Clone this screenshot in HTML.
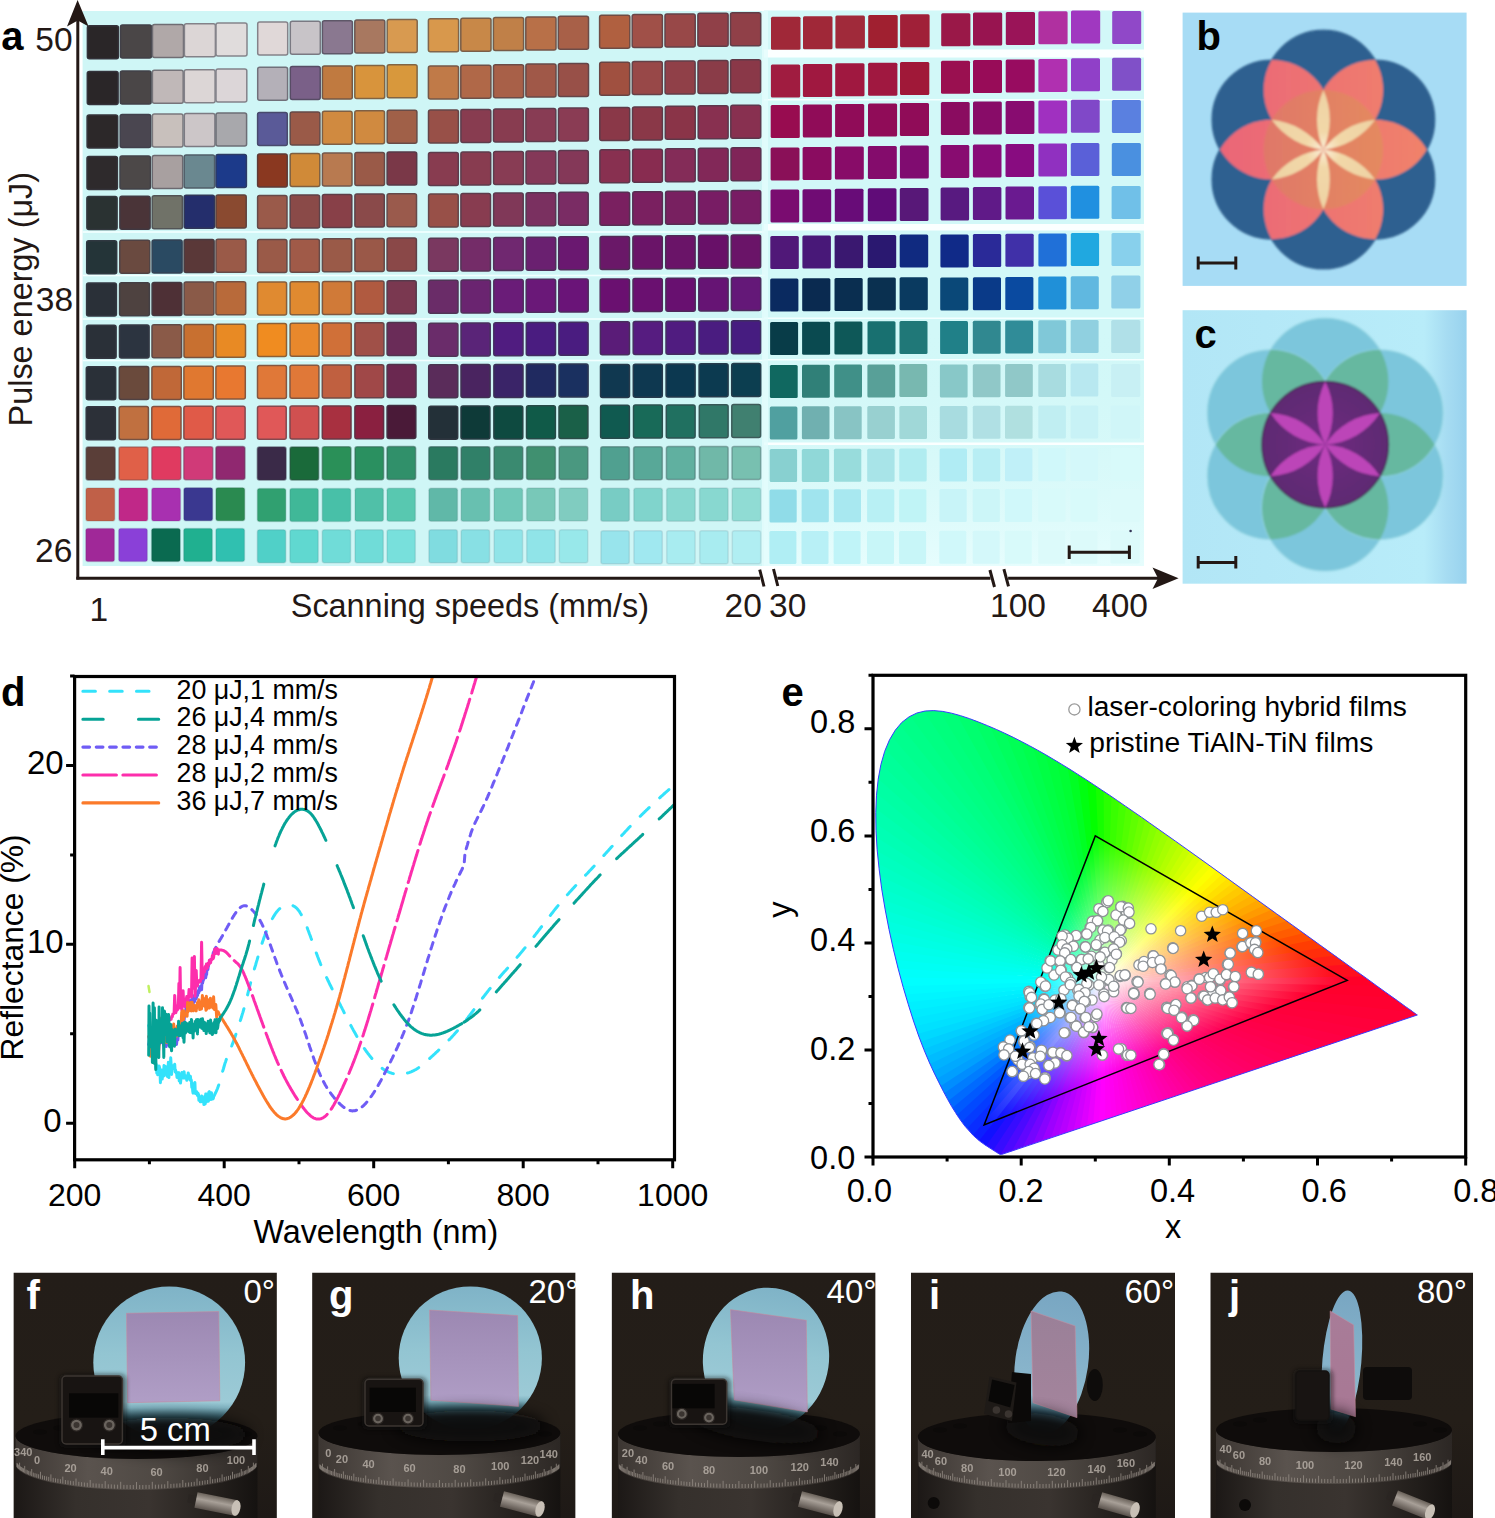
<!DOCTYPE html>
<html><head><meta charset="utf-8"><title>Figure</title>
<style>html,body{margin:0;padding:0;background:#fff;}svg{display:block;}text{font-family:"Liberation Sans",sans-serif;}</style>
</head><body>
<svg width="1495" height="1518" viewBox="0 0 1495 1518">
<rect width="1495" height="1518" fill="#fff"/>
<rect x="82.6" y="11" width="682" height="555" fill="#cff6f6"/>
<rect x="764" y="10.5" width="380" height="555.5" fill="#d2f8f8"/>
<defs><linearGradient id="abr" x1="0" y1="0" x2="0" y2="1"><stop offset="0" stop-color="#d0f6f6" stop-opacity="0"/><stop offset="1" stop-color="#e6fdfd" stop-opacity="1"/></linearGradient></defs>
<rect x="764" y="330" width="380" height="236" fill="url(#abr)"/>
<rect x="764" y="49.5" width="380" height="8" fill="#fbffff"/>
<rect x="764" y="224" width="380" height="6.5" fill="#fbffff"/>
<rect x="764" y="442.5" width="380" height="2.5" fill="#fbffff"/>
<rect x="764" y="99" width="380" height="1.5" fill="#f4ffff"/>
<rect x="764" y="317.5" width="380" height="1.5" fill="#f4ffff"/>
<rect x="764" y="359" width="380" height="1.5" fill="#f4ffff"/>
<rect x="82.6" y="231.2" width="682" height="1.6" fill="#f2ffff"/>
<rect x="82.6" y="274.7" width="682" height="1.6" fill="#f2ffff"/>
<rect x="82.6" y="318.2" width="682" height="1.6" fill="#f2ffff"/>
<rect x="82.6" y="359.7" width="682" height="1.6" fill="#f2ffff"/>
<rect x="762" y="11" width="6" height="555" fill="#e4fcfc" opacity="0.8"/>
<rect x="87.4" y="25.7" width="31.0" height="33" rx="2" fill="#2a2628" stroke="#33323a" stroke-width="1.5" stroke-opacity="1.0"/>
<rect x="120.5" y="25.0" width="31.0" height="33" rx="2" fill="#4a4647" stroke="#414048" stroke-width="1.5" stroke-opacity="1.0"/>
<rect x="152.5" y="24.4" width="31.0" height="33" rx="2" fill="#b0a8a8" stroke="#6f6d73" stroke-width="1.5" stroke-opacity="1.0"/>
<rect x="184.4" y="23.8" width="31.0" height="33" rx="2" fill="#dcd6d6" stroke="#838188" stroke-width="1.5" stroke-opacity="1.0"/>
<rect x="216.0" y="23.1" width="31.0" height="33" rx="2" fill="#e0dcdc" stroke="#85848b" stroke-width="1.5" stroke-opacity="1.0"/>
<rect x="87.3" y="71.5" width="30.8" height="33" rx="2" fill="#2a2628" stroke="#33323a" stroke-width="1.5" stroke-opacity="1.0"/>
<rect x="120.3" y="70.9" width="30.8" height="33" rx="2" fill="#4a4647" stroke="#414048" stroke-width="1.5" stroke-opacity="1.0"/>
<rect x="152.4" y="70.3" width="30.8" height="33" rx="2" fill="#c0b8b8" stroke="#76747a" stroke-width="1.5" stroke-opacity="1.0"/>
<rect x="184.3" y="69.7" width="30.8" height="33" rx="2" fill="#dcd6d6" stroke="#838188" stroke-width="1.5" stroke-opacity="1.0"/>
<rect x="216.0" y="69.1" width="30.8" height="33" rx="2" fill="#dcd6d8" stroke="#838189" stroke-width="1.5" stroke-opacity="1.0"/>
<rect x="87.1" y="115.0" width="30.6" height="33" rx="2" fill="#2c2829" stroke="#34333a" stroke-width="1.5" stroke-opacity="1.0"/>
<rect x="120.2" y="114.5" width="30.6" height="33" rx="2" fill="#4a4650" stroke="#41404c" stroke-width="1.5" stroke-opacity="1.0"/>
<rect x="152.4" y="113.9" width="30.6" height="33" rx="2" fill="#c8c0bc" stroke="#7a777c" stroke-width="1.5" stroke-opacity="1.0"/>
<rect x="184.3" y="113.4" width="30.6" height="33" rx="2" fill="#ccc6c8" stroke="#7c7a82" stroke-width="1.5" stroke-opacity="1.0"/>
<rect x="216.0" y="112.9" width="30.6" height="33" rx="2" fill="#a8a8ac" stroke="#6c6d75" stroke-width="1.5" stroke-opacity="1.0"/>
<rect x="87.0" y="156.5" width="30.4" height="33" rx="2" fill="#2e2a2c" stroke="#35343b" stroke-width="1.5" stroke-opacity="1.0"/>
<rect x="120.0" y="156.0" width="30.4" height="33" rx="2" fill="#4c4848" stroke="#424148" stroke-width="1.5" stroke-opacity="1.0"/>
<rect x="152.3" y="155.5" width="30.4" height="33" rx="2" fill="#a8a0a0" stroke="#6c6970" stroke-width="1.5" stroke-opacity="1.0"/>
<rect x="184.2" y="155.0" width="30.4" height="33" rx="2" fill="#6a8890" stroke="#505e68" stroke-width="1.5" stroke-opacity="1.0"/>
<rect x="216.0" y="154.6" width="30.4" height="33" rx="2" fill="#1c3a8a" stroke="#2c3b66" stroke-width="1.5" stroke-opacity="1.0"/>
<rect x="86.9" y="196.6" width="30.2" height="33" rx="2" fill="#2a3232" stroke="#33383e" stroke-width="1.5" stroke-opacity="1.0"/>
<rect x="119.9" y="196.2" width="30.2" height="33" rx="2" fill="#4a3438" stroke="#413841" stroke-width="1.5" stroke-opacity="1.0"/>
<rect x="152.2" y="195.7" width="30.2" height="33" rx="2" fill="#707268" stroke="#525456" stroke-width="1.5" stroke-opacity="1.0"/>
<rect x="184.2" y="195.3" width="30.2" height="33" rx="2" fill="#242e6c" stroke="#303658" stroke-width="1.5" stroke-opacity="1.0"/>
<rect x="216.0" y="194.9" width="30.2" height="33" rx="2" fill="#8a4a30" stroke="#5e423d" stroke-width="1.5" stroke-opacity="1.0"/>
<rect x="86.7" y="240.7" width="30.0" height="33" rx="2" fill="#243438" stroke="#303841" stroke-width="1.5" stroke-opacity="1.0"/>
<rect x="119.8" y="240.3" width="30.0" height="33" rx="2" fill="#6a4a40" stroke="#504244" stroke-width="1.5" stroke-opacity="1.0"/>
<rect x="152.1" y="239.9" width="30.0" height="33" rx="2" fill="#2a4a62" stroke="#334254" stroke-width="1.5" stroke-opacity="1.0"/>
<rect x="184.1" y="239.6" width="30.0" height="33" rx="2" fill="#5a3838" stroke="#483a41" stroke-width="1.5" stroke-opacity="1.0"/>
<rect x="216.0" y="239.2" width="30.0" height="33" rx="2" fill="#9a5a48" stroke="#654a48" stroke-width="1.5" stroke-opacity="1.0"/>
<rect x="86.6" y="283.0" width="29.8" height="33" rx="2" fill="#2a3038" stroke="#333741" stroke-width="1.5" stroke-opacity="1.0"/>
<rect x="119.6" y="282.7" width="29.8" height="33" rx="2" fill="#4e4240" stroke="#433f44" stroke-width="1.5" stroke-opacity="1.0"/>
<rect x="152.1" y="282.4" width="29.8" height="33" rx="2" fill="#4e3036" stroke="#433740" stroke-width="1.5" stroke-opacity="1.0"/>
<rect x="184.1" y="282.0" width="29.8" height="33" rx="2" fill="#8a5a48" stroke="#5e4a48" stroke-width="1.5" stroke-opacity="1.0"/>
<rect x="215.9" y="281.7" width="29.8" height="33" rx="2" fill="#b86a3a" stroke="#735142" stroke-width="1.5" stroke-opacity="1.0"/>
<rect x="86.5" y="325.3" width="29.6" height="33" rx="2" fill="#2a3038" stroke="#333741" stroke-width="1.5" stroke-opacity="1.0"/>
<rect x="119.5" y="325.0" width="29.6" height="33" rx="2" fill="#2c3440" stroke="#343844" stroke-width="1.5" stroke-opacity="1.0"/>
<rect x="152.0" y="324.8" width="29.6" height="33" rx="2" fill="#8a5a48" stroke="#5e4a48" stroke-width="1.5" stroke-opacity="1.0"/>
<rect x="184.0" y="324.5" width="29.6" height="33" rx="2" fill="#c87030" stroke="#7a533d" stroke-width="1.5" stroke-opacity="1.0"/>
<rect x="215.9" y="324.2" width="29.6" height="33" rx="2" fill="#e88a24" stroke="#885f38" stroke-width="1.5" stroke-opacity="1.0"/>
<rect x="86.3" y="366.8" width="29.4" height="33" rx="2" fill="#2a3038" stroke="#333741" stroke-width="1.5" stroke-opacity="1.0"/>
<rect x="119.3" y="366.6" width="29.4" height="33" rx="2" fill="#6a4a3c" stroke="#504243" stroke-width="1.5" stroke-opacity="1.0"/>
<rect x="151.9" y="366.4" width="29.4" height="33" rx="2" fill="#c06838" stroke="#765041" stroke-width="1.5" stroke-opacity="1.0"/>
<rect x="183.9" y="366.2" width="29.4" height="33" rx="2" fill="#e07830" stroke="#85573d" stroke-width="1.5" stroke-opacity="1.0"/>
<rect x="215.9" y="365.9" width="29.4" height="33" rx="2" fill="#e87830" stroke="#88573d" stroke-width="1.5" stroke-opacity="1.0"/>
<rect x="86.2" y="406.8" width="29.2" height="33" rx="2" fill="#2c3038" stroke="#343741" stroke-width="1.5" stroke-opacity="1.0"/>
<rect x="119.2" y="406.6" width="29.2" height="33" rx="2" fill="#c07040" stroke="#765344" stroke-width="1.5" stroke-opacity="1.0"/>
<rect x="151.8" y="406.5" width="29.2" height="33" rx="2" fill="#e06a38" stroke="#855141" stroke-width="1.5" stroke-opacity="1.0"/>
<rect x="183.9" y="406.3" width="29.2" height="33" rx="2" fill="#e05a48" stroke="#854a48" stroke-width="1.5" stroke-opacity="1.0"/>
<rect x="215.9" y="406.2" width="29.2" height="33" rx="2" fill="#e05858" stroke="#85494f" stroke-width="1.5" stroke-opacity="1.0"/>
<rect x="86.1" y="447.0" width="29.0" height="33" rx="2" fill="#5a3e38" stroke="#483d41" stroke-width="1.5" stroke-opacity="0.55"/>
<rect x="119.0" y="446.9" width="29.0" height="33" rx="2" fill="#e06048" stroke="#854c48" stroke-width="1.5" stroke-opacity="0.55"/>
<rect x="151.8" y="446.8" width="29.0" height="33" rx="2" fill="#e03a60" stroke="#853b53" stroke-width="1.5" stroke-opacity="0.55"/>
<rect x="183.8" y="446.7" width="29.0" height="33" rx="2" fill="#d03a78" stroke="#7e3b5e" stroke-width="1.5" stroke-opacity="0.55"/>
<rect x="215.9" y="446.6" width="29.0" height="33" rx="2" fill="#902870" stroke="#61335a" stroke-width="1.5" stroke-opacity="0.55"/>
<rect x="85.9" y="488.0" width="28.8" height="33" rx="2" fill="#c06048" stroke="#764c48" stroke-width="1.5" stroke-opacity="0.2"/>
<rect x="118.9" y="487.9" width="28.8" height="33" rx="2" fill="#c02888" stroke="#763365" stroke-width="1.5" stroke-opacity="0.2"/>
<rect x="151.7" y="487.9" width="28.8" height="33" rx="2" fill="#a830b0" stroke="#6c3777" stroke-width="1.5" stroke-opacity="0.2"/>
<rect x="183.8" y="487.8" width="28.8" height="33" rx="2" fill="#3a3890" stroke="#3a3a68" stroke-width="1.5" stroke-opacity="0.2"/>
<rect x="215.9" y="487.8" width="28.8" height="33" rx="2" fill="#2a8a50" stroke="#335f4c" stroke-width="1.5" stroke-opacity="0.2"/>
<rect x="85.8" y="528.5" width="28.6" height="33" rx="2" fill="#a02898" stroke="#68336c" stroke-width="1.5" stroke-opacity="0.2"/>
<rect x="118.7" y="528.5" width="28.6" height="33" rx="2" fill="#8a40d8" stroke="#5e3e89" stroke-width="1.5" stroke-opacity="0.2"/>
<rect x="151.6" y="528.5" width="28.6" height="33" rx="2" fill="#0a6a50" stroke="#24514c" stroke-width="1.5" stroke-opacity="0.2"/>
<rect x="183.7" y="528.5" width="28.6" height="33" rx="2" fill="#20b090" stroke="#2e7068" stroke-width="1.5" stroke-opacity="0.2"/>
<rect x="215.9" y="528.5" width="28.6" height="33" rx="2" fill="#30c0b0" stroke="#367777" stroke-width="1.5" stroke-opacity="0.2"/>
<rect x="257.7" y="22.0" width="30.0" height="33" rx="2" fill="#e0d8d8" stroke="#858289" stroke-width="1.5" stroke-opacity="1.0"/>
<rect x="290.3" y="21.3" width="30.0" height="33" rx="2" fill="#c8c4c8" stroke="#7a7982" stroke-width="1.5" stroke-opacity="1.0"/>
<rect x="322.4" y="20.7" width="30.0" height="33" rx="2" fill="#8a7890" stroke="#5e5768" stroke-width="1.5" stroke-opacity="1.0"/>
<rect x="354.8" y="20.1" width="30.0" height="33" rx="2" fill="#a87860" stroke="#6c5753" stroke-width="1.5" stroke-opacity="1.0"/>
<rect x="387.2" y="19.4" width="30.0" height="33" rx="2" fill="#d89a50" stroke="#81664c" stroke-width="1.5" stroke-opacity="1.0"/>
<rect x="257.7" y="67.2" width="29.9" height="33" rx="2" fill="#b4b0b8" stroke="#71707a" stroke-width="1.5" stroke-opacity="1.0"/>
<rect x="290.3" y="66.6" width="29.9" height="33" rx="2" fill="#7a6088" stroke="#574c65" stroke-width="1.5" stroke-opacity="1.0"/>
<rect x="322.4" y="66.0" width="29.9" height="33" rx="2" fill="#c07a40" stroke="#765844" stroke-width="1.5" stroke-opacity="1.0"/>
<rect x="354.8" y="65.4" width="29.9" height="33" rx="2" fill="#d8943c" stroke="#816443" stroke-width="1.5" stroke-opacity="1.0"/>
<rect x="387.2" y="64.8" width="29.9" height="33" rx="2" fill="#d8983c" stroke="#816543" stroke-width="1.5" stroke-opacity="1.0"/>
<rect x="257.6" y="112.4" width="29.7" height="33" rx="2" fill="#5a5a98" stroke="#484a6c" stroke-width="1.5" stroke-opacity="1.0"/>
<rect x="290.2" y="111.9" width="29.7" height="33" rx="2" fill="#9a5a48" stroke="#654a48" stroke-width="1.5" stroke-opacity="1.0"/>
<rect x="322.4" y="111.3" width="29.7" height="33" rx="2" fill="#d08a40" stroke="#7e5f44" stroke-width="1.5" stroke-opacity="1.0"/>
<rect x="354.8" y="110.8" width="29.7" height="33" rx="2" fill="#d08a40" stroke="#7e5f44" stroke-width="1.5" stroke-opacity="1.0"/>
<rect x="387.2" y="110.2" width="29.7" height="33" rx="2" fill="#a06048" stroke="#684c48" stroke-width="1.5" stroke-opacity="1.0"/>
<rect x="257.6" y="153.9" width="29.6" height="33" rx="2" fill="#8a3820" stroke="#5e3a36" stroke-width="1.5" stroke-opacity="1.0"/>
<rect x="290.2" y="153.4" width="29.6" height="33" rx="2" fill="#d08a38" stroke="#7e5f41" stroke-width="1.5" stroke-opacity="1.0"/>
<rect x="322.4" y="152.9" width="29.6" height="33" rx="2" fill="#b87a50" stroke="#73584c" stroke-width="1.5" stroke-opacity="1.0"/>
<rect x="354.9" y="152.4" width="29.6" height="33" rx="2" fill="#9a5a48" stroke="#654a48" stroke-width="1.5" stroke-opacity="1.0"/>
<rect x="387.1" y="152.0" width="29.6" height="33" rx="2" fill="#7a3848" stroke="#573a48" stroke-width="1.5" stroke-opacity="1.0"/>
<rect x="257.6" y="195.4" width="29.4" height="33" rx="2" fill="#9a5a4a" stroke="#654a49" stroke-width="1.5" stroke-opacity="1.0"/>
<rect x="290.2" y="195.0" width="29.4" height="33" rx="2" fill="#8a4a48" stroke="#5e4248" stroke-width="1.5" stroke-opacity="1.0"/>
<rect x="322.4" y="194.5" width="29.4" height="33" rx="2" fill="#884048" stroke="#5d3e48" stroke-width="1.5" stroke-opacity="1.0"/>
<rect x="354.9" y="194.1" width="29.4" height="33" rx="2" fill="#8a4a4a" stroke="#5e4249" stroke-width="1.5" stroke-opacity="1.0"/>
<rect x="387.1" y="193.7" width="29.4" height="33" rx="2" fill="#9a5a4c" stroke="#654a4a" stroke-width="1.5" stroke-opacity="1.0"/>
<rect x="257.6" y="239.6" width="29.3" height="33" rx="2" fill="#9a5a48" stroke="#654a48" stroke-width="1.5" stroke-opacity="1.0"/>
<rect x="290.1" y="239.2" width="29.3" height="33" rx="2" fill="#a05a48" stroke="#684a48" stroke-width="1.5" stroke-opacity="1.0"/>
<rect x="322.4" y="238.8" width="29.3" height="33" rx="2" fill="#9a5a48" stroke="#654a48" stroke-width="1.5" stroke-opacity="1.0"/>
<rect x="354.9" y="238.5" width="29.3" height="33" rx="2" fill="#9a5848" stroke="#654948" stroke-width="1.5" stroke-opacity="1.0"/>
<rect x="387.1" y="238.1" width="29.3" height="33" rx="2" fill="#8a4848" stroke="#5e4148" stroke-width="1.5" stroke-opacity="1.0"/>
<rect x="257.5" y="282.0" width="29.1" height="33" rx="2" fill="#e08a30" stroke="#855f3d" stroke-width="1.5" stroke-opacity="1.0"/>
<rect x="290.1" y="281.7" width="29.1" height="33" rx="2" fill="#e08a30" stroke="#855f3d" stroke-width="1.5" stroke-opacity="1.0"/>
<rect x="322.4" y="281.4" width="29.1" height="33" rx="2" fill="#d07a38" stroke="#7e5841" stroke-width="1.5" stroke-opacity="1.0"/>
<rect x="354.9" y="281.0" width="29.1" height="33" rx="2" fill="#b05a40" stroke="#6f4a44" stroke-width="1.5" stroke-opacity="1.0"/>
<rect x="387.1" y="280.7" width="29.1" height="33" rx="2" fill="#7a3850" stroke="#573a4c" stroke-width="1.5" stroke-opacity="1.0"/>
<rect x="257.5" y="323.6" width="29.0" height="33" rx="2" fill="#f08c20" stroke="#8c6036" stroke-width="1.5" stroke-opacity="1.0"/>
<rect x="290.1" y="323.3" width="29.0" height="33" rx="2" fill="#e8882c" stroke="#885e3b" stroke-width="1.5" stroke-opacity="1.0"/>
<rect x="322.3" y="323.1" width="29.0" height="33" rx="2" fill="#d07038" stroke="#7e5341" stroke-width="1.5" stroke-opacity="1.0"/>
<rect x="354.9" y="322.8" width="29.0" height="33" rx="2" fill="#a05048" stroke="#684548" stroke-width="1.5" stroke-opacity="1.0"/>
<rect x="387.1" y="322.5" width="29.0" height="33" rx="2" fill="#6a2c58" stroke="#50354f" stroke-width="1.5" stroke-opacity="1.0"/>
<rect x="257.5" y="365.4" width="28.9" height="33" rx="2" fill="#e07838" stroke="#855741" stroke-width="1.5" stroke-opacity="1.0"/>
<rect x="290.0" y="365.2" width="28.9" height="33" rx="2" fill="#e07838" stroke="#855741" stroke-width="1.5" stroke-opacity="1.0"/>
<rect x="322.3" y="365.0" width="28.9" height="33" rx="2" fill="#c06040" stroke="#764c44" stroke-width="1.5" stroke-opacity="1.0"/>
<rect x="354.9" y="364.8" width="28.9" height="33" rx="2" fill="#a04848" stroke="#684148" stroke-width="1.5" stroke-opacity="1.0"/>
<rect x="387.1" y="364.5" width="28.9" height="33" rx="2" fill="#6a2850" stroke="#50334c" stroke-width="1.5" stroke-opacity="1.0"/>
<rect x="257.5" y="406.2" width="28.7" height="33" rx="2" fill="#e05858" stroke="#85494f" stroke-width="1.5" stroke-opacity="1.0"/>
<rect x="290.0" y="406.0" width="28.7" height="33" rx="2" fill="#d05050" stroke="#7e454c" stroke-width="1.5" stroke-opacity="1.0"/>
<rect x="322.3" y="405.9" width="28.7" height="33" rx="2" fill="#a83040" stroke="#6c3744" stroke-width="1.5" stroke-opacity="1.0"/>
<rect x="354.9" y="405.7" width="28.7" height="33" rx="2" fill="#8a2040" stroke="#5e2f44" stroke-width="1.5" stroke-opacity="1.0"/>
<rect x="387.1" y="405.6" width="28.7" height="33" rx="2" fill="#4a1a38" stroke="#412d41" stroke-width="1.5" stroke-opacity="1.0"/>
<rect x="257.4" y="447.0" width="28.6" height="33" rx="2" fill="#3a2a48" stroke="#3a3448" stroke-width="1.5" stroke-opacity="0.55"/>
<rect x="290.0" y="446.9" width="28.6" height="33" rx="2" fill="#1a6a3a" stroke="#2c5142" stroke-width="1.5" stroke-opacity="0.55"/>
<rect x="322.3" y="446.8" width="28.6" height="33" rx="2" fill="#2a9058" stroke="#33624f" stroke-width="1.5" stroke-opacity="0.55"/>
<rect x="355.0" y="446.7" width="28.6" height="33" rx="2" fill="#2a9060" stroke="#336253" stroke-width="1.5" stroke-opacity="0.55"/>
<rect x="387.0" y="446.6" width="28.6" height="33" rx="2" fill="#30906a" stroke="#366257" stroke-width="1.5" stroke-opacity="0.55"/>
<rect x="257.4" y="488.5" width="28.4" height="33" rx="2" fill="#30a070" stroke="#36695a" stroke-width="1.5" stroke-opacity="0.2"/>
<rect x="289.9" y="488.4" width="28.4" height="33" rx="2" fill="#40b898" stroke="#3d746c" stroke-width="1.5" stroke-opacity="0.2"/>
<rect x="322.3" y="488.4" width="28.4" height="33" rx="2" fill="#48c0a8" stroke="#407773" stroke-width="1.5" stroke-opacity="0.2"/>
<rect x="355.0" y="488.3" width="28.4" height="33" rx="2" fill="#50c0a8" stroke="#447773" stroke-width="1.5" stroke-opacity="0.2"/>
<rect x="387.0" y="488.3" width="28.4" height="33" rx="2" fill="#58c8b0" stroke="#487b77" stroke-width="1.5" stroke-opacity="0.2"/>
<rect x="257.4" y="529.7" width="28.3" height="33" rx="2" fill="#50d0c8" stroke="#447f82" stroke-width="1.5" stroke-opacity="0.2"/>
<rect x="289.9" y="529.7" width="28.3" height="33" rx="2" fill="#60d8d0" stroke="#4b8285" stroke-width="1.5" stroke-opacity="0.2"/>
<rect x="322.3" y="529.7" width="28.3" height="33" rx="2" fill="#70dcd8" stroke="#528489" stroke-width="1.5" stroke-opacity="0.2"/>
<rect x="355.0" y="529.7" width="28.3" height="33" rx="2" fill="#70dcd8" stroke="#528489" stroke-width="1.5" stroke-opacity="0.2"/>
<rect x="387.0" y="529.7" width="28.3" height="33" rx="2" fill="#78e0dc" stroke="#56868b" stroke-width="1.5" stroke-opacity="0.2"/>
<rect x="428.4" y="18.8" width="30.2" height="33" rx="2" fill="#d8984c" stroke="#81654a" stroke-width="1.5" stroke-opacity="1.0"/>
<rect x="460.8" y="18.2" width="30.2" height="33" rx="2" fill="#c88848" stroke="#7a5e48" stroke-width="1.5" stroke-opacity="1.0"/>
<rect x="493.4" y="17.5" width="30.2" height="33" rx="2" fill="#c08048" stroke="#765b48" stroke-width="1.5" stroke-opacity="1.0"/>
<rect x="525.8" y="16.9" width="30.2" height="33" rx="2" fill="#b87048" stroke="#735348" stroke-width="1.5" stroke-opacity="1.0"/>
<rect x="558.3" y="16.2" width="30.2" height="33" rx="2" fill="#a86048" stroke="#6c4c48" stroke-width="1.5" stroke-opacity="1.0"/>
<rect x="428.4" y="65.9" width="30.1" height="33" rx="2" fill="#c07a48" stroke="#765848" stroke-width="1.5" stroke-opacity="1.0"/>
<rect x="460.8" y="65.3" width="30.1" height="33" rx="2" fill="#b06848" stroke="#6f5048" stroke-width="1.5" stroke-opacity="1.0"/>
<rect x="493.5" y="64.7" width="30.1" height="33" rx="2" fill="#a86048" stroke="#6c4c48" stroke-width="1.5" stroke-opacity="1.0"/>
<rect x="525.9" y="64.1" width="30.1" height="33" rx="2" fill="#a05848" stroke="#684948" stroke-width="1.5" stroke-opacity="1.0"/>
<rect x="558.4" y="63.5" width="30.1" height="33" rx="2" fill="#985048" stroke="#644548" stroke-width="1.5" stroke-opacity="1.0"/>
<rect x="428.5" y="110.1" width="29.9" height="33" rx="2" fill="#985048" stroke="#644548" stroke-width="1.5" stroke-opacity="1.0"/>
<rect x="460.9" y="109.6" width="29.9" height="33" rx="2" fill="#883c50" stroke="#5d3c4c" stroke-width="1.5" stroke-opacity="1.0"/>
<rect x="493.5" y="109.0" width="29.9" height="33" rx="2" fill="#883c50" stroke="#5d3c4c" stroke-width="1.5" stroke-opacity="1.0"/>
<rect x="525.9" y="108.5" width="29.9" height="33" rx="2" fill="#883c54" stroke="#5d3c4d" stroke-width="1.5" stroke-opacity="1.0"/>
<rect x="558.5" y="107.9" width="29.9" height="33" rx="2" fill="#8a3c54" stroke="#5e3c4d" stroke-width="1.5" stroke-opacity="1.0"/>
<rect x="428.5" y="152.5" width="29.8" height="33" rx="2" fill="#883c50" stroke="#5d3c4c" stroke-width="1.5" stroke-opacity="1.0"/>
<rect x="460.9" y="152.0" width="29.8" height="33" rx="2" fill="#883c50" stroke="#5d3c4c" stroke-width="1.5" stroke-opacity="1.0"/>
<rect x="493.6" y="151.5" width="29.8" height="33" rx="2" fill="#883c54" stroke="#5d3c4d" stroke-width="1.5" stroke-opacity="1.0"/>
<rect x="526.0" y="151.0" width="29.8" height="33" rx="2" fill="#843858" stroke="#5b3a4f" stroke-width="1.5" stroke-opacity="1.0"/>
<rect x="558.5" y="150.5" width="29.8" height="33" rx="2" fill="#843858" stroke="#5b3a4f" stroke-width="1.5" stroke-opacity="1.0"/>
<rect x="428.6" y="194.0" width="29.6" height="33" rx="2" fill="#985048" stroke="#644548" stroke-width="1.5" stroke-opacity="1.0"/>
<rect x="460.9" y="193.6" width="29.6" height="33" rx="2" fill="#883c50" stroke="#5d3c4c" stroke-width="1.5" stroke-opacity="1.0"/>
<rect x="493.6" y="193.1" width="29.6" height="33" rx="2" fill="#803858" stroke="#5a3a4f" stroke-width="1.5" stroke-opacity="1.0"/>
<rect x="526.1" y="192.7" width="29.6" height="33" rx="2" fill="#7a3060" stroke="#573753" stroke-width="1.5" stroke-opacity="1.0"/>
<rect x="558.6" y="192.3" width="29.6" height="33" rx="2" fill="#7a2c64" stroke="#573555" stroke-width="1.5" stroke-opacity="1.0"/>
<rect x="428.6" y="238.3" width="29.5" height="33" rx="2" fill="#7a3860" stroke="#573a53" stroke-width="1.5" stroke-opacity="1.0"/>
<rect x="460.9" y="237.9" width="29.5" height="33" rx="2" fill="#742c68" stroke="#543556" stroke-width="1.5" stroke-opacity="1.0"/>
<rect x="493.7" y="237.5" width="29.5" height="33" rx="2" fill="#702870" stroke="#52335a" stroke-width="1.5" stroke-opacity="1.0"/>
<rect x="526.2" y="237.2" width="29.5" height="33" rx="2" fill="#6a2070" stroke="#502f5a" stroke-width="1.5" stroke-opacity="1.0"/>
<rect x="558.7" y="236.8" width="29.5" height="33" rx="2" fill="#6a1870" stroke="#502c5a" stroke-width="1.5" stroke-opacity="1.0"/>
<rect x="428.6" y="280.3" width="29.4" height="33" rx="2" fill="#6a2c68" stroke="#503556" stroke-width="1.5" stroke-opacity="1.0"/>
<rect x="461.0" y="280.0" width="29.4" height="33" rx="2" fill="#6a2470" stroke="#50315a" stroke-width="1.5" stroke-opacity="1.0"/>
<rect x="493.8" y="279.6" width="29.4" height="33" rx="2" fill="#6a1c78" stroke="#502e5e" stroke-width="1.5" stroke-opacity="1.0"/>
<rect x="526.2" y="279.3" width="29.4" height="33" rx="2" fill="#6a1878" stroke="#502c5e" stroke-width="1.5" stroke-opacity="1.0"/>
<rect x="558.8" y="279.0" width="29.4" height="33" rx="2" fill="#6a1478" stroke="#502a5e" stroke-width="1.5" stroke-opacity="1.0"/>
<rect x="428.7" y="323.3" width="29.2" height="33" rx="2" fill="#6a2c6a" stroke="#503557" stroke-width="1.5" stroke-opacity="1.0"/>
<rect x="461.0" y="323.0" width="29.2" height="33" rx="2" fill="#5a2478" stroke="#48315e" stroke-width="1.5" stroke-opacity="1.0"/>
<rect x="493.8" y="322.8" width="29.2" height="33" rx="2" fill="#501c80" stroke="#442e61" stroke-width="1.5" stroke-opacity="1.0"/>
<rect x="526.3" y="322.5" width="29.2" height="33" rx="2" fill="#4a1c80" stroke="#412e61" stroke-width="1.5" stroke-opacity="1.0"/>
<rect x="558.9" y="322.2" width="29.2" height="33" rx="2" fill="#4a1c80" stroke="#412e61" stroke-width="1.5" stroke-opacity="1.0"/>
<rect x="428.7" y="364.8" width="29.1" height="33" rx="2" fill="#5a2c5a" stroke="#483550" stroke-width="1.5" stroke-opacity="1.0"/>
<rect x="461.0" y="364.6" width="29.1" height="33" rx="2" fill="#4a2460" stroke="#413153" stroke-width="1.5" stroke-opacity="1.0"/>
<rect x="493.9" y="364.4" width="29.1" height="33" rx="2" fill="#3a2468" stroke="#3a3156" stroke-width="1.5" stroke-opacity="1.0"/>
<rect x="526.4" y="364.1" width="29.1" height="33" rx="2" fill="#202a60" stroke="#2e3453" stroke-width="1.5" stroke-opacity="1.0"/>
<rect x="559.0" y="363.9" width="29.1" height="33" rx="2" fill="#1a3060" stroke="#2c3753" stroke-width="1.5" stroke-opacity="1.0"/>
<rect x="428.8" y="406.3" width="28.9" height="33" rx="2" fill="#233038" stroke="#303741" stroke-width="1.5" stroke-opacity="1.0"/>
<rect x="461.0" y="406.1" width="28.9" height="33" rx="2" fill="#0e3a38" stroke="#263b41" stroke-width="1.5" stroke-opacity="1.0"/>
<rect x="493.9" y="406.0" width="28.9" height="33" rx="2" fill="#0e4a40" stroke="#264244" stroke-width="1.5" stroke-opacity="1.0"/>
<rect x="526.5" y="405.8" width="28.9" height="33" rx="2" fill="#105a48" stroke="#274a48" stroke-width="1.5" stroke-opacity="1.0"/>
<rect x="559.0" y="405.6" width="28.9" height="33" rx="2" fill="#1a6048" stroke="#2c4c48" stroke-width="1.5" stroke-opacity="1.0"/>
<rect x="428.8" y="446.8" width="28.8" height="33" rx="2" fill="#2a7a60" stroke="#335853" stroke-width="1.5" stroke-opacity="0.55"/>
<rect x="461.1" y="446.7" width="28.8" height="33" rx="2" fill="#308068" stroke="#365b56" stroke-width="1.5" stroke-opacity="0.55"/>
<rect x="494.0" y="446.6" width="28.8" height="33" rx="2" fill="#3a8a70" stroke="#3a5f5a" stroke-width="1.5" stroke-opacity="0.55"/>
<rect x="526.6" y="446.5" width="28.8" height="33" rx="2" fill="#409070" stroke="#3d625a" stroke-width="1.5" stroke-opacity="0.55"/>
<rect x="559.1" y="446.4" width="28.8" height="33" rx="2" fill="#4a9880" stroke="#416561" stroke-width="1.5" stroke-opacity="0.55"/>
<rect x="428.9" y="488.3" width="28.6" height="33" rx="2" fill="#60b8a8" stroke="#4b7473" stroke-width="1.5" stroke-opacity="0.2"/>
<rect x="461.1" y="488.2" width="28.6" height="33" rx="2" fill="#68c0b0" stroke="#4f7777" stroke-width="1.5" stroke-opacity="0.2"/>
<rect x="494.0" y="488.2" width="28.6" height="33" rx="2" fill="#70c8b8" stroke="#527b7a" stroke-width="1.5" stroke-opacity="0.2"/>
<rect x="526.6" y="488.1" width="28.6" height="33" rx="2" fill="#78c8b8" stroke="#567b7a" stroke-width="1.5" stroke-opacity="0.2"/>
<rect x="559.2" y="488.1" width="28.6" height="33" rx="2" fill="#80ccc0" stroke="#5a7d7e" stroke-width="1.5" stroke-opacity="0.2"/>
<rect x="428.9" y="529.8" width="28.5" height="33" rx="2" fill="#80dce0" stroke="#5a848c" stroke-width="1.5" stroke-opacity="0.2"/>
<rect x="461.1" y="529.8" width="28.5" height="33" rx="2" fill="#88e0e4" stroke="#5d868e" stroke-width="1.5" stroke-opacity="0.2"/>
<rect x="494.1" y="529.8" width="28.5" height="33" rx="2" fill="#90e4e8" stroke="#618890" stroke-width="1.5" stroke-opacity="0.2"/>
<rect x="526.7" y="529.8" width="28.5" height="33" rx="2" fill="#90e4e8" stroke="#618890" stroke-width="1.5" stroke-opacity="0.2"/>
<rect x="559.3" y="529.8" width="28.5" height="33" rx="2" fill="#98e8ea" stroke="#648991" stroke-width="1.5" stroke-opacity="0.2"/>
<rect x="599.6" y="15.3" width="30.2" height="33" rx="2" fill="#b06040" stroke="#6f4c44" stroke-width="1.5" stroke-opacity="1.0"/>
<rect x="632.2" y="14.6" width="30.2" height="33" rx="2" fill="#a05048" stroke="#684548" stroke-width="1.5" stroke-opacity="1.0"/>
<rect x="665.0" y="14.0" width="30.2" height="33" rx="2" fill="#984848" stroke="#644148" stroke-width="1.5" stroke-opacity="1.0"/>
<rect x="697.9" y="13.3" width="30.2" height="33" rx="2" fill="#904048" stroke="#613e48" stroke-width="1.5" stroke-opacity="1.0"/>
<rect x="730.5" y="12.7" width="30.2" height="33" rx="2" fill="#904048" stroke="#613e48" stroke-width="1.5" stroke-opacity="1.0"/>
<rect x="599.7" y="62.2" width="30.0" height="33" rx="2" fill="#a05040" stroke="#684544" stroke-width="1.5" stroke-opacity="1.0"/>
<rect x="632.3" y="61.6" width="30.0" height="33" rx="2" fill="#984848" stroke="#644148" stroke-width="1.5" stroke-opacity="1.0"/>
<rect x="665.1" y="61.0" width="30.0" height="33" rx="2" fill="#904048" stroke="#613e48" stroke-width="1.5" stroke-opacity="1.0"/>
<rect x="698.0" y="60.4" width="30.0" height="33" rx="2" fill="#8a3c48" stroke="#5e3c48" stroke-width="1.5" stroke-opacity="1.0"/>
<rect x="730.6" y="59.8" width="30.0" height="33" rx="2" fill="#8a3848" stroke="#5e3a48" stroke-width="1.5" stroke-opacity="1.0"/>
<rect x="599.8" y="107.4" width="29.9" height="33" rx="2" fill="#8a3848" stroke="#5e3a48" stroke-width="1.5" stroke-opacity="1.0"/>
<rect x="632.5" y="106.9" width="29.9" height="33" rx="2" fill="#8a3848" stroke="#5e3a48" stroke-width="1.5" stroke-opacity="1.0"/>
<rect x="665.3" y="106.3" width="29.9" height="33" rx="2" fill="#8a3448" stroke="#5e3848" stroke-width="1.5" stroke-opacity="1.0"/>
<rect x="698.2" y="105.8" width="29.9" height="33" rx="2" fill="#883050" stroke="#5d374c" stroke-width="1.5" stroke-opacity="1.0"/>
<rect x="730.8" y="105.2" width="29.9" height="33" rx="2" fill="#883050" stroke="#5d374c" stroke-width="1.5" stroke-opacity="1.0"/>
<rect x="599.9" y="149.8" width="29.8" height="33" rx="2" fill="#883050" stroke="#5d374c" stroke-width="1.5" stroke-opacity="1.0"/>
<rect x="632.6" y="149.3" width="29.8" height="33" rx="2" fill="#882c50" stroke="#5d354c" stroke-width="1.5" stroke-opacity="1.0"/>
<rect x="665.4" y="148.8" width="29.8" height="33" rx="2" fill="#842c58" stroke="#5b354f" stroke-width="1.5" stroke-opacity="1.0"/>
<rect x="698.3" y="148.3" width="29.8" height="33" rx="2" fill="#822858" stroke="#5a334f" stroke-width="1.5" stroke-opacity="1.0"/>
<rect x="731.0" y="147.8" width="29.8" height="33" rx="2" fill="#802458" stroke="#5a314f" stroke-width="1.5" stroke-opacity="1.0"/>
<rect x="600.0" y="192.2" width="29.6" height="33" rx="2" fill="#7a2060" stroke="#572f53" stroke-width="1.5" stroke-opacity="1.0"/>
<rect x="632.8" y="191.8" width="29.6" height="33" rx="2" fill="#7a2060" stroke="#572f53" stroke-width="1.5" stroke-opacity="1.0"/>
<rect x="665.6" y="191.3" width="29.6" height="33" rx="2" fill="#782060" stroke="#562f53" stroke-width="1.5" stroke-opacity="1.0"/>
<rect x="698.5" y="190.9" width="29.6" height="33" rx="2" fill="#781c64" stroke="#562e55" stroke-width="1.5" stroke-opacity="1.0"/>
<rect x="731.1" y="190.4" width="29.6" height="33" rx="2" fill="#781c64" stroke="#562e55" stroke-width="1.5" stroke-opacity="1.0"/>
<rect x="600.1" y="236.5" width="29.4" height="33" rx="2" fill="#6a1868" stroke="#502c56" stroke-width="1.5" stroke-opacity="1.0"/>
<rect x="632.9" y="236.1" width="29.4" height="33" rx="2" fill="#6a1468" stroke="#502a56" stroke-width="1.5" stroke-opacity="1.0"/>
<rect x="665.7" y="235.7" width="29.4" height="33" rx="2" fill="#6a1468" stroke="#502a56" stroke-width="1.5" stroke-opacity="1.0"/>
<rect x="698.6" y="235.3" width="29.4" height="33" rx="2" fill="#681068" stroke="#4f2856" stroke-width="1.5" stroke-opacity="1.0"/>
<rect x="731.2" y="235.0" width="29.4" height="33" rx="2" fill="#6a1468" stroke="#502a56" stroke-width="1.5" stroke-opacity="1.0"/>
<rect x="600.2" y="278.9" width="29.3" height="33" rx="2" fill="#6a1070" stroke="#50285a" stroke-width="1.5" stroke-opacity="1.0"/>
<rect x="633.0" y="278.6" width="29.3" height="33" rx="2" fill="#6a1070" stroke="#50285a" stroke-width="1.5" stroke-opacity="1.0"/>
<rect x="665.9" y="278.2" width="29.3" height="33" rx="2" fill="#681070" stroke="#4f285a" stroke-width="1.5" stroke-opacity="1.0"/>
<rect x="698.8" y="277.9" width="29.3" height="33" rx="2" fill="#661474" stroke="#4e2a5c" stroke-width="1.5" stroke-opacity="1.0"/>
<rect x="731.4" y="277.6" width="29.3" height="33" rx="2" fill="#641878" stroke="#4d2c5e" stroke-width="1.5" stroke-opacity="1.0"/>
<rect x="600.4" y="321.8" width="29.1" height="33" rx="2" fill="#5a1c78" stroke="#482e5e" stroke-width="1.5" stroke-opacity="1.0"/>
<rect x="633.2" y="321.5" width="29.1" height="33" rx="2" fill="#561c80" stroke="#472e61" stroke-width="1.5" stroke-opacity="1.0"/>
<rect x="666.0" y="321.2" width="29.1" height="33" rx="2" fill="#501c80" stroke="#442e61" stroke-width="1.5" stroke-opacity="1.0"/>
<rect x="699.0" y="321.0" width="29.1" height="33" rx="2" fill="#4a1c80" stroke="#412e61" stroke-width="1.5" stroke-opacity="1.0"/>
<rect x="731.5" y="320.7" width="29.1" height="33" rx="2" fill="#461c80" stroke="#3f2e61" stroke-width="1.5" stroke-opacity="1.0"/>
<rect x="600.5" y="364.4" width="29.0" height="33" rx="2" fill="#103850" stroke="#273a4c" stroke-width="1.5" stroke-opacity="1.0"/>
<rect x="633.3" y="364.2" width="29.0" height="33" rx="2" fill="#0e3850" stroke="#263a4c" stroke-width="1.5" stroke-opacity="1.0"/>
<rect x="666.1" y="364.0" width="29.0" height="33" rx="2" fill="#0c3850" stroke="#253a4c" stroke-width="1.5" stroke-opacity="1.0"/>
<rect x="699.1" y="363.7" width="29.0" height="33" rx="2" fill="#0c3a50" stroke="#253b4c" stroke-width="1.5" stroke-opacity="1.0"/>
<rect x="731.7" y="363.5" width="29.0" height="33" rx="2" fill="#0c3e50" stroke="#253d4c" stroke-width="1.5" stroke-opacity="1.0"/>
<rect x="600.6" y="405.3" width="28.8" height="33" rx="2" fill="#105a50" stroke="#274a4c" stroke-width="1.5" stroke-opacity="1.0"/>
<rect x="633.5" y="405.1" width="28.8" height="33" rx="2" fill="#186a58" stroke="#2b514f" stroke-width="1.5" stroke-opacity="1.0"/>
<rect x="666.3" y="405.0" width="28.8" height="33" rx="2" fill="#207060" stroke="#2e5353" stroke-width="1.5" stroke-opacity="1.0"/>
<rect x="699.3" y="404.8" width="28.8" height="33" rx="2" fill="#307868" stroke="#365756" stroke-width="1.5" stroke-opacity="1.0"/>
<rect x="731.8" y="404.6" width="28.8" height="33" rx="2" fill="#408070" stroke="#3d5b5a" stroke-width="1.5" stroke-opacity="1.0"/>
<rect x="600.7" y="446.8" width="28.7" height="33" rx="2" fill="#50a090" stroke="#446968" stroke-width="1.5" stroke-opacity="0.55"/>
<rect x="633.6" y="446.7" width="28.7" height="33" rx="2" fill="#58a898" stroke="#486d6c" stroke-width="1.5" stroke-opacity="0.55"/>
<rect x="666.4" y="446.6" width="28.7" height="33" rx="2" fill="#60b0a0" stroke="#4b7070" stroke-width="1.5" stroke-opacity="0.55"/>
<rect x="699.4" y="446.5" width="28.7" height="33" rx="2" fill="#70b8a8" stroke="#527473" stroke-width="1.5" stroke-opacity="0.55"/>
<rect x="732.0" y="446.4" width="28.7" height="33" rx="2" fill="#78c0b0" stroke="#567777" stroke-width="1.5" stroke-opacity="0.55"/>
<rect x="600.8" y="488.3" width="28.6" height="33" rx="2" fill="#78ccc4" stroke="#567d80" stroke-width="1.5" stroke-opacity="0.2"/>
<rect x="633.8" y="488.2" width="28.6" height="33" rx="2" fill="#80d4cc" stroke="#5a8083" stroke-width="1.5" stroke-opacity="0.2"/>
<rect x="666.6" y="488.2" width="28.6" height="33" rx="2" fill="#88d8d0" stroke="#5d8285" stroke-width="1.5" stroke-opacity="0.2"/>
<rect x="699.5" y="488.1" width="28.6" height="33" rx="2" fill="#88d8d0" stroke="#5d8285" stroke-width="1.5" stroke-opacity="0.2"/>
<rect x="732.1" y="488.1" width="28.6" height="33" rx="2" fill="#90dcd4" stroke="#618487" stroke-width="1.5" stroke-opacity="0.2"/>
<rect x="600.9" y="530.8" width="28.4" height="33" rx="2" fill="#98e4ec" stroke="#648892" stroke-width="1.5" stroke-opacity="0.2"/>
<rect x="633.9" y="530.8" width="28.4" height="33" rx="2" fill="#a0e8f0" stroke="#688994" stroke-width="1.5" stroke-opacity="0.2"/>
<rect x="666.7" y="530.8" width="28.4" height="33" rx="2" fill="#a8ecf0" stroke="#6c8b94" stroke-width="1.5" stroke-opacity="0.2"/>
<rect x="699.7" y="530.8" width="28.4" height="33" rx="2" fill="#a8ecf0" stroke="#6c8b94" stroke-width="1.5" stroke-opacity="0.2"/>
<rect x="732.3" y="530.8" width="28.4" height="33" rx="2" fill="#b0eef2" stroke="#6f8c94" stroke-width="1.5" stroke-opacity="0.2"/>
<rect x="771.0" y="16.8" width="29.5" height="33" rx="1.5" fill="#a02838"/>
<rect x="803.0" y="16.2" width="29.5" height="33" rx="1.5" fill="#a02838"/>
<rect x="835.4" y="15.5" width="29.5" height="33" rx="1.5" fill="#a02a3a"/>
<rect x="868.2" y="14.9" width="29.5" height="33" rx="1.5" fill="#a02030"/>
<rect x="900.1" y="14.2" width="29.5" height="33" rx="1.5" fill="#a02038"/>
<rect x="770.9" y="64.5" width="29.3" height="33" rx="1.5" fill="#a01c40"/>
<rect x="802.9" y="63.9" width="29.3" height="33" rx="1.5" fill="#a01840"/>
<rect x="835.2" y="63.3" width="29.3" height="33" rx="1.5" fill="#a01840"/>
<rect x="868.1" y="62.7" width="29.3" height="33" rx="1.5" fill="#a01840"/>
<rect x="900.0" y="62.1" width="29.3" height="33" rx="1.5" fill="#a01838"/>
<rect x="770.7" y="105.0" width="29.1" height="33" rx="1.5" fill="#980c50"/>
<rect x="802.8" y="104.5" width="29.1" height="33" rx="1.5" fill="#900c58"/>
<rect x="835.1" y="103.9" width="29.1" height="33" rx="1.5" fill="#900c58"/>
<rect x="868.0" y="103.4" width="29.1" height="33" rx="1.5" fill="#900c58"/>
<rect x="899.9" y="102.9" width="29.1" height="33" rx="1.5" fill="#900c58"/>
<rect x="770.6" y="147.5" width="28.9" height="33" rx="1.5" fill="#8a1058"/>
<rect x="802.6" y="147.0" width="28.9" height="33" rx="1.5" fill="#8a0c60"/>
<rect x="834.9" y="146.5" width="28.9" height="33" rx="1.5" fill="#880c68"/>
<rect x="867.9" y="146.0" width="28.9" height="33" rx="1.5" fill="#840c6c"/>
<rect x="899.9" y="145.6" width="28.9" height="33" rx="1.5" fill="#800c70"/>
<rect x="770.5" y="189.6" width="28.7" height="33" rx="1.5" fill="#7a0c70"/>
<rect x="802.5" y="189.2" width="28.7" height="33" rx="1.5" fill="#700c74"/>
<rect x="834.8" y="188.7" width="28.7" height="33" rx="1.5" fill="#680c78"/>
<rect x="867.8" y="188.3" width="28.7" height="33" rx="1.5" fill="#600c78"/>
<rect x="899.8" y="187.9" width="28.7" height="33" rx="1.5" fill="#581878"/>
<rect x="770.3" y="236.0" width="28.5" height="33" rx="1.5" fill="#501878"/>
<rect x="802.4" y="235.6" width="28.5" height="33" rx="1.5" fill="#481878"/>
<rect x="834.6" y="235.3" width="28.5" height="33" rx="1.5" fill="#3a1870"/>
<rect x="867.7" y="234.9" width="28.5" height="33" rx="1.5" fill="#2a1870"/>
<rect x="899.7" y="234.5" width="28.5" height="33" rx="1.5" fill="#102a80"/>
<rect x="770.2" y="278.5" width="28.2" height="33" rx="1.5" fill="#0a2a60"/>
<rect x="802.2" y="278.2" width="28.2" height="33" rx="1.5" fill="#0a2a50"/>
<rect x="834.5" y="277.9" width="28.2" height="33" rx="1.5" fill="#0a2e50"/>
<rect x="867.6" y="277.5" width="28.2" height="33" rx="1.5" fill="#0a3050"/>
<rect x="899.6" y="277.2" width="28.2" height="33" rx="1.5" fill="#0a3a60"/>
<rect x="770.1" y="322.0" width="28.0" height="33" rx="1.5" fill="#083c48"/>
<rect x="802.1" y="321.7" width="28.0" height="33" rx="1.5" fill="#0a4a50"/>
<rect x="834.4" y="321.5" width="28.0" height="33" rx="1.5" fill="#0e5858"/>
<rect x="867.5" y="321.2" width="28.0" height="33" rx="1.5" fill="#187070"/>
<rect x="899.5" y="320.9" width="28.0" height="33" rx="1.5" fill="#207878"/>
<rect x="769.9" y="365.0" width="27.8" height="33" rx="1.5" fill="#106860"/>
<rect x="802.0" y="364.8" width="27.8" height="33" rx="1.5" fill="#308078"/>
<rect x="834.2" y="364.6" width="27.8" height="33" rx="1.5" fill="#409088"/>
<rect x="867.4" y="364.4" width="27.8" height="33" rx="1.5" fill="#58a098"/>
<rect x="899.4" y="364.1" width="27.8" height="33" rx="1.5" fill="#78b8b0"/>
<rect x="769.8" y="406.5" width="27.6" height="33" rx="1.5" fill="#50a0a0"/>
<rect x="801.9" y="406.3" width="27.6" height="33" rx="1.5" fill="#70b0b0"/>
<rect x="834.1" y="406.2" width="27.6" height="33" rx="1.5" fill="#88c4c4"/>
<rect x="867.3" y="406.0" width="27.6" height="33" rx="1.5" fill="#98d0d0"/>
<rect x="899.4" y="405.9" width="27.6" height="33" rx="1.5" fill="#a0d8d8"/>
<rect x="769.7" y="449.0" width="27.4" height="33" rx="1.5" fill="#88d0d0"/>
<rect x="801.8" y="448.9" width="27.4" height="33" rx="1.5" fill="#90d8d8"/>
<rect x="833.9" y="448.8" width="27.4" height="33" rx="1.5" fill="#98dcdc"/>
<rect x="867.2" y="448.7" width="27.4" height="33" rx="1.5" fill="#a8e4e8"/>
<rect x="899.3" y="448.6" width="27.4" height="33" rx="1.5" fill="#b0ecf0"/>
<rect x="769.5" y="489.4" width="27.2" height="33" rx="1.5" fill="#90dce8"/>
<rect x="801.6" y="489.3" width="27.2" height="33" rx="1.5" fill="#a0e4ee"/>
<rect x="833.8" y="489.3" width="27.2" height="33" rx="1.5" fill="#a8e8f0"/>
<rect x="867.1" y="489.2" width="27.2" height="33" rx="1.5" fill="#b8f0f4"/>
<rect x="899.2" y="489.2" width="27.2" height="33" rx="1.5" fill="#c0f4f6"/>
<rect x="769.4" y="531.0" width="27.0" height="33" rx="1.5" fill="#b0eef4"/>
<rect x="801.5" y="531.0" width="27.0" height="33" rx="1.5" fill="#b8f0f6"/>
<rect x="833.6" y="531.0" width="27.0" height="33" rx="1.5" fill="#c0f4f8"/>
<rect x="867.0" y="531.0" width="27.0" height="33" rx="1.5" fill="#c8f6f8"/>
<rect x="899.1" y="531.0" width="27.0" height="33" rx="1.5" fill="#c8f6f8"/>
<rect x="941.2" y="13.2" width="29.2" height="33" rx="1.5" fill="#9a1848"/>
<rect x="973.0" y="12.6" width="29.2" height="33" rx="1.5" fill="#981450"/>
<rect x="1005.8" y="11.9" width="29.2" height="33" rx="1.5" fill="#9a1458"/>
<rect x="1038.4" y="11.3" width="29.2" height="33" rx="1.5" fill="#b030a0"/>
<rect x="1071.0" y="10.6" width="29.2" height="33" rx="1.5" fill="#a038c0"/>
<rect x="941.0" y="60.7" width="29.0" height="33" rx="1.5" fill="#9a1050"/>
<rect x="973.0" y="60.1" width="29.0" height="33" rx="1.5" fill="#980c58"/>
<rect x="1005.7" y="59.5" width="29.0" height="33" rx="1.5" fill="#980c60"/>
<rect x="1038.4" y="58.9" width="29.0" height="33" rx="1.5" fill="#b030b0"/>
<rect x="1071.0" y="58.3" width="29.0" height="33" rx="1.5" fill="#9040c8"/>
<rect x="940.9" y="102.0" width="28.8" height="33" rx="1.5" fill="#8a0c60"/>
<rect x="973.0" y="101.5" width="28.8" height="33" rx="1.5" fill="#880c68"/>
<rect x="1005.6" y="100.9" width="28.8" height="33" rx="1.5" fill="#880c70"/>
<rect x="1038.4" y="100.4" width="28.8" height="33" rx="1.5" fill="#a030c0"/>
<rect x="1070.9" y="99.8" width="28.8" height="33" rx="1.5" fill="#8048c8"/>
<rect x="940.7" y="145.0" width="28.6" height="33" rx="1.5" fill="#880c70"/>
<rect x="972.9" y="144.5" width="28.6" height="33" rx="1.5" fill="#880c78"/>
<rect x="1005.5" y="144.0" width="28.6" height="33" rx="1.5" fill="#880c80"/>
<rect x="1038.4" y="143.5" width="28.6" height="33" rx="1.5" fill="#9030c0"/>
<rect x="1070.8" y="143.1" width="28.6" height="33" rx="1.5" fill="#5a60d8"/>
<rect x="940.6" y="187.5" width="28.5" height="33" rx="1.5" fill="#581a80"/>
<rect x="972.9" y="187.1" width="28.5" height="33" rx="1.5" fill="#601a88"/>
<rect x="1005.5" y="186.6" width="28.5" height="33" rx="1.5" fill="#6a1a90"/>
<rect x="1038.4" y="186.2" width="28.5" height="33" rx="1.5" fill="#5a50d8"/>
<rect x="1070.8" y="185.8" width="28.5" height="33" rx="1.5" fill="#2090e0"/>
<rect x="940.4" y="234.5" width="28.3" height="33" rx="1.5" fill="#102a88"/>
<rect x="972.9" y="234.1" width="28.3" height="33" rx="1.5" fill="#2a2a98"/>
<rect x="1005.4" y="233.8" width="28.3" height="33" rx="1.5" fill="#4030a8"/>
<rect x="1038.4" y="233.4" width="28.3" height="33" rx="1.5" fill="#2070d8"/>
<rect x="1070.8" y="233.0" width="28.3" height="33" rx="1.5" fill="#20a8e0"/>
<rect x="940.2" y="277.5" width="28.1" height="33" rx="1.5" fill="#0a4878"/>
<rect x="972.9" y="277.2" width="28.1" height="33" rx="1.5" fill="#0a3a88"/>
<rect x="1005.3" y="276.9" width="28.1" height="33" rx="1.5" fill="#0a4aa0"/>
<rect x="1038.3" y="276.5" width="28.1" height="33" rx="1.5" fill="#2090d8"/>
<rect x="1070.7" y="276.2" width="28.1" height="33" rx="1.5" fill="#60b8e0"/>
<rect x="940.1" y="321.0" width="27.9" height="33" rx="1.5" fill="#208088"/>
<rect x="972.8" y="320.7" width="27.9" height="33" rx="1.5" fill="#308890"/>
<rect x="1005.2" y="320.5" width="27.9" height="33" rx="1.5" fill="#308c98"/>
<rect x="1038.3" y="320.2" width="27.9" height="33" rx="1.5" fill="#80c8d8"/>
<rect x="1070.7" y="319.9" width="27.9" height="33" rx="1.5" fill="#90d0e0"/>
<rect x="939.9" y="364.5" width="27.7" height="33" rx="1.5" fill="#88c8c8"/>
<rect x="972.8" y="364.3" width="27.7" height="33" rx="1.5" fill="#90c8c8"/>
<rect x="1005.1" y="364.1" width="27.7" height="33" rx="1.5" fill="#90c8c8"/>
<rect x="1038.3" y="363.9" width="27.7" height="33" rx="1.5" fill="#a8dce0"/>
<rect x="1070.6" y="363.6" width="27.7" height="33" rx="1.5" fill="#b8e8f0"/>
<rect x="939.8" y="406.0" width="27.6" height="33" rx="1.5" fill="#a8dce0"/>
<rect x="972.8" y="405.8" width="27.6" height="33" rx="1.5" fill="#b0e0e4"/>
<rect x="1005.0" y="405.7" width="27.6" height="33" rx="1.5" fill="#b0e0e0"/>
<rect x="1038.3" y="405.5" width="27.6" height="33" rx="1.5" fill="#c0eef2"/>
<rect x="1070.6" y="405.4" width="27.6" height="33" rx="1.5" fill="#c8f2f6"/>
<rect x="939.6" y="448.5" width="27.4" height="33" rx="1.5" fill="#b0ecf4"/>
<rect x="972.8" y="448.4" width="27.4" height="33" rx="1.5" fill="#b8eef4"/>
<rect x="1005.0" y="448.3" width="27.4" height="33" rx="1.5" fill="#c0f0f8"/>
<rect x="1038.3" y="448.2" width="27.4" height="33" rx="1.5" fill="#d0f8fa"/>
<rect x="1070.5" y="448.1" width="27.4" height="33" rx="1.5" fill="#d4f8fa"/>
<rect x="939.5" y="489.0" width="27.2" height="33" rx="1.5" fill="#c8f4f8"/>
<rect x="972.7" y="488.9" width="27.2" height="33" rx="1.5" fill="#ccf6f8"/>
<rect x="1004.9" y="488.9" width="27.2" height="33" rx="1.5" fill="#d0f8fa"/>
<rect x="1038.3" y="488.8" width="27.2" height="33" rx="1.5" fill="#d8fafa"/>
<rect x="1070.5" y="488.8" width="27.2" height="33" rx="1.5" fill="#d8fafa"/>
<rect x="939.3" y="530.8" width="27.0" height="33" rx="1.5" fill="#d0f8fa"/>
<rect x="972.7" y="530.8" width="27.0" height="33" rx="1.5" fill="#d4f8fa"/>
<rect x="1004.8" y="530.8" width="27.0" height="33" rx="1.5" fill="#d8fafa"/>
<rect x="1038.3" y="530.8" width="27.0" height="33" rx="1.5" fill="#dcfafa"/>
<rect x="1070.4" y="530.8" width="27.0" height="33" rx="1.5" fill="#dcfafa"/>
<rect x="1112.2" y="10.9" width="29.0" height="33" rx="1.5" fill="#9048c8"/>
<rect x="1112.1" y="57.8" width="29.0" height="33" rx="1.5" fill="#8050c8"/>
<rect x="1111.9" y="100.0" width="29.0" height="33" rx="1.5" fill="#5a80e0"/>
<rect x="1111.8" y="143.0" width="29.1" height="33" rx="1.5" fill="#4a90e0"/>
<rect x="1111.6" y="186.0" width="29.1" height="33" rx="1.5" fill="#70c0e8"/>
<rect x="1111.5" y="233.0" width="29.1" height="33" rx="1.5" fill="#88d0ec"/>
<rect x="1111.3" y="275.4" width="29.1" height="33" rx="1.5" fill="#90d0e8"/>
<rect x="1111.2" y="320.0" width="29.1" height="33" rx="1.5" fill="#b0e0e8"/>
<rect x="1111.1" y="364.0" width="29.1" height="33" rx="1.5" fill="#c8f0f4"/>
<rect x="1110.9" y="405.5" width="29.1" height="33" rx="1.5" fill="#d0f6f8"/>
<rect x="1110.8" y="448.0" width="29.2" height="33" rx="1.5" fill="#d8fafa"/>
<rect x="1110.6" y="489.0" width="29.2" height="33" rx="1.5" fill="#dcfafa"/>
<rect x="1110.5" y="530.5" width="29.2" height="33" rx="1.5" fill="#dcfafa"/>
<g stroke="#231815" stroke-width="3" fill="none"><path d="M1068 552.3H1130.6M1069.2 545.5V559M1129.4 545.5V559"/></g>
<circle cx="1130.6" cy="531" r="1.3" fill="#335"/>
<path d="M77.8 579.5V20" stroke="#231815" stroke-width="3" fill="none"/>
<path d="M77.6 0L88.6 26.4L77.8 20.6L67 26.4Z" fill="#231815"/>
<path d="M76.3 578.3H760M777.3 578.3H990.5M1008.1 578.3H1160" stroke="#231815" stroke-width="3" fill="none"/>
<path d="M1178.6 578.3L1152.5 567.6L1158 578.3L1152.5 589Z" fill="#231815"/>
<path d="M759.7 569.6L764.0 586.5M773.5 569L777.8 586M989.9 570L994.5 587M1003.9 569.2L1008.5 586.3" stroke="#231815" stroke-width="3" fill="none"/>
<text x="1.2" y="49.8" font-family="Liberation Sans, sans-serif" font-size="40" font-weight="bold" fill="#000">a</text>
<g font-family="Liberation Sans, sans-serif" font-size="33.5" fill="#231815">
<text x="35.3" y="50.8">50</text>
<text x="35.8" y="310.8">38</text>
<text x="35" y="562.4">26</text>
<text x="89.5" y="620.5">1</text>
<text x="724.6" y="616.6">20</text>
<text x="769.1" y="616.6">30</text>
<text x="990" y="616.6">100</text>
<text x="1092" y="616.6">400</text>
</g>
<g font-family="Liberation Sans, sans-serif" font-size="32.4" fill="#231815">
<text transform="translate(31.8 426.4) rotate(-90)">Pulse energy (μJ)</text>
<text x="290.8" y="616.9">Scanning speeds (mm/s)</text>
</g>
<rect x="1182.6" y="12.6" width="284" height="273.3" fill="#a7dcf5"/>
<defs><filter id="fblur" x="-5%" y="-5%" width="110%" height="110%"><feGaussianBlur stdDeviation="0.8"/></filter></defs><g filter="url(#fblur)">
<defs>
<clipPath id="fbc0"><circle cx="1323.40" cy="89.90" r="59.7"/></clipPath>
<clipPath id="fbc1"><circle cx="1271.70" cy="119.75" r="59.7"/></clipPath>
<clipPath id="fbc2"><circle cx="1271.70" cy="179.45" r="59.7"/></clipPath>
<clipPath id="fbc3"><circle cx="1323.40" cy="209.30" r="59.7"/></clipPath>
<clipPath id="fbc4"><circle cx="1375.10" cy="179.45" r="59.7"/></clipPath>
<clipPath id="fbc5"><circle cx="1375.10" cy="119.75" r="59.7"/></clipPath>
<clipPath id="fbcc"><circle cx="1323.4" cy="149.6" r="59.7"/></clipPath>
<linearGradient id="bpink" x1="1210" y1="0" x2="1440" y2="0" gradientUnits="userSpaceOnUse"><stop offset="0" stop-color="#ea6479"/><stop offset="1" stop-color="#f1846a"/></linearGradient><linearGradient id="bor" x1="1265" y1="0" x2="1385" y2="0" gradientUnits="userSpaceOnUse"><stop offset="0" stop-color="#e07868"/><stop offset="1" stop-color="#e48a60"/></linearGradient><radialGradient id="byel" cx="1323.4" cy="149.6" r="60" gradientUnits="userSpaceOnUse"><stop offset="0" stop-color="#fbeed8"/><stop offset="0.3" stop-color="#f2d8a8"/><stop offset="1" stop-color="#eed2a4"/></radialGradient>
</defs>
<circle cx="1323.40" cy="89.90" r="59.7" fill="#2e6090" stroke="#3a6a96" stroke-width="1.2"/>
<circle cx="1271.70" cy="119.75" r="59.7" fill="#2e6090" stroke="#3a6a96" stroke-width="1.2"/>
<circle cx="1271.70" cy="179.45" r="59.7" fill="#2e6090" stroke="#3a6a96" stroke-width="1.2"/>
<circle cx="1323.40" cy="209.30" r="59.7" fill="#2e6090" stroke="#3a6a96" stroke-width="1.2"/>
<circle cx="1375.10" cy="179.45" r="59.7" fill="#2e6090" stroke="#3a6a96" stroke-width="1.2"/>
<circle cx="1375.10" cy="119.75" r="59.7" fill="#2e6090" stroke="#3a6a96" stroke-width="1.2"/>
<circle cx="1271.70" cy="119.75" r="59.7" fill="url(#bpink)" clip-path="url(#fbc0)"/>
<circle cx="1271.70" cy="179.45" r="59.7" fill="url(#bpink)" clip-path="url(#fbc1)"/>
<circle cx="1323.40" cy="209.30" r="59.7" fill="url(#bpink)" clip-path="url(#fbc2)"/>
<circle cx="1375.10" cy="179.45" r="59.7" fill="url(#bpink)" clip-path="url(#fbc3)"/>
<circle cx="1375.10" cy="119.75" r="59.7" fill="url(#bpink)" clip-path="url(#fbc4)"/>
<circle cx="1323.40" cy="89.90" r="59.7" fill="url(#bpink)" clip-path="url(#fbc5)"/>
<circle cx="1323.4" cy="149.6" r="59.7" fill="url(#bor)" stroke="none" stroke-width="1.5"/>
<path d="M1323.4 149.6A72.81 72.81 0 0 1 1323.40 89.90A72.81 72.81 0 0 1 1323.4 149.6Z" fill="url(#byel)"/>
<path d="M1323.4 149.6A72.81 72.81 0 0 1 1271.70 119.75A72.81 72.81 0 0 1 1323.4 149.6Z" fill="url(#byel)"/>
<path d="M1323.4 149.6A72.81 72.81 0 0 1 1271.70 179.45A72.81 72.81 0 0 1 1323.4 149.6Z" fill="url(#byel)"/>
<path d="M1323.4 149.6A72.81 72.81 0 0 1 1323.40 209.30A72.81 72.81 0 0 1 1323.4 149.6Z" fill="url(#byel)"/>
<path d="M1323.4 149.6A72.81 72.81 0 0 1 1375.10 179.45A72.81 72.81 0 0 1 1323.4 149.6Z" fill="url(#byel)"/>
<path d="M1323.4 149.6A72.81 72.81 0 0 1 1375.10 119.75A72.81 72.81 0 0 1 1323.4 149.6Z" fill="url(#byel)"/>
</g>
<text x="1196.5" y="49.6" font-family="Liberation Sans, sans-serif" font-size="40" font-weight="bold" fill="#000">b</text>
<path d="M1197 263H1237M1198.2 256.5V269.6M1235.8 256.5V269.6" stroke="#231815" stroke-width="3" fill="none"/>
<defs><linearGradient id="cbg" x1="1182.6" y1="0" x2="1466.7" y2="0" gradientUnits="userSpaceOnUse"><stop offset="0" stop-color="#b2e6f6"/><stop offset="0.85" stop-color="#b8ecf9"/><stop offset="0.93" stop-color="#a6dcf2"/><stop offset="1" stop-color="#98d2ee"/></linearGradient></defs>
<rect x="1182.6" y="310.2" width="284" height="273.5" fill="url(#cbg)"/>
<g filter="url(#fblur)">
<defs>
<clipPath id="fcc0"><circle cx="1325.20" cy="381.40" r="63.2"/></clipPath>
<clipPath id="fcc1"><circle cx="1270.47" cy="413.00" r="63.2"/></clipPath>
<clipPath id="fcc2"><circle cx="1270.47" cy="476.20" r="63.2"/></clipPath>
<clipPath id="fcc3"><circle cx="1325.20" cy="507.80" r="63.2"/></clipPath>
<clipPath id="fcc4"><circle cx="1379.93" cy="476.20" r="63.2"/></clipPath>
<clipPath id="fcc5"><circle cx="1379.93" cy="413.00" r="63.2"/></clipPath>
<clipPath id="fccc"><circle cx="1325.2" cy="444.6" r="63.2"/></clipPath>
<radialGradient id="cpur" cx="1325.2" cy="444.6" r="63" gradientUnits="userSpaceOnUse"><stop offset="0" stop-color="#6e2c80"/><stop offset="1" stop-color="#5e2a72"/></radialGradient>
</defs>
<circle cx="1325.20" cy="381.40" r="63.2" fill="#7cc6dc" stroke="#9ad8e6" stroke-width="1.2"/>
<circle cx="1270.47" cy="413.00" r="63.2" fill="#7cc6dc" stroke="#9ad8e6" stroke-width="1.2"/>
<circle cx="1270.47" cy="476.20" r="63.2" fill="#7cc6dc" stroke="#9ad8e6" stroke-width="1.2"/>
<circle cx="1325.20" cy="507.80" r="63.2" fill="#7cc6dc" stroke="#9ad8e6" stroke-width="1.2"/>
<circle cx="1379.93" cy="476.20" r="63.2" fill="#7cc6dc" stroke="#9ad8e6" stroke-width="1.2"/>
<circle cx="1379.93" cy="413.00" r="63.2" fill="#7cc6dc" stroke="#9ad8e6" stroke-width="1.2"/>
<circle cx="1270.47" cy="413.00" r="63.2" fill="#66b8a0" clip-path="url(#fcc0)"/>
<circle cx="1270.47" cy="476.20" r="63.2" fill="#66b8a0" clip-path="url(#fcc1)"/>
<circle cx="1325.20" cy="507.80" r="63.2" fill="#66b8a0" clip-path="url(#fcc2)"/>
<circle cx="1379.93" cy="476.20" r="63.2" fill="#66b8a0" clip-path="url(#fcc3)"/>
<circle cx="1379.93" cy="413.00" r="63.2" fill="#66b8a0" clip-path="url(#fcc4)"/>
<circle cx="1325.20" cy="381.40" r="63.2" fill="#66b8a0" clip-path="url(#fcc5)"/>
<circle cx="1325.2" cy="444.6" r="63.2" fill="url(#cpur)" stroke="#4a2a5a" stroke-width="1.5"/>
<path d="M1325.2 444.6A69.49 69.49 0 0 1 1325.20 381.40A69.49 69.49 0 0 1 1325.2 444.6Z" fill="#bc44b8"/>
<path d="M1325.2 444.6A69.49 69.49 0 0 1 1270.47 413.00A69.49 69.49 0 0 1 1325.2 444.6Z" fill="#bc44b8"/>
<path d="M1325.2 444.6A69.49 69.49 0 0 1 1270.47 476.20A69.49 69.49 0 0 1 1325.2 444.6Z" fill="#bc44b8"/>
<path d="M1325.2 444.6A69.49 69.49 0 0 1 1325.20 507.80A69.49 69.49 0 0 1 1325.2 444.6Z" fill="#bc44b8"/>
<path d="M1325.2 444.6A69.49 69.49 0 0 1 1379.93 476.20A69.49 69.49 0 0 1 1325.2 444.6Z" fill="#bc44b8"/>
<path d="M1325.2 444.6A69.49 69.49 0 0 1 1379.93 413.00A69.49 69.49 0 0 1 1325.2 444.6Z" fill="#bc44b8"/>
</g>
<text x="1194.5" y="348.2" font-family="Liberation Sans, sans-serif" font-size="40" font-weight="bold" fill="#000">c</text>
<path d="M1197 562.4H1237M1198.2 556V568.5M1235.8 556V568.5" stroke="#231815" stroke-width="3" fill="none"/>
<defs><clipPath id="dclip"><rect x="74.7" y="676.5" width="600" height="482"/></clipPath></defs>
<g clip-path="url(#dclip)" fill="none" stroke-width="3" stroke-linejoin="round" stroke-linecap="round">
<path d="M148.7 1025.4L149.2 1027.3L149.6 1033.8L150.0 1040.6L150.5 1041.5L150.9 1047.5L151.4 1044.7L151.8 1040.5L152.3 1052.6L152.7 1055.2L153.2 1050.8L153.6 1052.8L154.1 1055.4L154.5 1062.2L155.0 1058.6L155.4 1055.9L155.9 1068.0L156.3 1064.3L156.8 1073.1L157.2 1070.8L157.7 1074.7L158.1 1067.0L158.6 1073.4L159.0 1065.9L159.5 1067.2L159.9 1069.7L160.4 1082.8L160.8 1072.7L161.3 1070.5L161.7 1070.0L162.2 1079.1L162.6 1073.7L163.1 1076.5L163.5 1075.7L164.0 1065.6L164.4 1075.6L164.8 1071.3L165.3 1066.3L165.7 1074.0L166.2 1071.3L166.6 1069.9L167.1 1069.9L167.5 1076.6L168.0 1069.4L168.4 1062.2L168.9 1077.6L169.3 1064.4L169.8 1068.2L170.2 1072.0L170.7 1057.7L171.1 1064.1L171.6 1074.5L172.0 1067.7L172.5 1066.0L172.9 1068.4L173.4 1065.5L173.8 1068.1L174.3 1066.1L174.7 1064.3L175.2 1071.8L175.6 1069.9L176.1 1073.0L176.5 1072.1L177.0 1077.4L177.4 1076.3L177.9 1075.9L178.3 1073.1L178.8 1072.7L179.2 1080.9L179.6 1079.2L180.1 1074.6L180.5 1083.1L181.0 1078.2L181.4 1077.0L181.9 1072.6L182.3 1074.5L182.8 1077.7L183.2 1077.9L183.7 1077.5L184.1 1071.8L184.6 1078.1L185.0 1077.7L185.5 1075.6L185.9 1077.1L186.4 1077.3L186.8 1080.3L187.3 1076.7L187.7 1078.1L188.2 1072.9L188.6 1074.7L189.1 1077.2L189.5 1075.6L190.0 1079.7L190.4 1076.2L190.9 1080.8L191.3 1080.1L191.8 1087.3L192.2 1083.3L192.7 1091.0L193.1 1093.1L193.6 1088.4L194.0 1091.1L194.4 1088.5L194.9 1082.6L195.3 1093.4L195.8 1093.6L196.2 1091.7L196.7 1091.7L197.1 1094.6L197.6 1095.5L198.0 1093.3L198.5 1094.6L198.9 1100.3L199.4 1097.8L199.8 1097.9L200.3 1101.8L200.7 1097.9L201.2 1101.7L201.6 1095.9L202.1 1098.4L202.5 1098.6L203.0 1100.6L203.4 1098.8L203.9 1104.5L204.3 1101.4L204.8 1096.3L205.2 1103.9L205.7 1094.1L206.1 1102.2L206.6 1094.0L207.0 1099.1L207.5 1093.9L207.9 1095.9L208.4 1101.3L208.8 1092.3L209.3 1091.7L209.7 1096.6L210.1 1097.2L210.6 1096.9L211.0 1099.5L211.5 1092.8L211.9 1098.1L212.4 1096.5L212.8 1098.9L213.3 1098.4L213.7 1096.4" stroke="#33e2fb"/>
<path d="M213.7 1096.4L214.5 1095.0L215.2 1093.5L216.0 1092.0L216.7 1090.4L217.5 1088.5L218.2 1086.5L219.0 1084.3L219.7 1081.8L220.5 1079.2L221.2 1076.6L222.0 1073.8L222.7 1071.1L223.5 1068.5L224.2 1066.0L224.9 1063.6L225.7 1061.4L226.4 1059.2L227.2 1057.2L227.9 1055.3L228.7 1053.4L229.4 1051.6L230.2 1049.8L230.9 1047.9L231.7 1046.0L232.4 1044.1L233.2 1042.1L233.9 1040.0L234.7 1037.8L235.4 1035.7L236.2 1033.4L236.9 1031.2L237.7 1028.9L238.4 1026.6L239.2 1024.3L239.9 1022.0L240.6 1019.7L241.4 1017.3L242.1 1014.9L242.9 1012.4L243.6 1009.8L244.4 1007.2L245.1 1004.5L245.9 1001.6L246.6 998.7L247.4 995.7L248.1 992.6L248.9 989.6L249.6 986.6L250.4 983.7L251.1 980.8L251.9 978.0L252.6 975.3L253.4 972.7L254.1 970.1L254.8 967.5L255.6 965.0L256.3 962.4L257.1 959.9L257.8 957.4L258.6 954.9L259.3 952.4L260.1 949.9L260.8 947.4L261.6 944.9L262.3 942.6L263.1 940.3L263.8 938.1L264.6 936.0L265.3 934.0L266.1 932.1L266.8 930.3L267.6 928.6L268.3 926.9L269.1 925.3L269.8 923.7L270.5 922.2L271.3 920.7L272.0 919.3L272.8 917.9L273.5 916.6L274.3 915.4L275.0 914.2L275.8 913.1L276.5 912.1L277.3 911.2L278.0 910.3L278.8 909.5L279.5 908.8L280.3 908.2L281.0 907.6L281.8 907.1L282.5 906.6L283.3 906.2L284.0 905.9L284.7 905.6L285.5 905.4L286.2 905.2L287.0 905.0L287.7 904.9L288.5 904.9L289.2 904.9L290.0 904.9L290.7 905.0L291.5 905.2L292.2 905.4L293.0 905.7L293.7 906.1L294.5 906.5L295.2 907.0L296.0 907.6L296.7 908.3L297.5 909.1L298.2 910.0L299.0 910.9L299.7 912.0L300.4 913.2L301.2 914.5L301.9 915.8L302.7 917.3L303.4 918.9L304.2 920.5L304.9 922.2L305.7 924.0L306.4 925.9L307.2 927.7L307.9 929.7L308.7 931.7L309.4 933.7L310.2 935.8L310.9 937.8L311.7 939.9L312.4 942.0L313.2 944.1L313.9 946.2L314.6 948.3L315.4 950.4L316.1 952.5L316.9 954.5L317.6 956.5L318.4 958.5L319.1 960.4L319.9 962.3L320.6 964.1L321.4 965.9L322.1 967.7L322.9 969.4L323.6 971.1L324.4 972.8L325.1 974.4L325.9 976.0L326.6 977.6L327.4 979.2L328.1 980.8L328.9 982.3L329.6 983.8L330.3 985.3L331.1 986.8L331.8 988.3L332.6 989.8L333.3 991.3L334.1 992.7L334.8 994.2L335.6 995.6L336.3 997.1L337.1 998.6L337.8 1000.0L338.6 1001.5L339.3 1003.0L340.1 1004.5L340.8 1006.0L341.6 1007.4L342.3 1008.9L343.1 1010.4L343.8 1011.9L344.5 1013.3L345.3 1014.8L346.0 1016.3L346.8 1017.7L347.5 1019.2L348.3 1020.6L349.0 1022.0L349.8 1023.5L350.5 1024.9L351.3 1026.3L352.0 1027.7L352.8 1029.1L353.5 1030.4L354.3 1031.8L355.0 1033.1L355.8 1034.5L356.5 1035.8L357.3 1037.1L358.0 1038.4L358.8 1039.6L359.5 1040.9L360.2 1042.1L361.0 1043.3L361.7 1044.5L362.5 1045.6L363.2 1046.8L364.0 1047.9L364.7 1049.0L365.5 1050.1L366.2 1051.2L367.0 1052.2L367.7 1053.2L368.5 1054.2L369.2 1055.2L370.0 1056.1L370.7 1057.1L371.5 1058.0L372.2 1058.9L373.0 1059.7L373.7 1060.6L374.4 1061.4L375.2 1062.2L375.9 1062.9L376.7 1063.7L377.4 1064.4L378.2 1065.1L378.9 1065.7L379.7 1066.4L380.4 1067.0L381.2 1067.6L381.9 1068.2L382.7 1068.7L383.4 1069.2L384.2 1069.7L384.9 1070.2L385.7 1070.6L386.4 1071.0L387.2 1071.4L387.9 1071.7L388.7 1072.1L389.4 1072.4L390.1 1072.7L390.9 1072.9L391.6 1073.2L392.4 1073.4L393.1 1073.6L393.9 1073.7L394.6 1073.9L395.4 1074.0L396.1 1074.1L396.9 1074.2L397.6 1074.2L398.4 1074.2L399.1 1074.3L399.9 1074.2L400.6 1074.2L401.4 1074.2L402.1 1074.1L402.9 1074.0L403.6 1073.9L404.3 1073.8L405.1 1073.7L405.8 1073.5L406.6 1073.3L407.3 1073.1L408.1 1072.9L408.8 1072.7L409.6 1072.4L410.3 1072.1L411.1 1071.8L411.8 1071.5L412.6 1071.2L413.3 1070.8L414.1 1070.4L414.8 1070.0L415.6 1069.6L416.3 1069.2L417.1 1068.7L417.8 1068.2L418.6 1067.7L419.3 1067.2L420.0 1066.7L420.8 1066.1L421.5 1065.5L422.3 1064.9L423.0 1064.3L423.8 1063.7L424.5 1063.1L425.3 1062.4L426.0 1061.8L426.8 1061.1L427.5 1060.4L428.3 1059.7L429.0 1059.1L429.8 1058.4L430.5 1057.7L431.3 1057.0L432.0 1056.3L432.8 1055.6L433.5 1055.0L434.2 1054.3L435.0 1053.6L435.7 1052.9L436.5 1052.2L437.2 1051.5L438.0 1050.8L438.7 1050.1L439.5 1049.4L440.2 1048.7L441.0 1048.0L441.7 1047.2L442.5 1046.5L443.2 1045.8L444.0 1045.1L444.7 1044.3L445.5 1043.6L446.2 1042.8L447.0 1042.1L447.7 1041.3L448.4 1040.5L449.2 1039.8L449.9 1039.0L450.7 1038.2L451.4 1037.4L452.2 1036.6L452.9 1035.8L453.7 1035.0L454.4 1034.1L455.2 1033.3L455.9 1032.4L456.7 1031.6L457.4 1030.7L458.2 1029.8L458.9 1028.9L459.7 1028.0L460.4 1027.1L461.2 1026.2L461.9 1025.3L462.7 1024.3L463.4 1023.4L464.1 1022.5L464.9 1021.5L465.6 1020.5L466.4 1019.6L467.1 1018.6L467.9 1017.6L468.6 1016.6L469.4 1015.7L470.1 1014.7L470.9 1013.7L471.6 1012.7L472.4 1011.7L473.1 1010.7L473.9 1009.7L474.6 1008.7L475.4 1007.7L476.1 1006.7L476.9 1005.7L477.6 1004.7L478.4 1003.7L479.1 1002.7L479.8 1001.7L480.6 1000.7L481.3 999.7L482.1 998.7L482.8 997.7L483.6 996.7L484.3 995.8L485.1 994.8L485.8 993.8L486.6 992.9L487.3 991.9L488.1 991.0L488.8 990.0L489.6 989.1L490.3 988.2L491.1 987.3L491.8 986.4L492.6 985.5L493.3 984.6L494.0 983.7L494.8 982.8L495.5 981.9L496.3 981.0L497.0 980.1L497.8 979.3L498.5 978.4L499.3 977.5L500.0 976.7L500.8 975.8L501.5 975.0L502.3 974.1L503.0 973.2L503.8 972.4L504.5 971.5L505.3 970.7L506.0 969.9L506.8 969.0L507.5 968.2L508.2 967.3L509.0 966.5L509.7 965.6L510.5 964.8L511.2 963.9L512.0 963.1L512.7 962.2L513.5 961.4L514.2 960.5L515.0 959.7L515.7 958.8L516.5 958.0L517.2 957.1L518.0 956.2L518.7 955.4L519.5 954.5L520.2 953.6L521.0 952.7L521.7 951.8L522.5 950.9L523.2 950.0L523.9 949.1L524.7 948.2L525.4 947.3L526.2 946.4L526.9 945.5L527.7 944.5L528.4 943.6L529.2 942.7L529.9 941.7L530.7 940.8L531.4 939.8L532.2 938.9L532.9 937.9L533.7 936.9L534.4 936.0L535.2 935.0L535.9 934.0L536.7 933.1L537.4 932.1L538.2 931.1L538.9 930.2L539.6 929.2L540.4 928.2L541.1 927.2L541.9 926.3L542.6 925.3L543.4 924.3L544.1 923.3L544.9 922.4L545.6 921.4L546.4 920.4L547.1 919.5L547.9 918.5L548.6 917.5L549.4 916.6L550.1 915.6L550.9 914.7L551.6 913.7L552.4 912.7L553.1 911.8L553.8 910.9L554.6 909.9L555.3 909.0L556.1 908.1L556.8 907.1L557.6 906.2L558.3 905.3L559.1 904.4L559.8 903.5L560.6 902.6L561.3 901.7L562.1 900.9L562.8 900.0L563.6 899.1L564.3 898.2L565.1 897.4L565.8 896.5L566.6 895.7L567.3 894.8L568.1 894.0L568.8 893.2L569.5 892.3L570.3 891.5L571.0 890.7L571.8 889.9L572.5 889.1L573.3 888.2L574.0 887.4L574.8 886.6L575.5 885.8L576.3 885.0L577.0 884.2L577.8 883.4L578.5 882.6L579.3 881.8L580.0 881.0L580.8 880.3L581.5 879.5L582.3 878.7L583.0 877.9L583.7 877.1L584.5 876.3L585.2 875.5L586.0 874.7L586.7 874.0L587.5 873.2L588.2 872.4L589.0 871.6L589.7 870.8L590.5 870.0L591.2 869.2L592.0 868.4L592.7 867.6L593.5 866.8L594.2 866.0L595.0 865.2L595.7 864.4L596.5 863.6L597.2 862.8L598.0 862.0L598.7 861.2L599.4 860.4L600.2 859.6L600.9 858.7L601.7 857.9L602.4 857.1L603.2 856.2L603.9 855.4L604.7 854.6L605.4 853.7L606.2 852.9L606.9 852.1L607.7 851.2L608.4 850.4L609.2 849.5L609.9 848.7L610.7 847.9L611.4 847.0L612.2 846.2L612.9 845.3L613.6 844.5L614.4 843.7L615.1 842.8L615.9 842.0L616.6 841.1L617.4 840.3L618.1 839.5L618.9 838.6L619.6 837.8L620.4 837.0L621.1 836.2L621.9 835.3L622.6 834.5L623.4 833.7L624.1 832.9L624.9 832.1L625.6 831.3L626.4 830.5L627.1 829.7L627.9 828.9L628.6 828.1L629.3 827.3L630.1 826.5L630.8 825.7L631.6 824.9L632.3 824.2L633.1 823.4L633.8 822.6L634.6 821.9L635.3 821.1L636.1 820.4L636.8 819.6L637.6 818.9L638.3 818.1L639.1 817.4L639.8 816.6L640.6 815.9L641.3 815.2L642.1 814.4L642.8 813.7L643.5 813.0L644.3 812.3L645.0 811.5L645.8 810.8L646.5 810.1L647.3 809.4L648.0 808.7L648.8 808.0L649.5 807.3L650.3 806.6L651.0 805.9L651.8 805.2L652.5 804.5L653.3 803.8L654.0 803.1L654.8 802.4L655.5 801.7L656.3 801.0L657.0 800.3L657.8 799.7L658.5 799.0L659.2 798.3L660.0 797.6L660.7 796.9L661.5 796.2L662.2 795.6L663.0 794.9L663.7 794.2L664.5 793.5L665.2 792.9L666.0 792.2L666.7 791.5L667.5 790.9L668.2 790.2L669.0 789.5L669.7 788.9L670.5 788.2L671.2 787.5L672.0 786.9L672.7 786.2L673.4 785.5L674.2 784.9L674.9 784.2" stroke="#33e2fb" stroke-dasharray="12.5 14.3" stroke-dashoffset="0"/>
<path d="M148.7 1044.5L149.2 1042.7L149.6 1038.7L150.0 1041.9L150.5 1043.1L150.9 1047.5L151.4 1041.7L151.8 1047.7L152.3 1046.0L152.7 1039.7L153.2 1039.9L153.6 1042.0L154.1 1046.0L154.5 1042.3L155.0 1043.0L155.4 1039.4L155.9 1034.9L156.3 1040.4L156.8 1043.0L157.2 1044.0L157.7 1041.1L158.1 1041.4L158.6 1044.0L159.0 1040.7L159.5 1044.1L159.9 1038.1L160.4 1038.2L160.8 1038.2L161.3 1042.5L161.7 1039.9L162.2 1041.7L162.6 1042.4L163.1 1042.3L163.5 1045.0L164.0 1045.4L164.4 1039.5L164.8 1042.2L165.3 1041.2L165.7 1039.1L166.2 1046.6L166.6 1044.1L167.1 1041.6L167.5 1041.1L168.0 1043.2L168.4 1039.5L168.9 1041.7L169.3 1045.6L169.8 1044.9L170.2 1040.3L170.7 1041.3L171.1 1047.6L171.6 1039.0L172.0 1041.0L172.5 1039.0L172.9 1043.7L173.4 1043.5L173.8 1045.7L174.3 1035.9L174.7 1043.0L175.2 1037.9L175.6 1043.3L176.1 1040.4L176.5 1044.4L177.0 1039.9L177.4 1035.1L177.9 1039.8L178.3 1032.2L178.8 1032.7L179.2 1035.0L179.6 1032.0L180.1 1030.3L180.5 1027.7L181.0 1027.4L181.4 1026.7L181.9 1023.8L182.3 1024.4L182.8 1023.7L183.2 1019.2L183.7 1015.4L184.1 1020.5L184.6 1014.9L185.0 1015.2L185.5 1014.7L185.9 1008.4L186.4 1010.7L186.8 1004.0L187.3 1009.0L187.7 1004.8L188.2 1005.6L188.6 1006.2L189.1 1001.9L189.5 1003.2L190.0 1000.6L190.4 1001.8L190.9 1004.0L191.3 1000.8L191.8 999.9L192.2 997.0L192.7 1001.5L193.1 998.7L193.6 1002.7L194.0 995.8L194.4 1000.0L194.9 1001.3L195.3 996.1L195.8 992.3L196.2 998.7L196.7 996.8L197.1 995.2L197.6 995.5L198.0 990.7L198.5 993.1L198.9 992.1L199.4 987.7L199.8 990.5L200.3 986.4L200.7 989.3L201.2 989.0L201.6 989.7L202.1 978.7L202.5 983.4L203.0 980.7L203.4 980.2L203.9 978.4L204.3 977.4L204.8 971.1L205.2 977.7L205.7 977.8L206.1 975.0L206.6 974.6L207.0 967.7L207.5 966.1L207.9 969.5L208.3 965.8" stroke="#6f5cf5"/>
<path d="M208.3 965.8L209.0 963.8L209.8 961.8L210.5 959.8L211.3 957.9L212.0 955.9L212.8 954.1L213.5 952.3L214.3 950.6L215.0 948.9L215.8 947.4L216.5 945.9L217.2 944.5L218.0 943.2L218.7 942.0L219.5 940.8L220.2 939.5L221.0 938.3L221.7 937.0L222.5 935.7L223.2 934.4L224.0 933.1L224.7 931.8L225.5 930.4L226.2 929.0L227.0 927.7L227.7 926.3L228.5 925.0L229.2 923.6L230.0 922.3L230.7 920.9L231.5 919.6L232.2 918.4L232.9 917.1L233.7 915.9L234.4 914.7L235.2 913.6L235.9 912.5L236.7 911.5L237.4 910.5L238.2 909.7L238.9 908.8L239.7 908.1L240.4 907.5L241.2 906.9L241.9 906.5L242.7 906.1L243.4 905.9L244.2 905.7L244.9 905.7L245.7 905.8L246.4 906.0L247.1 906.2L247.9 906.6L248.6 907.0L249.4 907.6L250.1 908.1L250.9 908.8L251.6 909.5L252.4 910.2L253.1 911.0L253.9 911.8L254.6 912.7L255.4 913.6L256.1 914.5L256.9 915.5L257.6 916.6L258.4 917.7L259.1 918.9L259.9 920.1L260.6 921.5L261.4 922.9L262.1 924.4L262.8 926.0L263.6 927.7L264.3 929.4L265.1 931.2L265.8 933.0L266.6 934.9L267.3 936.8L268.1 938.8L268.8 940.8L269.6 942.9L270.3 944.9L271.1 947.0L271.8 949.1L272.6 951.2L273.3 953.3L274.1 955.4L274.8 957.5L275.6 959.5L276.3 961.6L277.0 963.6L277.8 965.6L278.5 967.5L279.3 969.5L280.0 971.4L280.8 973.3L281.5 975.1L282.3 977.0L283.0 978.8L283.8 980.6L284.5 982.4L285.3 984.2L286.0 985.9L286.8 987.7L287.5 989.4L288.3 991.1L289.0 992.8L289.8 994.5L290.5 996.2L291.3 997.9L292.0 999.5L292.7 1001.2L293.5 1002.9L294.2 1004.6L295.0 1006.3L295.7 1008.1L296.5 1009.8L297.2 1011.6L298.0 1013.4L298.7 1015.3L299.5 1017.2L300.2 1019.1L301.0 1021.1L301.7 1023.2L302.5 1025.3L303.2 1027.4L304.0 1029.5L304.7 1031.7L305.5 1033.9L306.2 1036.1L306.9 1038.3L307.7 1040.6L308.4 1042.8L309.2 1045.1L309.9 1047.3L310.7 1049.5L311.4 1051.7L312.2 1053.9L312.9 1056.0L313.7 1058.2L314.4 1060.3L315.2 1062.3L315.9 1064.3L316.7 1066.3L317.4 1068.2L318.2 1070.1L318.9 1071.9L319.7 1073.6L320.4 1075.3L321.2 1076.9L321.9 1078.4L322.6 1080.0L323.4 1081.4L324.1 1082.8L324.9 1084.2L325.6 1085.5L326.4 1086.8L327.1 1088.0L327.9 1089.2L328.6 1090.3L329.4 1091.4L330.1 1092.5L330.9 1093.5L331.6 1094.5L332.4 1095.5L333.1 1096.4L333.9 1097.4L334.6 1098.3L335.4 1099.1L336.1 1100.0L336.8 1100.8L337.6 1101.6L338.3 1102.4L339.1 1103.1L339.8 1103.9L340.6 1104.6L341.3 1105.3L342.1 1105.9L342.8 1106.5L343.6 1107.1L344.3 1107.7L345.1 1108.2L345.8 1108.6L346.6 1109.1L347.3 1109.5L348.1 1109.8L348.8 1110.1L349.6 1110.3L350.3 1110.6L351.1 1110.7L351.8 1110.8L352.5 1110.9L353.3 1110.8L354.0 1110.8L354.8 1110.7L355.5 1110.5L356.3 1110.3L357.0 1110.0L357.8 1109.7L358.5 1109.3L359.3 1108.9L360.0 1108.4L360.8 1107.9L361.5 1107.3L362.3 1106.7L363.0 1106.1L363.8 1105.4L364.5 1104.6L365.3 1103.9L366.0 1103.1L366.7 1102.2L367.5 1101.3L368.2 1100.4L369.0 1099.5L369.7 1098.5L370.5 1097.5L371.2 1096.4L372.0 1095.3L372.7 1094.2L373.5 1093.1L374.2 1091.9L375.0 1090.7L375.7 1089.5L376.5 1088.3L377.2 1087.0L378.0 1085.7L378.7 1084.4L379.5 1083.1L380.2 1081.8L381.0 1080.4L381.7 1079.0L382.4 1077.6L383.2 1076.2L383.9 1074.8L384.7 1073.3L385.4 1071.9L386.2 1070.4L386.9 1068.9L387.7 1067.4L388.4 1065.9L389.2 1064.4L389.9 1062.9L390.7 1061.4L391.4 1059.9L392.2 1058.3L392.9 1056.8L393.7 1055.2L394.4 1053.7L395.2 1052.1L395.9 1050.5L396.6 1048.9L397.4 1047.3L398.1 1045.6L398.9 1044.0L399.6 1042.3L400.4 1040.6L401.1 1038.9L401.9 1037.1L402.6 1035.3L403.4 1033.5L404.1 1031.7L404.9 1029.8L405.6 1027.9L406.4 1026.0L407.1 1024.0L407.9 1022.0L408.6 1020.0L409.4 1017.9L410.1 1015.8L410.9 1013.6L411.6 1011.5L412.3 1009.2L413.1 1007.0L413.8 1004.7L414.6 1002.4L415.3 1000.0L416.1 997.7L416.8 995.3L417.6 992.9L418.3 990.5L419.1 988.0L419.8 985.6L420.6 983.2L421.3 980.7L422.1 978.2L422.8 975.7L423.6 973.3L424.3 970.8L425.1 968.3L425.8 965.9L426.5 963.4L427.3 960.9L428.0 958.5L428.8 956.1L429.5 953.6L430.3 951.2L431.0 948.8L431.8 946.4L432.5 944.1L433.3 941.7L434.0 939.4L434.8 937.1L435.5 934.8L436.3 932.5L437.0 930.2L437.8 928.0L438.5 925.8L439.3 923.6L440.0 921.4L440.8 919.3L441.5 917.2L442.2 915.1L443.0 913.0L443.7 911.0L444.5 908.9L445.2 907.0L446.0 905.0L446.7 903.1L447.5 901.2L448.2 899.3L449.0 897.5L449.7 895.7L450.5 893.9L451.2 892.1L452.0 890.4L452.7 888.7L453.5 887.0L454.2 885.4L455.0 883.8L455.7 882.2L456.4 880.6L457.2 879.0L457.9 877.5L458.7 876.0L459.4 874.5L460.2 873.0L460.9 871.5L461.7 870.0L462.4 868.5L464.3 862.0L465.0 853.1L465.8 850.4L466.5 847.7L467.3 845.1L468.0 842.5L468.8 839.9L469.5 837.5L470.3 835.2L471.0 832.9L471.8 830.8L472.5 828.9L473.3 827.0L474.0 825.2L474.8 823.5L475.5 821.9L476.3 820.3L477.0 818.8L477.8 817.3L478.5 815.8L479.2 814.4L480.0 812.9L480.7 811.5L481.5 810.0L482.2 808.5L483.0 807.0L483.7 805.4L484.5 803.8L485.2 802.2L486.0 800.5L486.7 798.8L487.5 797.1L488.2 795.4L489.0 793.6L489.7 791.9L490.5 790.1L491.2 788.3L492.0 786.5L492.7 784.7L493.4 782.9L494.2 781.1L494.9 779.3L495.7 777.5L496.4 775.7L497.2 773.8L497.9 772.0L498.7 770.2L499.4 768.3L500.2 766.5L500.9 764.7L501.7 762.8L502.4 760.9L503.2 759.1L503.9 757.2L504.7 755.4L505.4 753.5L506.2 751.6L506.9 749.7L507.7 747.9L508.4 746.0L509.1 744.1L509.9 742.2L510.6 740.3L511.4 738.4L512.1 736.5L512.9 734.6L513.6 732.7L514.4 730.8L515.1 728.8L515.9 726.9L516.6 725.0L517.4 723.1L518.1 721.2L518.9 719.3L519.6 717.3L520.4 715.4L521.1 713.5L521.9 711.6L522.6 709.7L523.3 707.8L524.1 705.9L524.8 703.9L525.6 702.0L526.3 700.1L527.1 698.2L527.8 696.3L528.6 694.4L529.3 692.5L530.1 690.6L530.8 688.7L531.6 686.8L532.3 684.9L533.1 683.0L533.8 681.1L534.6 679.1L535.3 677.2L536.1 675.3L536.8 673.4L537.6 671.5" stroke="#6f5cf5" stroke-dasharray="6.7 6.65" stroke-dashoffset="0"/>
<path d="M149.0 1037.5L149.6 1034.5L150.2 1029.6L150.8 1040.7L151.4 1031.5L152.0 1035.5L152.6 1029.6L153.2 1035.0L153.8 1032.6L154.4 1035.6L155.0 1033.8L155.6 1027.2L156.2 1028.4L156.8 1031.3L157.4 1032.3L158.0 1034.7L158.6 1030.3L159.2 1028.9L159.8 1028.7L160.4 1028.3L161.0 1030.6L161.6 1027.3L162.2 1026.8L162.8 1022.7L163.4 1020.7L164.0 1025.6L164.5 1026.7L165.1 1024.3L165.7 1025.1L166.3 1024.8L166.9 1022.3L167.5 1024.2L168.1 1019.0L168.7 1020.1L169.3 1018.4L169.9 1018.8L170.5 1019.4L171.1 1019.3L171.7 1016.6L172.3 1016.7L172.9 1013.9L173.5 1013.9L174.1 1013.1L174.7 995.4L175.3 1005.9L175.9 1012.7L176.5 1005.7L177.1 1010.2L177.7 1009.3L178.3 1008.2L178.9 983.5L179.5 1007.1L180.1 967.4L180.7 1008.0L181.3 1005.5L181.9 1010.2L182.5 1002.4L183.1 990.8L183.7 1004.7L184.3 1002.7L184.9 1006.5L185.5 998.9L186.1 1000.9L186.7 996.6L187.3 1000.7L187.9 1001.2L188.5 997.5L189.1 989.4L189.7 994.9L190.3 993.2L190.9 996.0L191.5 997.0L192.1 958.1L192.7 962.8L193.3 982.4L193.9 988.3L194.4 956.4L195.0 996.2L195.6 986.3L196.2 970.4L196.8 984.9L197.4 986.0L198.0 981.0L198.6 982.7L199.2 980.6L199.8 980.0L200.4 981.4L201.0 978.2L201.6 942.3L202.2 974.5L202.8 978.3L203.4 971.7L204.0 970.5L204.6 971.9L205.2 966.6L205.8 968.9L206.4 964.1L207.0 968.4L207.6 967.1L208.2 963.3L208.8 964.7L209.4 960.2L210.0 960.4L210.6 962.7L211.2 959.2L211.8 959.6L212.4 955.4L213.0 958.8L213.6 957.5L214.2 952.4L214.8 948.9L215.4 948.9L216.0 953.5L216.6 952.5L217.2 948.4L217.8 952.3L218.4 954.1L218.4 950.0" stroke="#fd2eac"/>
<path d="M218.4 950.0L219.1 950.0L219.9 950.0L220.6 950.0L221.4 950.1L222.1 950.2L222.9 950.4L223.6 950.7L224.3 951.0L225.1 951.5L225.8 952.0L226.6 952.7L227.3 953.4L228.1 954.2L228.8 955.0L229.6 955.9L230.3 956.7L231.1 957.6L231.8 958.4L232.6 959.2L233.3 959.9L234.1 960.6L234.8 961.2L235.6 961.9L236.3 962.5L237.1 963.1L237.8 963.8L238.6 964.6L239.3 965.5L240.0 966.4L240.8 967.6L241.5 968.8L242.3 970.2L243.0 971.7L243.8 973.4L244.5 975.1L245.3 976.9L246.0 978.7L246.8 980.6L247.5 982.6L248.3 984.5L249.0 986.5L249.8 988.5L250.5 990.5L251.3 992.5L252.0 994.6L252.8 996.6L253.5 998.6L254.2 1000.7L255.0 1002.8L255.7 1004.8L256.5 1006.9L257.2 1009.0L258.0 1011.1L258.7 1013.1L259.5 1015.2L260.2 1017.3L261.0 1019.4L261.7 1021.4L262.5 1023.5L263.2 1025.6L264.0 1027.6L264.7 1029.7L265.5 1031.7L266.2 1033.7L267.0 1035.7L267.7 1037.7L268.5 1039.7L269.2 1041.7L269.9 1043.7L270.7 1045.6L271.4 1047.5L272.2 1049.4L272.9 1051.3L273.7 1053.2L274.4 1055.0L275.2 1056.8L275.9 1058.6L276.7 1060.4L277.4 1062.1L278.2 1063.8L278.9 1065.5L279.7 1067.2L280.4 1068.8L281.2 1070.4L281.9 1072.0L282.7 1073.5L283.4 1075.0L284.1 1076.5L284.9 1078.0L285.6 1079.4L286.4 1080.9L287.1 1082.3L287.9 1083.6L288.6 1085.0L289.4 1086.3L290.1 1087.6L290.9 1088.9L291.6 1090.2L292.4 1091.4L293.1 1092.7L293.9 1093.9L294.6 1095.1L295.4 1096.3L296.1 1097.4L296.9 1098.6L297.6 1099.7L298.4 1100.8L299.1 1102.0L299.8 1103.0L300.6 1104.1L301.3 1105.2L302.1 1106.2L302.8 1107.2L303.6 1108.2L304.3 1109.2L305.1 1110.1L305.8 1111.0L306.6 1111.9L307.3 1112.7L308.1 1113.5L308.8 1114.2L309.6 1114.9L310.3 1115.6L311.1 1116.2L311.8 1116.7L312.6 1117.2L313.3 1117.7L314.0 1118.1L314.8 1118.4L315.5 1118.7L316.3 1118.9L317.0 1119.0L317.8 1119.1L318.5 1119.1L319.3 1119.0L320.0 1118.9L320.8 1118.7L321.5 1118.5L322.3 1118.1L323.0 1117.8L323.8 1117.3L324.5 1116.8L325.3 1116.2L326.0 1115.6L326.8 1114.8L327.5 1114.0L328.3 1113.2L329.0 1112.3L329.7 1111.3L330.5 1110.2L331.2 1109.1L332.0 1108.0L332.7 1106.7L333.5 1105.5L334.2 1104.2L335.0 1102.8L335.7 1101.4L336.5 1100.0L337.2 1098.6L338.0 1097.1L338.7 1095.6L339.5 1094.1L340.2 1092.5L341.0 1091.0L341.7 1089.4L342.5 1087.8L343.2 1086.2L343.9 1084.6L344.7 1083.0L345.4 1081.3L346.2 1079.7L346.9 1078.0L347.7 1076.3L348.4 1074.5L349.2 1072.8L349.9 1071.0L350.7 1069.2L351.4 1067.3L352.2 1065.5L352.9 1063.6L353.7 1061.7L354.4 1059.8L355.2 1057.8L355.9 1055.8L356.7 1053.8L357.4 1051.8L358.2 1049.7L358.9 1047.6L359.6 1045.5L360.4 1043.3L361.1 1041.2L361.9 1038.9L362.6 1036.7L363.4 1034.4L364.1 1032.1L364.9 1029.8L365.6 1027.4L366.4 1025.1L367.1 1022.7L367.9 1020.2L368.6 1017.8L369.4 1015.3L370.1 1012.9L370.9 1010.4L371.6 1007.9L372.4 1005.3L373.1 1002.8L373.8 1000.3L374.6 997.7L375.3 995.1L376.1 992.6L376.8 990.0L377.6 987.4L378.3 984.8L379.1 982.2L379.8 979.7L380.6 977.1L381.3 974.5L382.1 971.9L382.8 969.3L383.6 966.7L384.3 964.1L385.1 961.6L385.8 959.0L386.6 956.4L387.3 953.9L388.1 951.3L388.8 948.7L389.5 946.2L390.3 943.6L391.0 941.0L391.8 938.5L392.5 935.9L393.3 933.4L394.0 930.8L394.8 928.3L395.5 925.7L396.3 923.2L397.0 920.6L397.8 918.1L398.5 915.5L399.3 913.0L400.0 910.5L400.8 907.9L401.5 905.4L402.3 902.8L403.0 900.3L403.7 897.8L404.5 895.2L405.2 892.7L406.0 890.1L406.7 887.6L407.5 885.1L408.2 882.6L409.0 880.1L409.7 877.5L410.5 875.0L411.2 872.5L412.0 870.0L412.7 867.6L413.5 865.1L414.2 862.6L415.0 860.2L415.7 857.7L416.5 855.3L417.2 852.9L418.0 850.4L418.7 848.0L419.4 845.7L420.2 843.3L420.9 840.9L421.7 838.6L422.4 836.3L423.2 834.0L423.9 831.7L424.7 829.4L425.4 827.1L426.2 824.9L426.9 822.7L427.7 820.5L428.4 818.3L429.2 816.1L429.9 814.0L430.7 811.9L431.4 809.8L432.2 807.7L432.9 805.6L433.6 803.5L434.4 801.5L435.1 799.4L435.9 797.4L436.6 795.3L437.4 793.3L438.1 791.3L438.9 789.3L439.6 787.3L440.4 785.3L441.1 783.2L441.9 781.2L442.6 779.2L443.4 777.2L444.1 775.2L444.9 773.2L445.6 771.2L446.4 769.1L447.1 767.1L447.9 765.0L448.6 763.0L449.3 760.9L450.1 758.8L450.8 756.7L451.6 754.6L452.3 752.5L453.1 750.4L453.8 748.2L454.6 746.1L455.3 743.9L456.1 741.7L456.8 739.5L457.6 737.3L458.3 735.0L459.1 732.8L459.8 730.5L460.6 728.2L461.3 725.9L462.1 723.6L462.8 721.3L463.5 719.0L464.3 716.7L465.0 714.3L465.8 711.9L466.5 709.6L467.3 707.2L468.0 704.8L468.8 702.4L469.5 699.9L470.3 697.5L471.0 695.1L471.8 692.6L472.5 690.1L473.3 687.7L474.0 685.2L474.8 682.7L475.5 680.2L476.3 677.7L477.0 675.1L477.8 672.6" stroke="#fd2eac" stroke-dasharray="33.5 6.5" stroke-dashoffset="20"/>
<path d="M149.0 1036.4L149.4 1035.8L149.9 1048.0L150.3 1056.2L150.8 1056.0L151.2 1040.3L151.7 1052.7L152.1 1048.5L152.6 1046.1L153.0 1043.1L153.5 1050.7L153.9 1043.4L154.4 1053.8L154.8 1048.5L155.3 1052.7L155.7 1034.1L156.2 1042.4L156.6 1047.3L157.1 1043.6L157.5 1042.1L158.0 1034.2L158.4 1052.3L158.9 1047.4L159.3 1041.7L159.8 1017.9L160.2 1030.3L160.7 1038.6L161.1 1031.6L161.6 1020.5L162.0 1038.7L162.5 1039.5L162.9 1026.6L163.4 1032.1L163.8 1030.4L164.3 1039.7L164.7 1027.8L165.1 1028.5L165.6 1032.8L166.0 1032.1L166.5 1042.6L166.9 1032.0L167.4 1035.1L167.8 1032.5L168.3 1031.4L168.7 1035.3L169.2 1040.5L169.6 1032.2L170.1 1036.5L170.5 1034.7L171.0 1035.6L171.4 1034.4L171.9 1041.9L172.3 1027.9L172.8 1031.4L173.2 1027.8L173.7 1024.1L174.1 1031.5L174.6 1038.3L175.0 1034.2L175.5 1034.9L175.9 1031.6L176.4 1028.6L176.8 1036.1L177.3 1026.2L177.7 1032.7L178.2 1024.8L178.6 1025.6L179.1 1025.6L179.5 1023.9L179.9 1024.9L180.4 1024.4L180.8 1027.8L181.3 1020.5L181.7 1012.4L182.2 1011.2L182.6 1013.1L183.1 1014.9L183.5 1019.7L184.0 1010.7L184.4 1016.0L184.9 1015.4L185.3 1015.7L185.8 1013.5L186.2 1015.0L186.7 1013.0L187.1 1016.3L187.6 1002.5L188.0 1011.9L188.5 1007.7L188.9 1010.8L189.4 1008.5L189.8 1003.0L190.3 1008.5L190.7 1002.6L191.2 1010.9L191.6 1005.4L192.1 1002.3L192.5 1004.6L193.0 1009.9L193.4 1010.8L193.9 1008.4L194.3 1009.3L194.7 1005.4L195.2 1007.2L195.6 1009.2L196.1 1010.9L196.5 1008.4L197.0 1005.9L197.4 1002.7L197.9 1003.8L198.3 1002.5L198.8 999.8L199.2 1002.7L199.7 1009.6L200.1 1004.5L200.6 1008.4L201.0 1002.2L201.5 1009.0L201.9 1002.3L202.4 995.6L202.8 1004.5L203.3 997.7L203.7 1005.5L204.2 1004.9L204.6 1006.2L205.1 1001.9L205.5 1005.6L206.0 1010.3L206.4 996.3L206.9 1009.3L207.3 999.3L207.8 1002.9L208.2 1006.3L208.7 1000.5L209.1 1005.5L209.5 1008.0L210.0 1006.8L210.4 998.2L210.9 1003.3L211.3 999.9L211.8 1006.7L212.2 1001.6L212.7 1008.0L213.1 1006.7L213.6 996.8L214.0 1004.0L214.5 1009.5L214.9 1008.4L215.4 1007.4L215.8 1004.5L216.3 1011.7L216.7 1017.3L217.2 1012.2L217.6 1011.6L218.1 1011.9L218.4 1012.8" stroke="#fb7a2a"/>
<path d="M218.4 1012.8L219.1 1014.0L219.9 1015.2L220.6 1016.4L221.4 1017.6L222.1 1018.8L222.9 1020.0L223.6 1021.2L224.3 1022.4L225.1 1023.6L225.8 1024.8L226.6 1026.0L227.3 1027.2L228.1 1028.4L228.8 1029.7L229.6 1030.9L230.3 1032.2L231.1 1033.4L231.8 1034.7L232.6 1036.0L233.3 1037.3L234.1 1038.7L234.8 1040.0L235.6 1041.4L236.3 1042.8L237.1 1044.2L237.8 1045.7L238.6 1047.1L239.3 1048.6L240.0 1050.1L240.8 1051.6L241.5 1053.1L242.3 1054.6L243.0 1056.1L243.8 1057.6L244.5 1059.2L245.3 1060.7L246.0 1062.2L246.8 1063.8L247.5 1065.3L248.3 1066.8L249.0 1068.4L249.8 1069.9L250.5 1071.4L251.3 1072.9L252.0 1074.4L252.8 1075.8L253.5 1077.3L254.2 1078.7L255.0 1080.2L255.7 1081.6L256.5 1083.0L257.2 1084.5L258.0 1085.9L258.7 1087.3L259.5 1088.7L260.2 1090.0L261.0 1091.4L261.7 1092.8L262.5 1094.2L263.2 1095.5L264.0 1096.9L264.7 1098.2L265.5 1099.5L266.2 1100.7L267.0 1102.0L267.7 1103.2L268.5 1104.4L269.2 1105.5L269.9 1106.7L270.7 1107.7L271.4 1108.8L272.2 1109.8L272.9 1110.7L273.7 1111.6L274.4 1112.5L275.2 1113.3L275.9 1114.1L276.7 1114.8L277.4 1115.5L278.2 1116.1L278.9 1116.6L279.7 1117.1L280.4 1117.6L281.2 1118.0L281.9 1118.3L282.7 1118.5L283.4 1118.7L284.1 1118.8L284.9 1118.9L285.6 1118.9L286.4 1118.8L287.1 1118.7L287.9 1118.4L288.6 1118.2L289.4 1117.8L290.1 1117.4L290.9 1117.0L291.6 1116.4L292.4 1115.8L293.1 1115.2L293.9 1114.5L294.6 1113.7L295.4 1112.9L296.1 1112.0L296.9 1111.0L297.6 1110.0L298.4 1108.9L299.1 1107.8L299.8 1106.6L300.6 1105.4L301.3 1104.1L302.1 1102.7L302.8 1101.3L303.6 1099.9L304.3 1098.4L305.1 1096.8L305.8 1095.2L306.6 1093.6L307.3 1091.9L308.1 1090.2L308.8 1088.4L309.6 1086.6L310.3 1084.8L311.1 1082.9L311.8 1081.0L312.6 1079.1L313.3 1077.2L314.0 1075.2L314.8 1073.2L315.5 1071.2L316.3 1069.2L317.0 1067.1L317.8 1065.0L318.5 1062.9L319.3 1060.8L320.0 1058.7L320.8 1056.6L321.5 1054.5L322.3 1052.3L323.0 1050.1L323.8 1047.9L324.5 1045.7L325.3 1043.5L326.0 1041.2L326.8 1039.0L327.5 1036.7L328.3 1034.4L329.0 1032.0L329.7 1029.7L330.5 1027.3L331.2 1024.9L332.0 1022.5L332.7 1020.1L333.5 1017.6L334.2 1015.1L335.0 1012.6L335.7 1010.1L336.5 1007.5L337.2 1004.9L338.0 1002.3L338.7 999.7L339.5 997.0L340.2 994.3L341.0 991.6L341.7 988.8L342.5 986.0L343.2 983.2L343.9 980.4L344.7 977.6L345.4 974.7L346.2 971.9L346.9 969.0L347.7 966.1L348.4 963.2L349.2 960.3L349.9 957.4L350.7 954.5L351.4 951.6L352.2 948.7L352.9 945.8L353.7 942.9L354.4 940.0L355.2 937.1L355.9 934.2L356.7 931.4L357.4 928.5L358.2 925.7L358.9 922.9L359.6 920.1L360.4 917.3L361.1 914.5L361.9 911.7L362.6 909.0L363.4 906.3L364.1 903.5L364.9 900.8L365.6 898.1L366.4 895.4L367.1 892.8L367.9 890.1L368.6 887.4L369.4 884.8L370.1 882.1L370.9 879.5L371.6 876.9L372.4 874.2L373.1 871.6L373.8 869.0L374.6 866.4L375.3 863.8L376.1 861.2L376.8 858.6L377.6 856.0L378.3 853.4L379.1 850.8L379.8 848.2L380.6 845.6L381.3 843.0L382.1 840.4L382.8 837.8L383.6 835.2L384.3 832.6L385.1 830.0L385.8 827.5L386.6 824.9L387.3 822.3L388.1 819.7L388.8 817.2L389.5 814.6L390.3 812.1L391.0 809.5L391.8 807.0L392.5 804.5L393.3 801.9L394.0 799.4L394.8 796.9L395.5 794.4L396.3 791.9L397.0 789.5L397.8 787.0L398.5 784.5L399.3 782.1L400.0 779.7L400.8 777.2L401.5 774.8L402.3 772.4L403.0 770.1L403.7 767.7L404.5 765.3L405.2 763.0L406.0 760.6L406.7 758.3L407.5 756.0L408.2 753.7L409.0 751.4L409.7 749.1L410.5 746.8L411.2 744.5L412.0 742.2L412.7 739.9L413.5 737.6L414.2 735.3L415.0 733.0L415.7 730.7L416.5 728.4L417.2 726.1L418.0 723.8L418.7 721.5L419.4 719.2L420.2 716.9L420.9 714.6L421.7 712.2L422.4 709.9L423.2 707.5L423.9 705.1L424.7 702.7L425.4 700.3L426.2 697.9L426.9 695.5L427.7 693.0L428.4 690.5L429.2 688.1L429.9 685.5L430.7 683.0L431.4 680.5L432.2 677.9L432.9 675.3L433.6 672.7" stroke="#fb7a2a"/>
<path d="M148.7 1055.3L149.0 1006.1L149.4 1034.5L149.7 1013.0L150.0 1032.3L150.4 1046.8L150.7 1040.0L151.1 1045.1L151.4 1034.3L151.7 1042.2L152.1 1041.0L152.4 1062.4L152.7 1051.3L153.1 1003.0L153.4 1048.7L153.7 1056.2L154.1 1028.8L154.4 1007.7L154.8 1063.9L155.1 1039.3L155.4 1047.5L155.8 1069.6L156.1 1020.3L156.4 1035.1L156.8 1033.1L157.1 1049.2L157.4 1025.2L157.8 1044.6L158.1 1036.7L158.5 1055.5L158.8 1057.5L159.1 1007.1L159.5 1043.1L159.8 1027.2L160.1 1033.3L160.5 1041.1L160.8 1042.1L161.1 1019.4L161.5 1037.5L161.8 1034.3L162.2 1030.6L162.5 1007.7L162.8 1017.3L163.2 1022.9L163.5 1041.4L163.8 1057.4L164.2 1011.5L164.5 1011.2L164.8 1033.0L165.2 1019.6L165.5 1014.9L165.9 1014.0L166.2 1022.2L166.5 1034.6L166.9 1017.1L167.2 1041.9L167.5 1023.1L167.9 1026.6L168.2 1023.3L168.5 1014.4L168.9 1018.1L169.2 1041.7L169.6 1046.7L169.9 1024.3L170.2 1040.8L170.6 1031.9L170.9 1024.4L171.2 1046.6L171.6 1050.8L171.9 1029.6L172.2 1031.6L172.6 1034.1L172.9 1031.5L173.3 1039.5L173.6 1045.3L173.9 1033.2L174.3 1040.3L174.6 1046.2L174.9 1029.3L175.3 1031.6L175.6 1029.5L175.9 1035.3L176.3 1033.8L176.6 1035.1L177.0 1034.5L177.3 1029.7L177.6 1033.8L178.0 1028.7L178.3 1028.7L178.6 1021.3L179.0 1035.8L179.3 1025.9L179.6 1029.9L180.0 1029.5L180.3 1035.5L180.7 1031.1L181.0 1025.8L181.3 1029.2L181.7 1028.4L182.0 1029.9L182.3 1023.6L182.7 1028.6L183.0 1037.8L183.3 1031.3L183.7 1036.7L184.0 1042.2L184.4 1030.4L184.7 1022.3L185.0 1027.8L185.4 1033.0L185.7 1031.9L186.0 1023.0L186.4 1027.1L186.7 1027.5L187.0 1027.9L187.4 1027.4L187.7 1024.1L188.1 1025.1L188.4 1026.5L188.7 1031.8L189.1 1025.1L189.4 1030.2L189.7 1022.5L190.1 1032.6L190.4 1027.7L190.7 1027.1L191.1 1032.7L191.4 1019.6L191.8 1020.7L192.1 1028.9L192.4 1023.5L192.8 1025.2L193.1 1038.0L193.4 1025.6L193.8 1026.9L194.1 1026.3L194.4 1031.2L194.8 1027.7L195.1 1027.2L195.5 1021.3L195.8 1025.0L196.1 1026.4L196.5 1019.7L196.8 1028.6L197.1 1027.9L197.5 1033.9L197.8 1019.4L198.1 1021.9L198.5 1022.1L198.8 1023.1L199.2 1025.4L199.5 1025.0L199.8 1026.9L200.2 1026.7L200.5 1025.6L200.8 1019.3L201.2 1023.4L201.5 1026.0L201.8 1028.2L202.2 1028.4L202.5 1018.8L202.9 1023.5L203.2 1025.5L203.5 1027.3L203.9 1030.6L204.2 1026.2L204.5 1022.3L204.9 1027.8L205.2 1027.3L205.5 1027.4L205.9 1026.1L206.2 1033.6L206.6 1027.9L206.9 1030.7L207.2 1023.4L207.6 1030.7L207.9 1025.1L208.2 1021.2L208.6 1029.3L208.9 1030.7L209.2 1027.4L209.6 1028.4L209.9 1032.8L210.3 1026.7L210.6 1020.1L210.9 1030.0L211.3 1029.9L211.6 1033.6L211.9 1027.8L212.3 1034.6L212.6 1034.0L213.0 1023.8L213.3 1033.1L213.6 1024.5L214.0 1022.5L214.3 1027.7L214.6 1026.1L215.0 1019.8L215.3 1028.6L215.6 1029.9L216.0 1032.7L216.3 1026.2L216.7 1019.4L217.0 1021.1L217.3 1028.6L217.7 1027.6L218.0 1025.4L218.3 1021.2L218.7 1022.6L219.0 1020.1L219.3 1019.0L219.7 1020.8L220.0 1018.9L220.4 1017.0L220.5 1017.6L221.2 1016.6L222.0 1015.6L222.7 1014.5L223.5 1013.4L224.2 1012.3L224.9 1011.2L225.7 1010.0L226.4 1008.7L227.2 1007.4L227.9 1006.0L228.7 1004.5L229.4 1003.0L230.2 1001.3L230.9 999.6L231.7 997.8L232.4 995.9L233.2 993.9L233.9 991.8L234.7 989.7L235.4 987.5L236.2 985.1L236.9 982.8L237.7 980.4L238.4 977.9L239.2 975.5L239.9 973.1L240.6 970.7L241.4 968.4L242.1 966.1L242.9 963.8L243.6 961.6L244.4 959.3L245.1 957.0L245.9 954.6L246.6 952.1L247.4 949.5L248.1 946.8L248.9 943.9L249.6 941.0" stroke="#06a396"/>
<path d="M253.4 925.6L254.1 922.4L254.8 919.4L255.6 916.3L256.3 913.3L257.1 910.3L257.8 907.3L258.6 904.3L259.3 901.4L260.1 898.4L260.8 895.5L261.6 892.6L262.3 889.8L263.1 886.9L263.8 884.1" stroke="#06a396"/>
<path d="M275.0 845.9L275.8 843.8L276.5 841.7L277.3 839.7L278.0 837.8L278.8 836.0L279.5 834.2L280.3 832.5L281.0 830.9L281.8 829.3L282.5 827.8L283.3 826.4L284.0 825.0L284.7 823.7L285.5 822.5L286.2 821.3L287.0 820.1L287.7 819.1L288.5 818.1L289.2 817.1L290.0 816.2L290.7 815.3L291.5 814.5L292.2 813.8L293.0 813.1L293.7 812.5L294.5 811.9L295.2 811.4L296.0 811.0L296.7 810.5L297.5 810.2L298.2 809.9L299.0 809.7L299.7 809.5L300.4 809.3L301.2 809.3L301.9 809.2L302.7 809.3L303.4 809.4L304.2 809.5L304.9 809.7L305.7 810.0L306.4 810.3L307.2 810.7L307.9 811.2L308.7 811.8L309.4 812.4L310.2 813.0L310.9 813.8L311.7 814.6L312.4 815.5L313.2 816.5L313.9 817.5L314.6 818.6L315.4 819.8L316.1 821.0L316.9 822.3L317.6 823.6L318.4 825.0L319.1 826.4L319.9 827.8L320.6 829.3L321.4 830.8L322.1 832.4L322.9 833.9L323.6 835.5L324.4 837.1L325.1 838.7L325.9 840.3" stroke="#06a396"/>
<path d="M337.1 865.6L337.8 867.3L338.6 869.1L339.3 870.9L340.1 872.7L340.8 874.5L341.6 876.4L342.3 878.2L343.1 880.1L343.8 882.0L344.5 883.9L345.3 885.8L346.0 887.7L346.8 889.6L347.5 891.6L348.3 893.6L349.0 895.6L349.8 897.6L350.5 899.6L351.3 901.6L352.0 903.7L352.8 905.7L353.5 907.8" stroke="#06a396"/>
<path d="M363.2 935.7L364.0 937.8L364.7 939.9L365.5 942.0L366.2 944.1L367.0 946.2L367.7 948.2L368.5 950.2L369.2 952.2L370.0 954.2L370.7 956.1L371.5 958.1L372.2 960.0L373.0 961.9L373.7 963.8L374.4 965.6L375.2 967.4L375.9 969.2L376.7 971.0L377.4 972.8L378.2 974.5L378.9 976.2L379.7 977.9L380.4 979.5L381.2 981.1" stroke="#06a396"/>
<path d="M393.9 1004.8L394.6 1006.0L395.4 1007.1L396.1 1008.3L396.9 1009.4L397.6 1010.6L398.4 1011.7L399.1 1012.7L399.9 1013.8L400.6 1014.8L401.4 1015.8L402.1 1016.8L402.9 1017.8L403.6 1018.7L404.3 1019.7L405.1 1020.5L405.8 1021.4L406.6 1022.3L407.3 1023.1L408.1 1023.9L408.8 1024.6L409.6 1025.4L410.3 1026.1L411.1 1026.8L411.8 1027.4L412.6 1028.0L413.3 1028.6L414.1 1029.2L414.8 1029.7L415.6 1030.3L416.3 1030.7L417.1 1031.2L417.8 1031.6L418.6 1032.0L419.3 1032.4L420.0 1032.8L420.8 1033.1L421.5 1033.4L422.3 1033.7L423.0 1033.9L423.8 1034.2L424.5 1034.4L425.3 1034.5L426.0 1034.7L426.8 1034.8L427.5 1035.0L428.3 1035.0L429.0 1035.1L429.8 1035.2L430.5 1035.2L431.3 1035.2L432.0 1035.2L432.8 1035.1L433.5 1035.1L434.2 1035.0L435.0 1034.9L435.7 1034.8L436.5 1034.7L437.2 1034.5L438.0 1034.4L438.7 1034.2L439.5 1034.0L440.2 1033.8L441.0 1033.6L441.7 1033.3L442.5 1033.1L443.2 1032.8L444.0 1032.5L444.7 1032.3L445.5 1032.0L446.2 1031.6L447.0 1031.3L447.7 1031.0L448.4 1030.7L449.2 1030.3L449.9 1030.0L450.7 1029.6L451.4 1029.2L452.2 1028.9L452.9 1028.5L453.7 1028.1L454.4 1027.7L455.2 1027.3L455.9 1026.9L456.7 1026.5L457.4 1026.1L458.2 1025.7L458.9 1025.3L459.7 1024.8L460.4 1024.4L461.2 1024.0L461.9 1023.5" stroke="#06a396"/>
<path d="M464.1 1022.1L464.9 1021.7L465.6 1021.2L466.4 1020.7L467.1 1020.2L467.9 1019.7L468.6 1019.1L469.4 1018.6L470.1 1018.1L470.9 1017.5L471.6 1016.9L472.4 1016.4L473.1 1015.8L473.9 1015.2L474.6 1014.5L475.4 1013.9L476.1 1013.3L476.9 1012.6L477.6 1012.0L478.4 1011.3L479.1 1010.6L479.8 1009.9" stroke="#06a396"/>
<path d="M496.3 991.9L497.0 991.1L497.8 990.2L498.5 989.4L499.3 988.5L500.0 987.7L500.8 986.8L501.5 986.0L502.3 985.1L503.0 984.3L503.8 983.4L504.5 982.6L505.3 981.7L506.0 980.9L506.8 980.1L507.5 979.2L508.2 978.4L509.0 977.5L509.7 976.7L510.5 975.8L511.2 975.0L512.0 974.1L512.7 973.3L513.5 972.4L514.2 971.6L515.0 970.7L515.7 969.9L516.5 969.0L517.2 968.1L518.0 967.3L518.7 966.4L519.5 965.6L520.2 964.7" stroke="#06a396"/>
<path d="M535.9 946.3L536.7 945.5L537.4 944.6L538.2 943.7L538.9 942.8L539.6 942.0L540.4 941.1L541.1 940.2L541.9 939.3L542.6 938.5L543.4 937.6L544.1 936.7L544.9 935.8L545.6 935.0L546.4 934.1L547.1 933.2L547.9 932.4L548.6 931.5L549.4 930.6L550.1 929.8L550.9 928.9L551.6 928.0L552.4 927.2L553.1 926.3L553.8 925.5L554.6 924.6L555.3 923.8L556.1 922.9L556.8 922.1L557.6 921.2L558.3 920.4L559.1 919.5" stroke="#06a396"/>
<path d="M574.0 903.1L574.8 902.3L575.5 901.5L576.3 900.6L577.0 899.8L577.8 899.0L578.5 898.2L579.3 897.4L580.0 896.6L580.8 895.7L581.5 894.9L582.3 894.1L583.0 893.3L583.7 892.5L584.5 891.7L585.2 890.8L586.0 890.0L586.7 889.2L587.5 888.4L588.2 887.6L589.0 886.8L589.7 886.0L590.5 885.1L591.2 884.3L592.0 883.5L592.7 882.7L593.5 881.9L594.2 881.1L595.0 880.3L595.7 879.5L596.5 878.8L597.2 878.0L598.0 877.2L598.7 876.4L599.4 875.6L600.2 874.9" stroke="#06a396"/>
<path d="M616.6 858.7L617.4 858.0L618.1 857.3L618.9 856.5L619.6 855.8L620.4 855.1L621.1 854.4L621.9 853.7L622.6 853.1L623.4 852.4L624.1 851.7L624.9 851.0L625.6 850.3L626.4 849.6L627.1 848.9L627.9 848.2L628.6 847.5L629.3 846.8L630.1 846.1L630.8 845.5L631.6 844.8L632.3 844.1L633.1 843.4L633.8 842.7L634.6 842.0L635.3 841.3L636.1 840.6L636.8 840.0L637.6 839.3L638.3 838.6L639.1 837.9L639.8 837.2L640.6 836.5L641.3 835.8L642.1 835.1L642.8 834.4" stroke="#06a396"/>
<path d="M659.2 818.9L660.0 818.2L660.7 817.5L661.5 816.8L662.2 816.1L663.0 815.4L663.7 814.6L664.5 813.9L665.2 813.2L666.0 812.5L666.7 811.8L667.5 811.1L668.2 810.3L669.0 809.6L669.7 808.9L670.5 808.2L671.2 807.5L672.0 806.7L672.7 806.0L673.4 805.3L674.2 804.6L674.9 803.9" stroke="#06a396"/>
</g>
<path d="M148.5 986L149.5 992" stroke="#c0f060" stroke-width="2.5" stroke-linecap="round"/>
<rect x="74.6" y="676.5" width="599.9" height="483.3" fill="none" stroke="#000" stroke-width="3.2"/>
<path d="M74.7 1159.8V1168.3M149.4 1159.8V1164.3M224.2 1159.8V1168.3M299.0 1159.8V1164.3M373.7 1159.8V1168.3M448.4 1159.8V1164.3M523.2 1159.8V1168.3M598.0 1159.8V1164.3M672.7 1159.8V1168.3M74.6 1123.2H66.1M74.6 1033.8H70.1M74.6 944.3H66.1M74.6 854.9H70.1M74.6 765.4H66.1M74.6 676.0H70.1" stroke="#000" stroke-width="3" fill="none"/>
<g font-family="Liberation Sans, sans-serif" font-size="32" fill="#000">
<text x="74.7" y="1205.8" text-anchor="middle">200</text>
<text x="224.2" y="1205.8" text-anchor="middle">400</text>
<text x="373.7" y="1205.8" text-anchor="middle">600</text>
<text x="523.2" y="1205.8" text-anchor="middle">800</text>
<text x="672.7" y="1205.8" text-anchor="middle">1000</text>
</g><g font-family="Liberation Sans, sans-serif" font-size="33" fill="#000">
<text x="61.6" y="1132.2" text-anchor="end">0</text>
<text x="63.6" y="953.3" text-anchor="end">10</text>
<text x="63.6" y="774.4" text-anchor="end">20</text>
<text x="375.8" y="1242.8" text-anchor="middle" font-size="32.3">Wavelength (nm)</text>
<text transform="translate(23.2 947.4) rotate(-90)" text-anchor="middle" font-size="31.8">Reflectance (%)</text>
</g>
<text x="1" y="706.3" font-family="Liberation Sans, sans-serif" font-size="40" font-weight="bold" fill="#000">d</text>
<path d="M82.9 691.3H158.7" stroke="#33e2fb" stroke-width="3.1" stroke-linecap="round" fill="none" stroke-dasharray="12.5 14.3"/>
<text x="176.5" y="698.5" font-family="Liberation Sans, sans-serif" font-size="26.8" fill="#000">20 μJ,1 mm/s</text>
<path d="M82.9 719.2H158.7" stroke="#06a396" stroke-width="3.1" stroke-linecap="round" fill="none" stroke-dasharray="20.3 35.3"/>
<text x="176.5" y="726.4" font-family="Liberation Sans, sans-serif" font-size="26.8" fill="#000">26 μJ,4 mm/s</text>
<path d="M82.9 747.1H158.7" stroke="#6f5cf5" stroke-width="3.1" stroke-linecap="round" fill="none" stroke-dasharray="6.7 6.65"/>
<text x="176.5" y="754.3" font-family="Liberation Sans, sans-serif" font-size="26.8" fill="#000">28 μJ,4 mm/s</text>
<path d="M82.9 775.0H158.7" stroke="#fd2eac" stroke-width="3.1" stroke-linecap="round" fill="none" stroke-dasharray="33.5 6.5"/>
<text x="176.5" y="782.2" font-family="Liberation Sans, sans-serif" font-size="26.8" fill="#000">28 μJ,2 mm/s</text>
<path d="M82.9 802.9H158.7" stroke="#fb7a2a" stroke-width="3.1" stroke-linecap="round" fill="none"/>
<text x="176.5" y="810.1" font-family="Liberation Sans, sans-serif" font-size="26.8" fill="#000">36 μJ,7 mm/s</text>
<defs>
<clipPath id="hs"><path d="M1002.0 1154.3 L1001.9 1154.3 L1001.8 1154.4 L1001.6 1154.4 L1001.4 1154.4 L1001.2 1154.4 L1000.9 1154.4 L1000.5 1154.4 L1000.0 1154.3 L999.2 1153.9 L998.1 1153.3 L996.7 1152.4 L994.8 1151.2 L992.3 1149.6 L989.0 1147.5 L984.8 1144.8 L979.7 1141.1 L973.4 1135.6 L964.9 1126.1 L962.0 1122.2 L958.8 1117.7 L955.4 1112.4 L951.7 1106.5 L947.8 1099.6 L943.6 1091.8 L939.1 1082.9 L934.2 1073.0 L929.1 1061.9 L923.9 1049.6 L918.7 1036.0 L913.5 1021.0 L908.4 1004.8 L903.2 987.3 L898.2 968.8 L893.4 949.4 L889.0 929.4 L885.1 909.2 L881.7 888.9 L879.1 868.8 L877.1 849.3 L876.0 830.4 L875.8 812.4 L876.5 795.2 L878.2 779.2 L880.9 764.5 L884.7 751.3 L889.5 739.8 L895.3 730.1 L901.8 722.4 L909.1 716.8 L916.9 713.0 L925.2 711.0 L933.8 710.6 L942.6 711.4 L951.6 713.2 L960.6 715.7 L969.7 718.7 L978.7 722.1 L987.6 725.7 L996.3 729.4 L1004.8 733.3 L1013.2 737.3 L1021.4 741.5 L1029.6 745.8 L1037.7 750.2 L1045.8 754.8 L1053.9 759.6 L1061.9 764.4 L1069.9 769.3 L1077.9 774.4 L1085.9 779.5 L1093.8 784.7 L1101.7 790.0 L1109.7 795.3 L1117.6 800.7 L1125.5 806.2 L1133.5 811.7 L1141.5 817.2 L1149.4 822.8 L1175.8 841.4 L1202.0 860.1 L1227.7 878.6 L1252.7 896.6 L1276.6 913.8 L1299.2 930.0 L1319.7 944.8 L1337.5 957.6 L1353.2 968.9 L1366.3 978.2 L1376.8 985.9 L1385.3 992.0 L1392.0 996.8 L1397.5 1000.7 L1402.0 1004.0 L1405.7 1006.7 L1408.6 1008.7 L1410.9 1010.3 L1412.6 1011.6 L1413.8 1012.5 L1414.8 1013.2 L1415.5 1013.7 L1416.0 1014.1 L1416.4 1014.3 L1416.6 1014.5 L1416.8 1014.6 L1417.0 1014.8 L1417.3 1015.0Z"/></clipPath>
<linearGradient id="w0" gradientUnits="userSpaceOnUse" x1="1104.7" y1="980.9" x2="1624.7" y2="980.9"><stop offset="0.000" stop-color="#ffffff"/><stop offset="0.093" stop-color="#ffbec8"/><stop offset="0.185" stop-color="#ff8a9c"/><stop offset="0.278" stop-color="#ff5a74"/><stop offset="0.371" stop-color="#ff2c4d"/><stop offset="0.464" stop-color="#ff0028"/><stop offset="1.000" stop-color="#ff0028"/></linearGradient>
<linearGradient id="w1" gradientUnits="userSpaceOnUse" x1="1104.7" y1="980.9" x2="1624.2" y2="1002.7"><stop offset="0.000" stop-color="#ffffff"/><stop offset="0.084" stop-color="#ffbec9"/><stop offset="0.168" stop-color="#ff8a9e"/><stop offset="0.252" stop-color="#ff5a77"/><stop offset="0.336" stop-color="#ff2c51"/><stop offset="0.420" stop-color="#ff002d"/><stop offset="1.000" stop-color="#ff002d"/></linearGradient>
<linearGradient id="w2" gradientUnits="userSpaceOnUse" x1="1104.7" y1="980.9" x2="1622.8" y2="1024.4"><stop offset="0.000" stop-color="#ffffff"/><stop offset="0.077" stop-color="#ffbecb"/><stop offset="0.154" stop-color="#ff8aa1"/><stop offset="0.231" stop-color="#ff5a7a"/><stop offset="0.307" stop-color="#ff2c55"/><stop offset="0.384" stop-color="#ff0031"/><stop offset="1.000" stop-color="#ff0031"/></linearGradient>
<linearGradient id="w3" gradientUnits="userSpaceOnUse" x1="1104.7" y1="980.9" x2="1620.6" y2="1046.1"><stop offset="0.000" stop-color="#ffffff"/><stop offset="0.071" stop-color="#ffbecc"/><stop offset="0.142" stop-color="#ff8aa3"/><stop offset="0.213" stop-color="#ff5a7d"/><stop offset="0.284" stop-color="#ff2c59"/><stop offset="0.355" stop-color="#ff0036"/><stop offset="1.000" stop-color="#ff0036"/></linearGradient>
<linearGradient id="w4" gradientUnits="userSpaceOnUse" x1="1104.7" y1="980.9" x2="1617.4" y2="1067.6"><stop offset="0.000" stop-color="#ffffff"/><stop offset="0.066" stop-color="#ffbecd"/><stop offset="0.132" stop-color="#ff8aa5"/><stop offset="0.198" stop-color="#ff5a80"/><stop offset="0.264" stop-color="#ff2c5d"/><stop offset="0.330" stop-color="#ff003b"/><stop offset="1.000" stop-color="#ff003b"/></linearGradient>
<linearGradient id="w5" gradientUnits="userSpaceOnUse" x1="1104.7" y1="980.9" x2="1613.3" y2="1089.0"><stop offset="0.000" stop-color="#ffffff"/><stop offset="0.062" stop-color="#ffbece"/><stop offset="0.124" stop-color="#ff8aa7"/><stop offset="0.185" stop-color="#ff5a83"/><stop offset="0.247" stop-color="#ff2c61"/><stop offset="0.309" stop-color="#ff003f"/><stop offset="1.000" stop-color="#ff003f"/></linearGradient>
<linearGradient id="w6" gradientUnits="userSpaceOnUse" x1="1104.7" y1="980.9" x2="1608.3" y2="1110.2"><stop offset="0.000" stop-color="#ffffff"/><stop offset="0.058" stop-color="#ffbecf"/><stop offset="0.116" stop-color="#ff8aa9"/><stop offset="0.175" stop-color="#ff5a86"/><stop offset="0.233" stop-color="#ff2c64"/><stop offset="0.291" stop-color="#ff0044"/><stop offset="1.000" stop-color="#ff0044"/></linearGradient>
<linearGradient id="w7" gradientUnits="userSpaceOnUse" x1="1104.7" y1="980.9" x2="1602.5" y2="1131.2"><stop offset="0.000" stop-color="#ffffff"/><stop offset="0.055" stop-color="#ffbed1"/><stop offset="0.110" stop-color="#ff8aab"/><stop offset="0.165" stop-color="#ff5a89"/><stop offset="0.220" stop-color="#ff2c68"/><stop offset="0.275" stop-color="#ff0049"/><stop offset="1.000" stop-color="#ff0049"/></linearGradient>
<linearGradient id="w8" gradientUnits="userSpaceOnUse" x1="1104.7" y1="980.9" x2="1595.7" y2="1151.9"><stop offset="0.000" stop-color="#ffffff"/><stop offset="0.052" stop-color="#ffbed2"/><stop offset="0.105" stop-color="#ff8aae"/><stop offset="0.157" stop-color="#ff5a8c"/><stop offset="0.210" stop-color="#ff2c6c"/><stop offset="0.262" stop-color="#ff004e"/><stop offset="1.000" stop-color="#ff004e"/></linearGradient>
<linearGradient id="w9" gradientUnits="userSpaceOnUse" x1="1104.7" y1="980.9" x2="1588.2" y2="1172.3"><stop offset="0.000" stop-color="#ffffff"/><stop offset="0.050" stop-color="#ffbed3"/><stop offset="0.100" stop-color="#ff8ab0"/><stop offset="0.150" stop-color="#ff5a8f"/><stop offset="0.200" stop-color="#ff2c70"/><stop offset="0.250" stop-color="#ff0052"/><stop offset="1.000" stop-color="#ff0052"/></linearGradient>
<linearGradient id="w10" gradientUnits="userSpaceOnUse" x1="1104.7" y1="980.9" x2="1579.7" y2="1192.4"><stop offset="0.000" stop-color="#ffffff"/><stop offset="0.048" stop-color="#ffbed4"/><stop offset="0.096" stop-color="#ff8ab2"/><stop offset="0.144" stop-color="#ff5a92"/><stop offset="0.192" stop-color="#ff2c74"/><stop offset="0.240" stop-color="#ff0057"/><stop offset="1.000" stop-color="#ff0057"/></linearGradient>
<linearGradient id="w11" gradientUnits="userSpaceOnUse" x1="1104.7" y1="980.9" x2="1570.4" y2="1212.1"><stop offset="0.000" stop-color="#ffffff"/><stop offset="0.046" stop-color="#ffbed5"/><stop offset="0.092" stop-color="#ff8ab4"/><stop offset="0.138" stop-color="#ff5a95"/><stop offset="0.184" stop-color="#ff2c78"/><stop offset="0.230" stop-color="#ff005c"/><stop offset="1.000" stop-color="#ff005c"/></linearGradient>
<linearGradient id="w12" gradientUnits="userSpaceOnUse" x1="1104.7" y1="980.9" x2="1560.4" y2="1231.4"><stop offset="0.000" stop-color="#ffffff"/><stop offset="0.044" stop-color="#ffbed7"/><stop offset="0.089" stop-color="#ff8ab6"/><stop offset="0.133" stop-color="#ff5a98"/><stop offset="0.178" stop-color="#ff2c7c"/><stop offset="0.222" stop-color="#ff0060"/><stop offset="1.000" stop-color="#ff0060"/></linearGradient>
<linearGradient id="w13" gradientUnits="userSpaceOnUse" x1="1104.7" y1="980.9" x2="1549.5" y2="1250.3"><stop offset="0.000" stop-color="#ffffff"/><stop offset="0.043" stop-color="#ffbed8"/><stop offset="0.086" stop-color="#ff8ab8"/><stop offset="0.129" stop-color="#ff5a9b"/><stop offset="0.172" stop-color="#ff2c80"/><stop offset="0.215" stop-color="#ff0065"/><stop offset="1.000" stop-color="#ff0065"/></linearGradient>
<linearGradient id="w14" gradientUnits="userSpaceOnUse" x1="1104.7" y1="980.9" x2="1537.8" y2="1268.7"><stop offset="0.000" stop-color="#ffffff"/><stop offset="0.042" stop-color="#ffbed9"/><stop offset="0.083" stop-color="#ff8aba"/><stop offset="0.125" stop-color="#ff5a9e"/><stop offset="0.167" stop-color="#ff2c84"/><stop offset="0.209" stop-color="#ff006a"/><stop offset="1.000" stop-color="#ff006a"/></linearGradient>
<linearGradient id="w15" gradientUnits="userSpaceOnUse" x1="1104.7" y1="980.9" x2="1525.4" y2="1286.6"><stop offset="0.000" stop-color="#ffffff"/><stop offset="0.041" stop-color="#ffbeda"/><stop offset="0.081" stop-color="#ff8abd"/><stop offset="0.122" stop-color="#ff5aa1"/><stop offset="0.162" stop-color="#ff2c87"/><stop offset="0.203" stop-color="#ff006e"/><stop offset="1.000" stop-color="#ff006e"/></linearGradient>
<linearGradient id="w16" gradientUnits="userSpaceOnUse" x1="1104.7" y1="980.9" x2="1512.2" y2="1303.9"><stop offset="0.000" stop-color="#ffffff"/><stop offset="0.040" stop-color="#ffbedb"/><stop offset="0.079" stop-color="#ff8abf"/><stop offset="0.119" stop-color="#ff5aa4"/><stop offset="0.158" stop-color="#ff2c8b"/><stop offset="0.198" stop-color="#ff0073"/><stop offset="1.000" stop-color="#ff0073"/></linearGradient>
<linearGradient id="w17" gradientUnits="userSpaceOnUse" x1="1104.7" y1="980.9" x2="1498.3" y2="1320.7"><stop offset="0.000" stop-color="#ffffff"/><stop offset="0.039" stop-color="#ffbedd"/><stop offset="0.077" stop-color="#ff8ac1"/><stop offset="0.116" stop-color="#ff5aa7"/><stop offset="0.155" stop-color="#ff2c8f"/><stop offset="0.193" stop-color="#ff0078"/><stop offset="1.000" stop-color="#ff0078"/></linearGradient>
<linearGradient id="w18" gradientUnits="userSpaceOnUse" x1="1104.7" y1="980.9" x2="1483.7" y2="1336.9"><stop offset="0.000" stop-color="#ffffff"/><stop offset="0.038" stop-color="#ffbede"/><stop offset="0.076" stop-color="#ff8ac3"/><stop offset="0.114" stop-color="#ff5aaa"/><stop offset="0.152" stop-color="#ff2c93"/><stop offset="0.189" stop-color="#ff007c"/><stop offset="1.000" stop-color="#ff007c"/></linearGradient>
<linearGradient id="w19" gradientUnits="userSpaceOnUse" x1="1104.7" y1="980.9" x2="1468.5" y2="1352.4"><stop offset="0.000" stop-color="#ffffff"/><stop offset="0.037" stop-color="#ffbedf"/><stop offset="0.074" stop-color="#ff8ac5"/><stop offset="0.112" stop-color="#ff5aae"/><stop offset="0.149" stop-color="#ff2c97"/><stop offset="0.186" stop-color="#ff0082"/><stop offset="1.000" stop-color="#ff0082"/></linearGradient>
<linearGradient id="w20" gradientUnits="userSpaceOnUse" x1="1104.7" y1="980.9" x2="1452.6" y2="1367.3"><stop offset="0.000" stop-color="#ffffff"/><stop offset="0.037" stop-color="#ffbee1"/><stop offset="0.073" stop-color="#ff8ac8"/><stop offset="0.110" stop-color="#ff5ab2"/><stop offset="0.146" stop-color="#ff2c9d"/><stop offset="0.183" stop-color="#ff0088"/><stop offset="1.000" stop-color="#ff0088"/></linearGradient>
<linearGradient id="w21" gradientUnits="userSpaceOnUse" x1="1104.7" y1="980.9" x2="1436.1" y2="1381.6"><stop offset="0.000" stop-color="#ffffff"/><stop offset="0.036" stop-color="#ffbee2"/><stop offset="0.072" stop-color="#ff8acb"/><stop offset="0.108" stop-color="#ff5ab6"/><stop offset="0.144" stop-color="#ff2ca2"/><stop offset="0.180" stop-color="#ff008f"/><stop offset="1.000" stop-color="#ff008f"/></linearGradient>
<linearGradient id="w22" gradientUnits="userSpaceOnUse" x1="1104.7" y1="980.9" x2="1419.1" y2="1395.1"><stop offset="0.000" stop-color="#ffffff"/><stop offset="0.036" stop-color="#ffbee4"/><stop offset="0.071" stop-color="#ff8ace"/><stop offset="0.107" stop-color="#ff5aba"/><stop offset="0.142" stop-color="#ff2ca7"/><stop offset="0.178" stop-color="#ff0095"/><stop offset="1.000" stop-color="#ff0095"/></linearGradient>
<linearGradient id="w23" gradientUnits="userSpaceOnUse" x1="1104.7" y1="980.9" x2="1401.4" y2="1407.9"><stop offset="0.000" stop-color="#ffffff"/><stop offset="0.035" stop-color="#ffbee6"/><stop offset="0.070" stop-color="#ff8ad1"/><stop offset="0.106" stop-color="#ff5abf"/><stop offset="0.141" stop-color="#ff2cad"/><stop offset="0.176" stop-color="#ff009c"/><stop offset="1.000" stop-color="#ff009c"/></linearGradient>
<linearGradient id="w24" gradientUnits="userSpaceOnUse" x1="1104.7" y1="980.9" x2="1383.3" y2="1420.0"><stop offset="0.000" stop-color="#ffffff"/><stop offset="0.035" stop-color="#ffbee7"/><stop offset="0.070" stop-color="#ff8ad4"/><stop offset="0.105" stop-color="#ff5ac3"/><stop offset="0.140" stop-color="#ff2cb2"/><stop offset="0.175" stop-color="#ff00a2"/><stop offset="1.000" stop-color="#ff00a2"/></linearGradient>
<linearGradient id="w25" gradientUnits="userSpaceOnUse" x1="1104.7" y1="980.9" x2="1364.7" y2="1431.2"><stop offset="0.000" stop-color="#ffffff"/><stop offset="0.035" stop-color="#ffbee9"/><stop offset="0.069" stop-color="#ff8ad7"/><stop offset="0.104" stop-color="#ff5ac7"/><stop offset="0.139" stop-color="#ff2cb7"/><stop offset="0.173" stop-color="#ff00a9"/><stop offset="1.000" stop-color="#ff00a9"/></linearGradient>
<linearGradient id="w26" gradientUnits="userSpaceOnUse" x1="1104.7" y1="980.9" x2="1345.6" y2="1441.7"><stop offset="0.000" stop-color="#ffffff"/><stop offset="0.034" stop-color="#ffbeeb"/><stop offset="0.069" stop-color="#ff8ada"/><stop offset="0.103" stop-color="#ff5acb"/><stop offset="0.138" stop-color="#ff2cbd"/><stop offset="0.172" stop-color="#ff00af"/><stop offset="1.000" stop-color="#ff00af"/></linearGradient>
<linearGradient id="w27" gradientUnits="userSpaceOnUse" x1="1104.7" y1="980.9" x2="1326.1" y2="1451.4"><stop offset="0.000" stop-color="#ffffff"/><stop offset="0.034" stop-color="#ffbeec"/><stop offset="0.069" stop-color="#ff8add"/><stop offset="0.103" stop-color="#ff5acf"/><stop offset="0.137" stop-color="#ff2cc2"/><stop offset="0.172" stop-color="#ff00b6"/><stop offset="1.000" stop-color="#ff00b6"/></linearGradient>
<linearGradient id="w28" gradientUnits="userSpaceOnUse" x1="1104.7" y1="980.9" x2="1306.2" y2="1460.3"><stop offset="0.000" stop-color="#ffffff"/><stop offset="0.034" stop-color="#ffbeee"/><stop offset="0.069" stop-color="#ff8ae0"/><stop offset="0.103" stop-color="#ff5ad4"/><stop offset="0.137" stop-color="#ff2cc8"/><stop offset="0.172" stop-color="#ff00bc"/><stop offset="1.000" stop-color="#ff00bc"/></linearGradient>
<linearGradient id="w29" gradientUnits="userSpaceOnUse" x1="1104.7" y1="980.9" x2="1285.9" y2="1468.3"><stop offset="0.000" stop-color="#ffffff"/><stop offset="0.034" stop-color="#ffbef0"/><stop offset="0.069" stop-color="#ff8ae3"/><stop offset="0.103" stop-color="#ff5ad8"/><stop offset="0.137" stop-color="#ff2ccd"/><stop offset="0.172" stop-color="#ff00c2"/><stop offset="1.000" stop-color="#ff00c2"/></linearGradient>
<linearGradient id="w30" gradientUnits="userSpaceOnUse" x1="1104.7" y1="980.9" x2="1265.4" y2="1475.5"><stop offset="0.000" stop-color="#ffffff"/><stop offset="0.034" stop-color="#ffbef1"/><stop offset="0.069" stop-color="#ff8ae6"/><stop offset="0.103" stop-color="#ff5adc"/><stop offset="0.137" stop-color="#ff2cd2"/><stop offset="0.172" stop-color="#ff00c9"/><stop offset="1.000" stop-color="#ff00c9"/></linearGradient>
<linearGradient id="w31" gradientUnits="userSpaceOnUse" x1="1104.7" y1="980.9" x2="1244.5" y2="1481.8"><stop offset="0.000" stop-color="#ffffff"/><stop offset="0.034" stop-color="#ffbef3"/><stop offset="0.069" stop-color="#ff8ae9"/><stop offset="0.103" stop-color="#ff5ae0"/><stop offset="0.138" stop-color="#ff2cd8"/><stop offset="0.172" stop-color="#ff00cf"/><stop offset="1.000" stop-color="#ff00cf"/></linearGradient>
<linearGradient id="w32" gradientUnits="userSpaceOnUse" x1="1104.7" y1="980.9" x2="1223.4" y2="1487.2"><stop offset="0.000" stop-color="#ffffff"/><stop offset="0.035" stop-color="#ffbef5"/><stop offset="0.069" stop-color="#ff8aec"/><stop offset="0.104" stop-color="#ff5ae4"/><stop offset="0.139" stop-color="#ff2cdd"/><stop offset="0.173" stop-color="#ff00d6"/><stop offset="1.000" stop-color="#ff00d6"/></linearGradient>
<linearGradient id="w33" gradientUnits="userSpaceOnUse" x1="1104.7" y1="980.9" x2="1202.1" y2="1491.7"><stop offset="0.000" stop-color="#ffffff"/><stop offset="0.035" stop-color="#ffbef6"/><stop offset="0.070" stop-color="#ff8aef"/><stop offset="0.105" stop-color="#ff5ae9"/><stop offset="0.140" stop-color="#ff2ce2"/><stop offset="0.175" stop-color="#ff00dc"/><stop offset="1.000" stop-color="#ff00dc"/></linearGradient>
<linearGradient id="w34" gradientUnits="userSpaceOnUse" x1="1104.7" y1="980.9" x2="1180.6" y2="1495.3"><stop offset="0.000" stop-color="#ffffff"/><stop offset="0.035" stop-color="#ffbef8"/><stop offset="0.070" stop-color="#ff8af2"/><stop offset="0.106" stop-color="#ff5aed"/><stop offset="0.141" stop-color="#ff2ce8"/><stop offset="0.176" stop-color="#ff00e3"/><stop offset="1.000" stop-color="#ff00e3"/></linearGradient>
<linearGradient id="w35" gradientUnits="userSpaceOnUse" x1="1104.7" y1="980.9" x2="1159.0" y2="1498.1"><stop offset="0.000" stop-color="#ffffff"/><stop offset="0.036" stop-color="#ffbef9"/><stop offset="0.071" stop-color="#ff8af5"/><stop offset="0.107" stop-color="#ff5af1"/><stop offset="0.143" stop-color="#ff2ced"/><stop offset="0.178" stop-color="#ff00e9"/><stop offset="1.000" stop-color="#ff00e9"/></linearGradient>
<linearGradient id="w36" gradientUnits="userSpaceOnUse" x1="1104.7" y1="980.9" x2="1137.3" y2="1499.9"><stop offset="0.000" stop-color="#ffffff"/><stop offset="0.036" stop-color="#ffbefb"/><stop offset="0.072" stop-color="#ff8af8"/><stop offset="0.108" stop-color="#ff5af5"/><stop offset="0.144" stop-color="#ff2cf2"/><stop offset="0.180" stop-color="#ff00f0"/><stop offset="1.000" stop-color="#ff00f0"/></linearGradient>
<linearGradient id="w37" gradientUnits="userSpaceOnUse" x1="1104.7" y1="980.9" x2="1115.6" y2="1500.8"><stop offset="0.000" stop-color="#ffffff"/><stop offset="0.037" stop-color="#ffbefd"/><stop offset="0.073" stop-color="#ff8afb"/><stop offset="0.110" stop-color="#ff5af9"/><stop offset="0.146" stop-color="#ff2cf8"/><stop offset="0.183" stop-color="#ff00f6"/><stop offset="1.000" stop-color="#ff00f6"/></linearGradient>
<linearGradient id="w38" gradientUnits="userSpaceOnUse" x1="1104.7" y1="980.9" x2="1093.8" y2="1500.8"><stop offset="0.000" stop-color="#ffffff"/><stop offset="0.037" stop-color="#ffbefe"/><stop offset="0.074" stop-color="#ff8afe"/><stop offset="0.112" stop-color="#ff5afe"/><stop offset="0.149" stop-color="#ff2cfd"/><stop offset="0.186" stop-color="#ff00fd"/><stop offset="1.000" stop-color="#ff00fd"/></linearGradient>
<linearGradient id="w39" gradientUnits="userSpaceOnUse" x1="1104.7" y1="980.9" x2="1072.0" y2="1499.9"><stop offset="0.000" stop-color="#ffffff"/><stop offset="0.038" stop-color="#fdbeff"/><stop offset="0.076" stop-color="#fb8aff"/><stop offset="0.114" stop-color="#fa5aff"/><stop offset="0.152" stop-color="#f82cff"/><stop offset="0.190" stop-color="#f700ff"/><stop offset="1.000" stop-color="#f700ff"/></linearGradient>
<linearGradient id="w40" gradientUnits="userSpaceOnUse" x1="1104.7" y1="980.9" x2="1050.3" y2="1498.1"><stop offset="0.000" stop-color="#ffffff"/><stop offset="0.039" stop-color="#fabeff"/><stop offset="0.077" stop-color="#f58aff"/><stop offset="0.116" stop-color="#f15aff"/><stop offset="0.155" stop-color="#ee2cff"/><stop offset="0.194" stop-color="#ea00ff"/><stop offset="1.000" stop-color="#ea00ff"/></linearGradient>
<linearGradient id="w41" gradientUnits="userSpaceOnUse" x1="1104.7" y1="980.9" x2="1028.7" y2="1495.3"><stop offset="0.000" stop-color="#ffffff"/><stop offset="0.040" stop-color="#f6beff"/><stop offset="0.079" stop-color="#ef8aff"/><stop offset="0.119" stop-color="#e95aff"/><stop offset="0.159" stop-color="#e32cff"/><stop offset="0.198" stop-color="#dd00ff"/><stop offset="1.000" stop-color="#dd00ff"/></linearGradient>
<linearGradient id="w42" gradientUnits="userSpaceOnUse" x1="1104.7" y1="980.9" x2="1007.2" y2="1491.7"><stop offset="0.000" stop-color="#ffffff"/><stop offset="0.041" stop-color="#f3beff"/><stop offset="0.081" stop-color="#ea8aff"/><stop offset="0.122" stop-color="#e15aff"/><stop offset="0.163" stop-color="#d92cff"/><stop offset="0.203" stop-color="#d100ff"/><stop offset="1.000" stop-color="#d100ff"/></linearGradient>
<linearGradient id="w43" gradientUnits="userSpaceOnUse" x1="1104.7" y1="980.9" x2="985.9" y2="1487.2"><stop offset="0.000" stop-color="#ffffff"/><stop offset="0.042" stop-color="#f0beff"/><stop offset="0.084" stop-color="#e48aff"/><stop offset="0.125" stop-color="#d95aff"/><stop offset="0.167" stop-color="#ce2cff"/><stop offset="0.209" stop-color="#c400ff"/><stop offset="1.000" stop-color="#c400ff"/></linearGradient>
<linearGradient id="w44" gradientUnits="userSpaceOnUse" x1="1104.7" y1="980.9" x2="964.8" y2="1481.8"><stop offset="0.000" stop-color="#ffffff"/><stop offset="0.043" stop-color="#edbeff"/><stop offset="0.086" stop-color="#de8aff"/><stop offset="0.129" stop-color="#d15aff"/><stop offset="0.172" stop-color="#c42cff"/><stop offset="0.216" stop-color="#b700ff"/><stop offset="1.000" stop-color="#b700ff"/></linearGradient>
<linearGradient id="w45" gradientUnits="userSpaceOnUse" x1="1104.7" y1="980.9" x2="944.0" y2="1475.5"><stop offset="0.000" stop-color="#ffffff"/><stop offset="0.045" stop-color="#e9beff"/><stop offset="0.089" stop-color="#d88aff"/><stop offset="0.134" stop-color="#c85aff"/><stop offset="0.178" stop-color="#b92cff"/><stop offset="0.223" stop-color="#ab00ff"/><stop offset="1.000" stop-color="#ab00ff"/></linearGradient>
<linearGradient id="w46" gradientUnits="userSpaceOnUse" x1="1104.7" y1="980.9" x2="923.4" y2="1468.3"><stop offset="0.000" stop-color="#ffffff"/><stop offset="0.046" stop-color="#e6beff"/><stop offset="0.092" stop-color="#d28aff"/><stop offset="0.139" stop-color="#bf5aff"/><stop offset="0.185" stop-color="#ae2cff"/><stop offset="0.231" stop-color="#9d00ff"/><stop offset="1.000" stop-color="#9d00ff"/></linearGradient>
<linearGradient id="w47" gradientUnits="userSpaceOnUse" x1="1104.7" y1="980.9" x2="903.2" y2="1460.3"><stop offset="0.000" stop-color="#ffffff"/><stop offset="0.048" stop-color="#e1bfff"/><stop offset="0.096" stop-color="#c98bff"/><stop offset="0.144" stop-color="#b25cff"/><stop offset="0.192" stop-color="#9d2eff"/><stop offset="0.240" stop-color="#8803ff"/><stop offset="1.000" stop-color="#8803ff"/></linearGradient>
<linearGradient id="w48" gradientUnits="userSpaceOnUse" x1="1104.7" y1="980.9" x2="883.3" y2="1451.4"><stop offset="0.000" stop-color="#ffffff"/><stop offset="0.050" stop-color="#dcbfff"/><stop offset="0.100" stop-color="#bf8cff"/><stop offset="0.151" stop-color="#a55dff"/><stop offset="0.201" stop-color="#8c30ff"/><stop offset="0.251" stop-color="#7405ff"/><stop offset="1.000" stop-color="#7405ff"/></linearGradient>
<linearGradient id="w49" gradientUnits="userSpaceOnUse" x1="1104.7" y1="980.9" x2="863.8" y2="1441.7"><stop offset="0.000" stop-color="#ffffff"/><stop offset="0.053" stop-color="#d6c0ff"/><stop offset="0.105" stop-color="#b68dff"/><stop offset="0.158" stop-color="#985eff"/><stop offset="0.210" stop-color="#7b32ff"/><stop offset="0.263" stop-color="#6007ff"/><stop offset="1.000" stop-color="#6007ff"/></linearGradient>
<linearGradient id="w50" gradientUnits="userSpaceOnUse" x1="1104.7" y1="980.9" x2="844.7" y2="1431.2"><stop offset="0.000" stop-color="#ffffff"/><stop offset="0.055" stop-color="#d1c0ff"/><stop offset="0.111" stop-color="#ad8eff"/><stop offset="0.166" stop-color="#8b60ff"/><stop offset="0.221" stop-color="#6a34ff"/><stop offset="0.277" stop-color="#4b09ff"/><stop offset="1.000" stop-color="#4b09ff"/></linearGradient>
<linearGradient id="w51" gradientUnits="userSpaceOnUse" x1="1104.7" y1="980.9" x2="826.0" y2="1420.0"><stop offset="0.000" stop-color="#ffffff"/><stop offset="0.059" stop-color="#ccc1ff"/><stop offset="0.117" stop-color="#a38fff"/><stop offset="0.176" stop-color="#7d61ff"/><stop offset="0.234" stop-color="#5a36ff"/><stop offset="0.293" stop-color="#370cff"/><stop offset="1.000" stop-color="#370cff"/></linearGradient>
<linearGradient id="w52" gradientUnits="userSpaceOnUse" x1="1104.7" y1="980.9" x2="807.9" y2="1407.9"><stop offset="0.000" stop-color="#ffffff"/><stop offset="0.062" stop-color="#c7c2ff"/><stop offset="0.124" stop-color="#9a90ff"/><stop offset="0.186" stop-color="#7063ff"/><stop offset="0.249" stop-color="#4938ff"/><stop offset="0.311" stop-color="#230eff"/><stop offset="1.000" stop-color="#230eff"/></linearGradient>
<linearGradient id="w53" gradientUnits="userSpaceOnUse" x1="1104.7" y1="980.9" x2="790.3" y2="1395.1"><stop offset="0.000" stop-color="#ffffff"/><stop offset="0.066" stop-color="#c2c2ff"/><stop offset="0.133" stop-color="#9192ff"/><stop offset="0.199" stop-color="#6465ff"/><stop offset="0.266" stop-color="#393aff"/><stop offset="0.332" stop-color="#1011ff"/><stop offset="1.000" stop-color="#1011ff"/></linearGradient>
<linearGradient id="w54" gradientUnits="userSpaceOnUse" x1="1104.7" y1="980.9" x2="773.2" y2="1381.6"><stop offset="0.000" stop-color="#ffffff"/><stop offset="0.071" stop-color="#c1c6ff"/><stop offset="0.143" stop-color="#9098ff"/><stop offset="0.214" stop-color="#626eff"/><stop offset="0.286" stop-color="#3646ff"/><stop offset="0.357" stop-color="#0c1fff"/><stop offset="1.000" stop-color="#0c1fff"/></linearGradient>
<linearGradient id="w55" gradientUnits="userSpaceOnUse" x1="1104.7" y1="980.9" x2="756.7" y2="1367.3"><stop offset="0.000" stop-color="#ffffff"/><stop offset="0.065" stop-color="#c0caff"/><stop offset="0.131" stop-color="#8e9fff"/><stop offset="0.196" stop-color="#5f77ff"/><stop offset="0.262" stop-color="#3351ff"/><stop offset="0.327" stop-color="#092dff"/><stop offset="1.000" stop-color="#092dff"/></linearGradient>
<linearGradient id="w56" gradientUnits="userSpaceOnUse" x1="1104.7" y1="980.9" x2="740.8" y2="1352.4"><stop offset="0.000" stop-color="#ffffff"/><stop offset="0.059" stop-color="#bfcdff"/><stop offset="0.118" stop-color="#8ca5ff"/><stop offset="0.177" stop-color="#5d80ff"/><stop offset="0.236" stop-color="#305dff"/><stop offset="0.295" stop-color="#053bff"/><stop offset="1.000" stop-color="#053bff"/></linearGradient>
<linearGradient id="w57" gradientUnits="userSpaceOnUse" x1="1104.7" y1="980.9" x2="725.6" y2="1336.9"><stop offset="0.000" stop-color="#ffffff"/><stop offset="0.054" stop-color="#bfd1ff"/><stop offset="0.108" stop-color="#8babff"/><stop offset="0.161" stop-color="#5b89ff"/><stop offset="0.215" stop-color="#2e68ff"/><stop offset="0.269" stop-color="#0249ff"/><stop offset="1.000" stop-color="#0249ff"/></linearGradient>
<linearGradient id="w58" gradientUnits="userSpaceOnUse" x1="1104.7" y1="980.9" x2="711.0" y2="1320.7"><stop offset="0.000" stop-color="#ffffff"/><stop offset="0.050" stop-color="#bed5ff"/><stop offset="0.099" stop-color="#8ab3ff"/><stop offset="0.149" stop-color="#5a93ff"/><stop offset="0.198" stop-color="#2c75ff"/><stop offset="0.248" stop-color="#0059ff"/><stop offset="1.000" stop-color="#0059ff"/></linearGradient>
<linearGradient id="w59" gradientUnits="userSpaceOnUse" x1="1104.7" y1="980.9" x2="697.2" y2="1303.9"><stop offset="0.000" stop-color="#ffffff"/><stop offset="0.046" stop-color="#bed9ff"/><stop offset="0.092" stop-color="#8abbff"/><stop offset="0.138" stop-color="#5a9fff"/><stop offset="0.184" stop-color="#2c84ff"/><stop offset="0.230" stop-color="#006aff"/><stop offset="1.000" stop-color="#006aff"/></linearGradient>
<linearGradient id="w60" gradientUnits="userSpaceOnUse" x1="1104.7" y1="980.9" x2="684.0" y2="1286.6"><stop offset="0.000" stop-color="#ffffff"/><stop offset="0.043" stop-color="#bedeff"/><stop offset="0.086" stop-color="#8ac3ff"/><stop offset="0.129" stop-color="#5aaaff"/><stop offset="0.172" stop-color="#2c92ff"/><stop offset="0.215" stop-color="#007cff"/><stop offset="1.000" stop-color="#007cff"/></linearGradient>
<linearGradient id="w61" gradientUnits="userSpaceOnUse" x1="1104.7" y1="980.9" x2="671.6" y2="1268.7"><stop offset="0.000" stop-color="#ffffff"/><stop offset="0.040" stop-color="#bee2ff"/><stop offset="0.081" stop-color="#8acbff"/><stop offset="0.121" stop-color="#5ab5ff"/><stop offset="0.162" stop-color="#2ca1ff"/><stop offset="0.202" stop-color="#008dff"/><stop offset="1.000" stop-color="#008dff"/></linearGradient>
<linearGradient id="w62" gradientUnits="userSpaceOnUse" x1="1104.7" y1="980.9" x2="659.9" y2="1250.3"><stop offset="0.000" stop-color="#ffffff"/><stop offset="0.038" stop-color="#bee6ff"/><stop offset="0.076" stop-color="#8ad3ff"/><stop offset="0.115" stop-color="#5ac1ff"/><stop offset="0.153" stop-color="#2cafff"/><stop offset="0.191" stop-color="#009fff"/><stop offset="1.000" stop-color="#009fff"/></linearGradient>
<linearGradient id="w63" gradientUnits="userSpaceOnUse" x1="1104.7" y1="980.9" x2="649.0" y2="1231.4"><stop offset="0.000" stop-color="#ffffff"/><stop offset="0.036" stop-color="#bee9ff"/><stop offset="0.073" stop-color="#8ad7ff"/><stop offset="0.109" stop-color="#5ac7ff"/><stop offset="0.145" stop-color="#2cb8ff"/><stop offset="0.181" stop-color="#00a9ff"/><stop offset="1.000" stop-color="#00a9ff"/></linearGradient>
<linearGradient id="w64" gradientUnits="userSpaceOnUse" x1="1104.7" y1="980.9" x2="638.9" y2="1212.1"><stop offset="0.000" stop-color="#ffffff"/><stop offset="0.035" stop-color="#beebff"/><stop offset="0.069" stop-color="#8adcff"/><stop offset="0.104" stop-color="#5acdff"/><stop offset="0.138" stop-color="#2cc0ff"/><stop offset="0.173" stop-color="#00b2ff"/><stop offset="1.000" stop-color="#00b2ff"/></linearGradient>
<linearGradient id="w65" gradientUnits="userSpaceOnUse" x1="1104.7" y1="980.9" x2="629.6" y2="1192.4"><stop offset="0.000" stop-color="#ffffff"/><stop offset="0.033" stop-color="#beeeff"/><stop offset="0.066" stop-color="#8ae0ff"/><stop offset="0.099" stop-color="#5ad4ff"/><stop offset="0.132" stop-color="#2cc8ff"/><stop offset="0.166" stop-color="#00bcff"/><stop offset="1.000" stop-color="#00bcff"/></linearGradient>
<linearGradient id="w66" gradientUnits="userSpaceOnUse" x1="1104.7" y1="980.9" x2="621.2" y2="1172.3"><stop offset="0.000" stop-color="#ffffff"/><stop offset="0.032" stop-color="#bef0ff"/><stop offset="0.064" stop-color="#8ae5ff"/><stop offset="0.095" stop-color="#5adaff"/><stop offset="0.127" stop-color="#2cd0ff"/><stop offset="0.159" stop-color="#00c6ff"/><stop offset="1.000" stop-color="#00c6ff"/></linearGradient>
<linearGradient id="w67" gradientUnits="userSpaceOnUse" x1="1104.7" y1="980.9" x2="613.6" y2="1151.9"><stop offset="0.000" stop-color="#ffffff"/><stop offset="0.031" stop-color="#bef3ff"/><stop offset="0.061" stop-color="#8ae9ff"/><stop offset="0.092" stop-color="#5ae0ff"/><stop offset="0.123" stop-color="#2cd7ff"/><stop offset="0.153" stop-color="#00cfff"/><stop offset="1.000" stop-color="#00cfff"/></linearGradient>
<linearGradient id="w68" gradientUnits="userSpaceOnUse" x1="1104.7" y1="980.9" x2="606.9" y2="1131.2"><stop offset="0.000" stop-color="#ffffff"/><stop offset="0.030" stop-color="#bef5ff"/><stop offset="0.059" stop-color="#8aedff"/><stop offset="0.089" stop-color="#5ae6ff"/><stop offset="0.119" stop-color="#2cdfff"/><stop offset="0.148" stop-color="#00d9ff"/><stop offset="1.000" stop-color="#00d9ff"/></linearGradient>
<linearGradient id="w69" gradientUnits="userSpaceOnUse" x1="1104.7" y1="980.9" x2="601.0" y2="1110.2"><stop offset="0.000" stop-color="#ffffff"/><stop offset="0.029" stop-color="#bef7ff"/><stop offset="0.057" stop-color="#8af1ff"/><stop offset="0.086" stop-color="#5aecff"/><stop offset="0.115" stop-color="#2ce6ff"/><stop offset="0.144" stop-color="#00e1ff"/><stop offset="1.000" stop-color="#00e1ff"/></linearGradient>
<linearGradient id="w70" gradientUnits="userSpaceOnUse" x1="1104.7" y1="980.9" x2="596.0" y2="1089.0"><stop offset="0.000" stop-color="#ffffff"/><stop offset="0.028" stop-color="#bef9ff"/><stop offset="0.056" stop-color="#8af4ff"/><stop offset="0.084" stop-color="#5aefff"/><stop offset="0.112" stop-color="#2ceaff"/><stop offset="0.140" stop-color="#00e6ff"/><stop offset="1.000" stop-color="#00e6ff"/></linearGradient>
<linearGradient id="w71" gradientUnits="userSpaceOnUse" x1="1104.7" y1="980.9" x2="592.0" y2="1067.6"><stop offset="0.000" stop-color="#ffffff"/><stop offset="0.027" stop-color="#befaff"/><stop offset="0.054" stop-color="#8af6ff"/><stop offset="0.082" stop-color="#5af2ff"/><stop offset="0.109" stop-color="#2cefff"/><stop offset="0.136" stop-color="#00ebff"/><stop offset="1.000" stop-color="#00ebff"/></linearGradient>
<linearGradient id="w72" gradientUnits="userSpaceOnUse" x1="1104.7" y1="980.9" x2="588.8" y2="1046.1"><stop offset="0.000" stop-color="#ffffff"/><stop offset="0.027" stop-color="#befbff"/><stop offset="0.053" stop-color="#8af8ff"/><stop offset="0.080" stop-color="#5af5ff"/><stop offset="0.106" stop-color="#2cf3ff"/><stop offset="0.133" stop-color="#00f0ff"/><stop offset="1.000" stop-color="#00f0ff"/></linearGradient>
<linearGradient id="w73" gradientUnits="userSpaceOnUse" x1="1104.7" y1="980.9" x2="586.5" y2="1024.4"><stop offset="0.000" stop-color="#ffffff"/><stop offset="0.026" stop-color="#befcff"/><stop offset="0.052" stop-color="#8afaff"/><stop offset="0.078" stop-color="#5af9ff"/><stop offset="0.104" stop-color="#2cf7ff"/><stop offset="0.130" stop-color="#00f5ff"/><stop offset="1.000" stop-color="#00f5ff"/></linearGradient>
<linearGradient id="w74" gradientUnits="userSpaceOnUse" x1="1104.7" y1="980.9" x2="585.1" y2="1002.7"><stop offset="0.000" stop-color="#ffffff"/><stop offset="0.026" stop-color="#befeff"/><stop offset="0.051" stop-color="#8afdff"/><stop offset="0.077" stop-color="#5afcff"/><stop offset="0.102" stop-color="#2cfbff"/><stop offset="0.128" stop-color="#00faff"/><stop offset="1.000" stop-color="#00faff"/></linearGradient>
<linearGradient id="w75" gradientUnits="userSpaceOnUse" x1="1104.7" y1="980.9" x2="584.7" y2="980.9"><stop offset="0.000" stop-color="#ffffff"/><stop offset="0.025" stop-color="#beffff"/><stop offset="0.050" stop-color="#8affff"/><stop offset="0.075" stop-color="#5affff"/><stop offset="0.100" stop-color="#2cffff"/><stop offset="0.125" stop-color="#00ffff"/><stop offset="1.000" stop-color="#00ffff"/></linearGradient>
<linearGradient id="w76" gradientUnits="userSpaceOnUse" x1="1104.7" y1="980.9" x2="585.1" y2="959.1"><stop offset="0.000" stop-color="#ffffff"/><stop offset="0.025" stop-color="#befffe"/><stop offset="0.049" stop-color="#8afffd"/><stop offset="0.074" stop-color="#5afffc"/><stop offset="0.099" stop-color="#2cfffb"/><stop offset="0.123" stop-color="#00fffa"/><stop offset="1.000" stop-color="#00fffa"/></linearGradient>
<linearGradient id="w77" gradientUnits="userSpaceOnUse" x1="1104.7" y1="980.9" x2="586.5" y2="937.4"><stop offset="0.000" stop-color="#ffffff"/><stop offset="0.024" stop-color="#befffc"/><stop offset="0.049" stop-color="#8afffa"/><stop offset="0.073" stop-color="#5afff8"/><stop offset="0.097" stop-color="#2cfff6"/><stop offset="0.122" stop-color="#00fff4"/><stop offset="1.000" stop-color="#00fff4"/></linearGradient>
<linearGradient id="w78" gradientUnits="userSpaceOnUse" x1="1104.7" y1="980.9" x2="588.8" y2="915.7"><stop offset="0.000" stop-color="#ffffff"/><stop offset="0.024" stop-color="#befffb"/><stop offset="0.048" stop-color="#8afff8"/><stop offset="0.072" stop-color="#5afff5"/><stop offset="0.096" stop-color="#2cfff2"/><stop offset="0.120" stop-color="#00ffef"/><stop offset="1.000" stop-color="#00ffef"/></linearGradient>
<linearGradient id="w79" gradientUnits="userSpaceOnUse" x1="1104.7" y1="980.9" x2="592.0" y2="894.2"><stop offset="0.000" stop-color="#ffffff"/><stop offset="0.024" stop-color="#befffa"/><stop offset="0.048" stop-color="#8afff5"/><stop offset="0.072" stop-color="#5afff1"/><stop offset="0.095" stop-color="#2cffed"/><stop offset="0.119" stop-color="#00ffea"/><stop offset="1.000" stop-color="#00ffea"/></linearGradient>
<linearGradient id="w80" gradientUnits="userSpaceOnUse" x1="1104.7" y1="980.9" x2="596.0" y2="872.8"><stop offset="0.000" stop-color="#ffffff"/><stop offset="0.024" stop-color="#befff8"/><stop offset="0.047" stop-color="#8afff3"/><stop offset="0.071" stop-color="#5affee"/><stop offset="0.095" stop-color="#2cffe9"/><stop offset="0.118" stop-color="#00ffe4"/><stop offset="1.000" stop-color="#00ffe4"/></linearGradient>
<linearGradient id="w81" gradientUnits="userSpaceOnUse" x1="1104.7" y1="980.9" x2="601.0" y2="851.6"><stop offset="0.000" stop-color="#ffffff"/><stop offset="0.024" stop-color="#befff7"/><stop offset="0.047" stop-color="#8afff0"/><stop offset="0.071" stop-color="#5affea"/><stop offset="0.094" stop-color="#2cffe5"/><stop offset="0.118" stop-color="#00ffdf"/><stop offset="1.000" stop-color="#00ffdf"/></linearGradient>
<linearGradient id="w82" gradientUnits="userSpaceOnUse" x1="1104.7" y1="980.9" x2="606.9" y2="830.6"><stop offset="0.000" stop-color="#ffffff"/><stop offset="0.023" stop-color="#befff6"/><stop offset="0.047" stop-color="#8affee"/><stop offset="0.070" stop-color="#5affe7"/><stop offset="0.094" stop-color="#2cffe0"/><stop offset="0.117" stop-color="#00ffda"/><stop offset="1.000" stop-color="#00ffda"/></linearGradient>
<linearGradient id="w83" gradientUnits="userSpaceOnUse" x1="1104.7" y1="980.9" x2="613.6" y2="809.9"><stop offset="0.000" stop-color="#ffffff"/><stop offset="0.023" stop-color="#befff4"/><stop offset="0.047" stop-color="#8affeb"/><stop offset="0.070" stop-color="#5affe3"/><stop offset="0.094" stop-color="#2cffdc"/><stop offset="0.117" stop-color="#00ffd4"/><stop offset="1.000" stop-color="#00ffd4"/></linearGradient>
<linearGradient id="w84" gradientUnits="userSpaceOnUse" x1="1104.7" y1="980.9" x2="621.2" y2="789.5"><stop offset="0.000" stop-color="#ffffff"/><stop offset="0.023" stop-color="#befff3"/><stop offset="0.047" stop-color="#8affe9"/><stop offset="0.070" stop-color="#5affe0"/><stop offset="0.094" stop-color="#2cffd7"/><stop offset="0.117" stop-color="#00ffcf"/><stop offset="1.000" stop-color="#00ffcf"/></linearGradient>
<linearGradient id="w85" gradientUnits="userSpaceOnUse" x1="1104.7" y1="980.9" x2="629.6" y2="769.4"><stop offset="0.000" stop-color="#ffffff"/><stop offset="0.023" stop-color="#befff1"/><stop offset="0.047" stop-color="#8affe7"/><stop offset="0.070" stop-color="#5affdd"/><stop offset="0.094" stop-color="#2cffd3"/><stop offset="0.117" stop-color="#00ffca"/><stop offset="1.000" stop-color="#00ffca"/></linearGradient>
<linearGradient id="w86" gradientUnits="userSpaceOnUse" x1="1104.7" y1="980.9" x2="638.9" y2="749.7"><stop offset="0.000" stop-color="#ffffff"/><stop offset="0.024" stop-color="#befff0"/><stop offset="0.047" stop-color="#8affe4"/><stop offset="0.071" stop-color="#5affd9"/><stop offset="0.094" stop-color="#2cffcf"/><stop offset="0.118" stop-color="#00ffc4"/><stop offset="1.000" stop-color="#00ffc4"/></linearGradient>
<linearGradient id="w87" gradientUnits="userSpaceOnUse" x1="1104.7" y1="980.9" x2="649.0" y2="730.4"><stop offset="0.000" stop-color="#ffffff"/><stop offset="0.024" stop-color="#beffef"/><stop offset="0.047" stop-color="#8affe2"/><stop offset="0.071" stop-color="#5affd6"/><stop offset="0.094" stop-color="#2cffca"/><stop offset="0.118" stop-color="#00ffbf"/><stop offset="1.000" stop-color="#00ffbf"/></linearGradient>
<linearGradient id="w88" gradientUnits="userSpaceOnUse" x1="1104.7" y1="980.9" x2="659.9" y2="711.5"><stop offset="0.000" stop-color="#ffffff"/><stop offset="0.024" stop-color="#beffed"/><stop offset="0.048" stop-color="#8affdf"/><stop offset="0.071" stop-color="#5affd2"/><stop offset="0.095" stop-color="#2cffc6"/><stop offset="0.119" stop-color="#00ffba"/><stop offset="1.000" stop-color="#00ffba"/></linearGradient>
<linearGradient id="w89" gradientUnits="userSpaceOnUse" x1="1104.7" y1="980.9" x2="671.6" y2="693.1"><stop offset="0.000" stop-color="#ffffff"/><stop offset="0.024" stop-color="#beffec"/><stop offset="0.048" stop-color="#8affdd"/><stop offset="0.072" stop-color="#5affcf"/><stop offset="0.096" stop-color="#2cffc1"/><stop offset="0.120" stop-color="#00ffb4"/><stop offset="1.000" stop-color="#00ffb4"/></linearGradient>
<linearGradient id="w90" gradientUnits="userSpaceOnUse" x1="1104.7" y1="980.9" x2="684.0" y2="675.3"><stop offset="0.000" stop-color="#ffffff"/><stop offset="0.024" stop-color="#beffeb"/><stop offset="0.048" stop-color="#8affda"/><stop offset="0.073" stop-color="#5affcb"/><stop offset="0.097" stop-color="#2cffbd"/><stop offset="0.121" stop-color="#00ffaf"/><stop offset="1.000" stop-color="#00ffaf"/></linearGradient>
<linearGradient id="w91" gradientUnits="userSpaceOnUse" x1="1104.7" y1="980.9" x2="697.2" y2="657.9"><stop offset="0.000" stop-color="#ffffff"/><stop offset="0.025" stop-color="#beffe9"/><stop offset="0.049" stop-color="#8affd8"/><stop offset="0.074" stop-color="#5affc8"/><stop offset="0.098" stop-color="#2cffb8"/><stop offset="0.123" stop-color="#00ffa9"/><stop offset="1.000" stop-color="#00ffa9"/></linearGradient>
<linearGradient id="w92" gradientUnits="userSpaceOnUse" x1="1104.7" y1="980.9" x2="711.0" y2="641.1"><stop offset="0.000" stop-color="#ffffff"/><stop offset="0.025" stop-color="#beffe8"/><stop offset="0.050" stop-color="#8affd5"/><stop offset="0.075" stop-color="#5affc4"/><stop offset="0.099" stop-color="#2cffb4"/><stop offset="0.124" stop-color="#00ffa4"/><stop offset="1.000" stop-color="#00ffa4"/></linearGradient>
<linearGradient id="w93" gradientUnits="userSpaceOnUse" x1="1104.7" y1="980.9" x2="725.6" y2="624.9"><stop offset="0.000" stop-color="#ffffff"/><stop offset="0.025" stop-color="#beffe6"/><stop offset="0.051" stop-color="#8affd3"/><stop offset="0.076" stop-color="#5affc0"/><stop offset="0.101" stop-color="#2cffaf"/><stop offset="0.126" stop-color="#00ff9e"/><stop offset="1.000" stop-color="#00ff9e"/></linearGradient>
<linearGradient id="w94" gradientUnits="userSpaceOnUse" x1="1104.7" y1="980.9" x2="740.8" y2="609.4"><stop offset="0.000" stop-color="#ffffff"/><stop offset="0.026" stop-color="#beffe5"/><stop offset="0.051" stop-color="#8affd0"/><stop offset="0.077" stop-color="#5affbd"/><stop offset="0.103" stop-color="#2cffab"/><stop offset="0.129" stop-color="#00ff99"/><stop offset="1.000" stop-color="#00ff99"/></linearGradient>
<linearGradient id="w95" gradientUnits="userSpaceOnUse" x1="1104.7" y1="980.9" x2="756.7" y2="594.5"><stop offset="0.000" stop-color="#ffffff"/><stop offset="0.026" stop-color="#beffe4"/><stop offset="0.053" stop-color="#8affce"/><stop offset="0.079" stop-color="#5affb9"/><stop offset="0.105" stop-color="#2cffa6"/><stop offset="0.131" stop-color="#00ff93"/><stop offset="1.000" stop-color="#00ff93"/></linearGradient>
<linearGradient id="w96" gradientUnits="userSpaceOnUse" x1="1104.7" y1="980.9" x2="773.2" y2="580.2"><stop offset="0.000" stop-color="#ffffff"/><stop offset="0.027" stop-color="#beffe2"/><stop offset="0.054" stop-color="#8affcb"/><stop offset="0.081" stop-color="#5affb6"/><stop offset="0.107" stop-color="#2cffa1"/><stop offset="0.134" stop-color="#00ff8e"/><stop offset="1.000" stop-color="#00ff8e"/></linearGradient>
<linearGradient id="w97" gradientUnits="userSpaceOnUse" x1="1104.7" y1="980.9" x2="790.3" y2="566.7"><stop offset="0.000" stop-color="#ffffff"/><stop offset="0.028" stop-color="#beffe1"/><stop offset="0.055" stop-color="#8affc9"/><stop offset="0.083" stop-color="#5affb2"/><stop offset="0.110" stop-color="#2cff9d"/><stop offset="0.138" stop-color="#00ff88"/><stop offset="1.000" stop-color="#00ff88"/></linearGradient>
<linearGradient id="w98" gradientUnits="userSpaceOnUse" x1="1104.7" y1="980.9" x2="807.9" y2="553.9"><stop offset="0.000" stop-color="#ffffff"/><stop offset="0.028" stop-color="#beffdf"/><stop offset="0.057" stop-color="#8affc6"/><stop offset="0.085" stop-color="#5affaf"/><stop offset="0.113" stop-color="#2cff98"/><stop offset="0.141" stop-color="#00ff83"/><stop offset="1.000" stop-color="#00ff83"/></linearGradient>
<linearGradient id="w99" gradientUnits="userSpaceOnUse" x1="1104.7" y1="980.9" x2="826.0" y2="541.9"><stop offset="0.000" stop-color="#ffffff"/><stop offset="0.029" stop-color="#beffde"/><stop offset="0.058" stop-color="#8affc4"/><stop offset="0.087" stop-color="#5affab"/><stop offset="0.117" stop-color="#2cff94"/><stop offset="0.146" stop-color="#00ff7d"/><stop offset="1.000" stop-color="#00ff7d"/></linearGradient>
<linearGradient id="w100" gradientUnits="userSpaceOnUse" x1="1104.7" y1="980.9" x2="844.7" y2="530.6"><stop offset="0.000" stop-color="#ffffff"/><stop offset="0.030" stop-color="#beffdd"/><stop offset="0.060" stop-color="#8affc1"/><stop offset="0.090" stop-color="#5affa8"/><stop offset="0.120" stop-color="#2cff8f"/><stop offset="0.150" stop-color="#00ff78"/><stop offset="1.000" stop-color="#00ff78"/></linearGradient>
<linearGradient id="w101" gradientUnits="userSpaceOnUse" x1="1104.7" y1="980.9" x2="863.8" y2="520.1"><stop offset="0.000" stop-color="#ffffff"/><stop offset="0.031" stop-color="#beffda"/><stop offset="0.062" stop-color="#8affbd"/><stop offset="0.094" stop-color="#5affa2"/><stop offset="0.125" stop-color="#2cff88"/><stop offset="0.156" stop-color="#00ff6f"/><stop offset="1.000" stop-color="#00ff6f"/></linearGradient>
<linearGradient id="w102" gradientUnits="userSpaceOnUse" x1="1104.7" y1="980.9" x2="883.3" y2="510.4"><stop offset="0.000" stop-color="#ffffff"/><stop offset="0.032" stop-color="#beffd8"/><stop offset="0.065" stop-color="#8affb9"/><stop offset="0.097" stop-color="#5aff9c"/><stop offset="0.130" stop-color="#2cff81"/><stop offset="0.162" stop-color="#00ff67"/><stop offset="1.000" stop-color="#00ff67"/></linearGradient>
<linearGradient id="w103" gradientUnits="userSpaceOnUse" x1="1104.7" y1="980.9" x2="903.2" y2="501.5"><stop offset="0.000" stop-color="#ffffff"/><stop offset="0.034" stop-color="#beffd6"/><stop offset="0.068" stop-color="#8affb5"/><stop offset="0.101" stop-color="#5aff97"/><stop offset="0.135" stop-color="#2cff7a"/><stop offset="0.169" stop-color="#00ff5e"/><stop offset="1.000" stop-color="#00ff5e"/></linearGradient>
<linearGradient id="w104" gradientUnits="userSpaceOnUse" x1="1104.7" y1="980.9" x2="923.4" y2="493.5"><stop offset="0.000" stop-color="#ffffff"/><stop offset="0.035" stop-color="#beffd4"/><stop offset="0.071" stop-color="#8affb1"/><stop offset="0.106" stop-color="#5aff91"/><stop offset="0.141" stop-color="#2cff73"/><stop offset="0.177" stop-color="#00ff55"/><stop offset="1.000" stop-color="#00ff55"/></linearGradient>
<linearGradient id="w105" gradientUnits="userSpaceOnUse" x1="1104.7" y1="980.9" x2="944.0" y2="486.4"><stop offset="0.000" stop-color="#ffffff"/><stop offset="0.037" stop-color="#beffd2"/><stop offset="0.074" stop-color="#8affad"/><stop offset="0.111" stop-color="#5aff8c"/><stop offset="0.149" stop-color="#2cff6c"/><stop offset="0.186" stop-color="#00ff4d"/><stop offset="1.000" stop-color="#00ff4d"/></linearGradient>
<linearGradient id="w106" gradientUnits="userSpaceOnUse" x1="1104.7" y1="980.9" x2="964.8" y2="480.1"><stop offset="0.000" stop-color="#ffffff"/><stop offset="0.039" stop-color="#beffcf"/><stop offset="0.078" stop-color="#8affa9"/><stop offset="0.118" stop-color="#5aff86"/><stop offset="0.157" stop-color="#2cff64"/><stop offset="0.196" stop-color="#00ff44"/><stop offset="1.000" stop-color="#00ff44"/></linearGradient>
<linearGradient id="w107" gradientUnits="userSpaceOnUse" x1="1104.7" y1="980.9" x2="985.9" y2="474.7"><stop offset="0.000" stop-color="#ffffff"/><stop offset="0.042" stop-color="#beffcd"/><stop offset="0.083" stop-color="#8affa5"/><stop offset="0.125" stop-color="#5aff80"/><stop offset="0.166" stop-color="#2cff5d"/><stop offset="0.208" stop-color="#00ff3c"/><stop offset="1.000" stop-color="#00ff3c"/></linearGradient>
<linearGradient id="w108" gradientUnits="userSpaceOnUse" x1="1104.7" y1="980.9" x2="1007.2" y2="470.1"><stop offset="0.000" stop-color="#ffffff"/><stop offset="0.044" stop-color="#beffcb"/><stop offset="0.089" stop-color="#8affa1"/><stop offset="0.133" stop-color="#5aff7b"/><stop offset="0.177" stop-color="#2cff56"/><stop offset="0.222" stop-color="#00ff33"/><stop offset="1.000" stop-color="#00ff33"/></linearGradient>
<linearGradient id="w109" gradientUnits="userSpaceOnUse" x1="1104.7" y1="980.9" x2="1028.7" y2="466.5"><stop offset="0.000" stop-color="#ffffff"/><stop offset="0.048" stop-color="#beffc7"/><stop offset="0.095" stop-color="#8aff9a"/><stop offset="0.143" stop-color="#5aff71"/><stop offset="0.190" stop-color="#2cff49"/><stop offset="0.238" stop-color="#00ff23"/><stop offset="1.000" stop-color="#00ff23"/></linearGradient>
<linearGradient id="w110" gradientUnits="userSpaceOnUse" x1="1104.7" y1="980.9" x2="1050.3" y2="463.8"><stop offset="0.000" stop-color="#ffffff"/><stop offset="0.051" stop-color="#beffc2"/><stop offset="0.103" stop-color="#8aff91"/><stop offset="0.154" stop-color="#5aff64"/><stop offset="0.206" stop-color="#2cff39"/><stop offset="0.257" stop-color="#00ff10"/><stop offset="1.000" stop-color="#00ff10"/></linearGradient>
<linearGradient id="w111" gradientUnits="userSpaceOnUse" x1="1104.7" y1="980.9" x2="1072.0" y2="461.9"><stop offset="0.000" stop-color="#ffffff"/><stop offset="0.056" stop-color="#bfffbe"/><stop offset="0.112" stop-color="#8bff8a"/><stop offset="0.167" stop-color="#5cff5a"/><stop offset="0.223" stop-color="#2fff2c"/><stop offset="0.279" stop-color="#03ff00"/><stop offset="1.000" stop-color="#03ff00"/></linearGradient>
<linearGradient id="w112" gradientUnits="userSpaceOnUse" x1="1104.7" y1="980.9" x2="1093.8" y2="461.0"><stop offset="0.000" stop-color="#ffffff"/><stop offset="0.054" stop-color="#c4ffbe"/><stop offset="0.109" stop-color="#94ff8a"/><stop offset="0.163" stop-color="#68ff5a"/><stop offset="0.218" stop-color="#3fff2c"/><stop offset="0.272" stop-color="#16ff00"/><stop offset="1.000" stop-color="#16ff00"/></linearGradient>
<linearGradient id="w113" gradientUnits="userSpaceOnUse" x1="1104.7" y1="980.9" x2="1115.6" y2="461.0"><stop offset="0.000" stop-color="#ffffff"/><stop offset="0.053" stop-color="#c9ffbe"/><stop offset="0.106" stop-color="#9dff8a"/><stop offset="0.159" stop-color="#75ff5a"/><stop offset="0.212" stop-color="#4eff2c"/><stop offset="0.265" stop-color="#2aff00"/><stop offset="1.000" stop-color="#2aff00"/></linearGradient>
<linearGradient id="w114" gradientUnits="userSpaceOnUse" x1="1104.7" y1="980.9" x2="1137.3" y2="461.9"><stop offset="0.000" stop-color="#ffffff"/><stop offset="0.052" stop-color="#ccffbe"/><stop offset="0.104" stop-color="#a4ff8a"/><stop offset="0.156" stop-color="#7eff5a"/><stop offset="0.208" stop-color="#5bff2c"/><stop offset="0.260" stop-color="#39ff00"/><stop offset="1.000" stop-color="#39ff00"/></linearGradient>
<linearGradient id="w115" gradientUnits="userSpaceOnUse" x1="1104.7" y1="980.9" x2="1159.0" y2="463.8"><stop offset="0.000" stop-color="#ffffff"/><stop offset="0.051" stop-color="#d0ffbe"/><stop offset="0.102" stop-color="#aaff8a"/><stop offset="0.153" stop-color="#87ff5a"/><stop offset="0.204" stop-color="#65ff2c"/><stop offset="0.255" stop-color="#45ff00"/><stop offset="1.000" stop-color="#45ff00"/></linearGradient>
<linearGradient id="w116" gradientUnits="userSpaceOnUse" x1="1104.7" y1="980.9" x2="1180.6" y2="466.5"><stop offset="0.000" stop-color="#ffffff"/><stop offset="0.050" stop-color="#d3ffbe"/><stop offset="0.100" stop-color="#b0ff8a"/><stop offset="0.150" stop-color="#8fff5a"/><stop offset="0.200" stop-color="#70ff2c"/><stop offset="0.250" stop-color="#52ff00"/><stop offset="1.000" stop-color="#52ff00"/></linearGradient>
<linearGradient id="w117" gradientUnits="userSpaceOnUse" x1="1104.7" y1="980.9" x2="1202.1" y2="470.1"><stop offset="0.000" stop-color="#ffffff"/><stop offset="0.049" stop-color="#d6ffbe"/><stop offset="0.099" stop-color="#b6ff8a"/><stop offset="0.148" stop-color="#97ff5a"/><stop offset="0.197" stop-color="#7bff2c"/><stop offset="0.246" stop-color="#5fff00"/><stop offset="1.000" stop-color="#5fff00"/></linearGradient>
<linearGradient id="w118" gradientUnits="userSpaceOnUse" x1="1104.7" y1="980.9" x2="1223.4" y2="474.7"><stop offset="0.000" stop-color="#ffffff"/><stop offset="0.049" stop-color="#daffbe"/><stop offset="0.097" stop-color="#bbff8a"/><stop offset="0.146" stop-color="#a0ff5a"/><stop offset="0.195" stop-color="#85ff2c"/><stop offset="0.243" stop-color="#6cff00"/><stop offset="1.000" stop-color="#6cff00"/></linearGradient>
<linearGradient id="w119" gradientUnits="userSpaceOnUse" x1="1104.7" y1="980.9" x2="1244.5" y2="480.1"><stop offset="0.000" stop-color="#ffffff"/><stop offset="0.048" stop-color="#ddffbe"/><stop offset="0.096" stop-color="#c1ff8a"/><stop offset="0.144" stop-color="#a8ff5a"/><stop offset="0.192" stop-color="#90ff2c"/><stop offset="0.240" stop-color="#79ff00"/><stop offset="1.000" stop-color="#79ff00"/></linearGradient>
<linearGradient id="w120" gradientUnits="userSpaceOnUse" x1="1104.7" y1="980.9" x2="1265.4" y2="486.4"><stop offset="0.000" stop-color="#ffffff"/><stop offset="0.048" stop-color="#e0ffbe"/><stop offset="0.095" stop-color="#c7ff8a"/><stop offset="0.143" stop-color="#b0ff5a"/><stop offset="0.190" stop-color="#9aff2c"/><stop offset="0.238" stop-color="#85ff00"/><stop offset="1.000" stop-color="#85ff00"/></linearGradient>
<linearGradient id="w121" gradientUnits="userSpaceOnUse" x1="1104.7" y1="980.9" x2="1285.9" y2="493.5"><stop offset="0.000" stop-color="#ffffff"/><stop offset="0.047" stop-color="#e3ffbe"/><stop offset="0.094" stop-color="#cdff8a"/><stop offset="0.142" stop-color="#b8ff5a"/><stop offset="0.189" stop-color="#a5ff2c"/><stop offset="0.236" stop-color="#92ff00"/><stop offset="1.000" stop-color="#92ff00"/></linearGradient>
<linearGradient id="w122" gradientUnits="userSpaceOnUse" x1="1104.7" y1="980.9" x2="1306.2" y2="501.5"><stop offset="0.000" stop-color="#ffffff"/><stop offset="0.047" stop-color="#e6ffbe"/><stop offset="0.094" stop-color="#d2ff8a"/><stop offset="0.141" stop-color="#bfff5a"/><stop offset="0.188" stop-color="#adff2c"/><stop offset="0.235" stop-color="#9cff00"/><stop offset="1.000" stop-color="#9cff00"/></linearGradient>
<linearGradient id="w123" gradientUnits="userSpaceOnUse" x1="1104.7" y1="980.9" x2="1326.1" y2="510.4"><stop offset="0.000" stop-color="#ffffff"/><stop offset="0.047" stop-color="#e9ffbe"/><stop offset="0.093" stop-color="#d7ff8a"/><stop offset="0.140" stop-color="#c6ff5a"/><stop offset="0.187" stop-color="#b6ff2c"/><stop offset="0.234" stop-color="#a7ff00"/><stop offset="1.000" stop-color="#a7ff00"/></linearGradient>
<linearGradient id="w124" gradientUnits="userSpaceOnUse" x1="1104.7" y1="980.9" x2="1345.6" y2="520.1"><stop offset="0.000" stop-color="#ffffff"/><stop offset="0.047" stop-color="#ebffbe"/><stop offset="0.093" stop-color="#dcff8a"/><stop offset="0.140" stop-color="#cdff5a"/><stop offset="0.186" stop-color="#bfff2c"/><stop offset="0.233" stop-color="#b2ff00"/><stop offset="1.000" stop-color="#b2ff00"/></linearGradient>
<linearGradient id="w125" gradientUnits="userSpaceOnUse" x1="1104.7" y1="980.9" x2="1364.7" y2="530.6"><stop offset="0.000" stop-color="#ffffff"/><stop offset="0.047" stop-color="#eeffbe"/><stop offset="0.093" stop-color="#e0ff8a"/><stop offset="0.140" stop-color="#d4ff5a"/><stop offset="0.186" stop-color="#c8ff2c"/><stop offset="0.233" stop-color="#bcff00"/><stop offset="1.000" stop-color="#bcff00"/></linearGradient>
<linearGradient id="w126" gradientUnits="userSpaceOnUse" x1="1104.7" y1="980.9" x2="1383.3" y2="541.9"><stop offset="0.000" stop-color="#ffffff"/><stop offset="0.047" stop-color="#f1ffbe"/><stop offset="0.093" stop-color="#e5ff8a"/><stop offset="0.140" stop-color="#dbff5a"/><stop offset="0.187" stop-color="#d1ff2c"/><stop offset="0.233" stop-color="#c7ff00"/><stop offset="1.000" stop-color="#c7ff00"/></linearGradient>
<linearGradient id="w127" gradientUnits="userSpaceOnUse" x1="1104.7" y1="980.9" x2="1401.4" y2="553.9"><stop offset="0.000" stop-color="#ffffff"/><stop offset="0.047" stop-color="#f3ffbe"/><stop offset="0.094" stop-color="#eaff8a"/><stop offset="0.140" stop-color="#e2ff5a"/><stop offset="0.187" stop-color="#daff2c"/><stop offset="0.234" stop-color="#d2ff00"/><stop offset="1.000" stop-color="#d2ff00"/></linearGradient>
<linearGradient id="w128" gradientUnits="userSpaceOnUse" x1="1104.7" y1="980.9" x2="1419.1" y2="566.7"><stop offset="0.000" stop-color="#ffffff"/><stop offset="0.047" stop-color="#f6ffbe"/><stop offset="0.094" stop-color="#efff8a"/><stop offset="0.141" stop-color="#e9ff5a"/><stop offset="0.188" stop-color="#e2ff2c"/><stop offset="0.235" stop-color="#dcff00"/><stop offset="1.000" stop-color="#dcff00"/></linearGradient>
<linearGradient id="w129" gradientUnits="userSpaceOnUse" x1="1104.7" y1="980.9" x2="1436.1" y2="580.2"><stop offset="0.000" stop-color="#ffffff"/><stop offset="0.047" stop-color="#f9ffbe"/><stop offset="0.095" stop-color="#f4ff8a"/><stop offset="0.142" stop-color="#efff5a"/><stop offset="0.189" stop-color="#ebff2c"/><stop offset="0.236" stop-color="#e7ff00"/><stop offset="1.000" stop-color="#e7ff00"/></linearGradient>
<linearGradient id="w130" gradientUnits="userSpaceOnUse" x1="1104.7" y1="980.9" x2="1452.6" y2="594.5"><stop offset="0.000" stop-color="#ffffff"/><stop offset="0.048" stop-color="#fcffbe"/><stop offset="0.095" stop-color="#f9ff8a"/><stop offset="0.143" stop-color="#f6ff5a"/><stop offset="0.191" stop-color="#f4ff2c"/><stop offset="0.238" stop-color="#f2ff00"/><stop offset="1.000" stop-color="#f2ff00"/></linearGradient>
<linearGradient id="w131" gradientUnits="userSpaceOnUse" x1="1104.7" y1="980.9" x2="1468.5" y2="609.4"><stop offset="0.000" stop-color="#ffffff"/><stop offset="0.048" stop-color="#feffbe"/><stop offset="0.096" stop-color="#feff8a"/><stop offset="0.144" stop-color="#fdff5a"/><stop offset="0.193" stop-color="#fdff2c"/><stop offset="0.241" stop-color="#fcff00"/><stop offset="1.000" stop-color="#fcff00"/></linearGradient>
<linearGradient id="w132" gradientUnits="userSpaceOnUse" x1="1104.7" y1="980.9" x2="1483.7" y2="624.9"><stop offset="0.000" stop-color="#ffffff"/><stop offset="0.049" stop-color="#fffdbe"/><stop offset="0.097" stop-color="#fffb8a"/><stop offset="0.146" stop-color="#fff95a"/><stop offset="0.195" stop-color="#fff82c"/><stop offset="0.244" stop-color="#fff600"/><stop offset="1.000" stop-color="#fff600"/></linearGradient>
<linearGradient id="w133" gradientUnits="userSpaceOnUse" x1="1104.7" y1="980.9" x2="1498.3" y2="641.1"><stop offset="0.000" stop-color="#ffffff"/><stop offset="0.049" stop-color="#fffabe"/><stop offset="0.099" stop-color="#fff68a"/><stop offset="0.148" stop-color="#fff25a"/><stop offset="0.198" stop-color="#ffee2c"/><stop offset="0.247" stop-color="#ffeb00"/><stop offset="1.000" stop-color="#ffeb00"/></linearGradient>
<linearGradient id="w134" gradientUnits="userSpaceOnUse" x1="1104.7" y1="980.9" x2="1512.2" y2="657.9"><stop offset="0.000" stop-color="#ffffff"/><stop offset="0.050" stop-color="#fff7be"/><stop offset="0.100" stop-color="#fff18a"/><stop offset="0.150" stop-color="#ffeb5a"/><stop offset="0.201" stop-color="#ffe52c"/><stop offset="0.251" stop-color="#ffe000"/><stop offset="1.000" stop-color="#ffe000"/></linearGradient>
<linearGradient id="w135" gradientUnits="userSpaceOnUse" x1="1104.7" y1="980.9" x2="1525.4" y2="675.3"><stop offset="0.000" stop-color="#ffffff"/><stop offset="0.051" stop-color="#fff4be"/><stop offset="0.102" stop-color="#ffeb8a"/><stop offset="0.153" stop-color="#ffe35a"/><stop offset="0.204" stop-color="#ffdc2c"/><stop offset="0.255" stop-color="#ffd400"/><stop offset="1.000" stop-color="#ffd400"/></linearGradient>
<linearGradient id="w136" gradientUnits="userSpaceOnUse" x1="1104.7" y1="980.9" x2="1537.8" y2="693.1"><stop offset="0.000" stop-color="#ffffff"/><stop offset="0.052" stop-color="#fff1be"/><stop offset="0.104" stop-color="#ffe68a"/><stop offset="0.156" stop-color="#ffdc5a"/><stop offset="0.208" stop-color="#ffd22c"/><stop offset="0.260" stop-color="#ffc900"/><stop offset="1.000" stop-color="#ffc900"/></linearGradient>
<linearGradient id="w137" gradientUnits="userSpaceOnUse" x1="1104.7" y1="980.9" x2="1549.5" y2="711.5"><stop offset="0.000" stop-color="#ffffff"/><stop offset="0.053" stop-color="#ffeebe"/><stop offset="0.106" stop-color="#ffe18a"/><stop offset="0.160" stop-color="#ffd55a"/><stop offset="0.213" stop-color="#ffc92c"/><stop offset="0.266" stop-color="#ffbd00"/><stop offset="1.000" stop-color="#ffbd00"/></linearGradient>
<linearGradient id="w138" gradientUnits="userSpaceOnUse" x1="1104.7" y1="980.9" x2="1560.4" y2="730.4"><stop offset="0.000" stop-color="#ffffff"/><stop offset="0.055" stop-color="#ffebbe"/><stop offset="0.109" stop-color="#ffdc8a"/><stop offset="0.164" stop-color="#ffcd5a"/><stop offset="0.218" stop-color="#ffbf2c"/><stop offset="0.273" stop-color="#ffb200"/><stop offset="1.000" stop-color="#ffb200"/></linearGradient>
<linearGradient id="w139" gradientUnits="userSpaceOnUse" x1="1104.7" y1="980.9" x2="1570.4" y2="749.7"><stop offset="0.000" stop-color="#ffffff"/><stop offset="0.056" stop-color="#ffe9be"/><stop offset="0.112" stop-color="#ffd68a"/><stop offset="0.168" stop-color="#ffc65a"/><stop offset="0.224" stop-color="#ffb62c"/><stop offset="0.280" stop-color="#ffa700"/><stop offset="1.000" stop-color="#ffa700"/></linearGradient>
<linearGradient id="w140" gradientUnits="userSpaceOnUse" x1="1104.7" y1="980.9" x2="1579.7" y2="769.4"><stop offset="0.000" stop-color="#ffffff"/><stop offset="0.058" stop-color="#ffe5be"/><stop offset="0.115" stop-color="#ffd08a"/><stop offset="0.173" stop-color="#ffbd5a"/><stop offset="0.231" stop-color="#ffab2c"/><stop offset="0.289" stop-color="#ff9a00"/><stop offset="1.000" stop-color="#ff9a00"/></linearGradient>
<linearGradient id="w141" gradientUnits="userSpaceOnUse" x1="1104.7" y1="980.9" x2="1588.2" y2="789.5"><stop offset="0.000" stop-color="#ffffff"/><stop offset="0.060" stop-color="#ffe1be"/><stop offset="0.119" stop-color="#ffc98a"/><stop offset="0.179" stop-color="#ffb35a"/><stop offset="0.238" stop-color="#ff9e2c"/><stop offset="0.298" stop-color="#ff8a00"/><stop offset="1.000" stop-color="#ff8a00"/></linearGradient>
<linearGradient id="w142" gradientUnits="userSpaceOnUse" x1="1104.7" y1="980.9" x2="1595.7" y2="809.9"><stop offset="0.000" stop-color="#ffffff"/><stop offset="0.062" stop-color="#ffddbe"/><stop offset="0.123" stop-color="#ffc28a"/><stop offset="0.185" stop-color="#ffa95a"/><stop offset="0.247" stop-color="#ff922c"/><stop offset="0.308" stop-color="#ff7b00"/><stop offset="1.000" stop-color="#ff7b00"/></linearGradient>
<linearGradient id="w143" gradientUnits="userSpaceOnUse" x1="1104.7" y1="980.9" x2="1602.5" y2="830.6"><stop offset="0.000" stop-color="#ffffff"/><stop offset="0.064" stop-color="#ffd9be"/><stop offset="0.128" stop-color="#ffbb8a"/><stop offset="0.192" stop-color="#ff9f5a"/><stop offset="0.256" stop-color="#ff852c"/><stop offset="0.320" stop-color="#ff6c00"/><stop offset="1.000" stop-color="#ff6c00"/></linearGradient>
<linearGradient id="w144" gradientUnits="userSpaceOnUse" x1="1104.7" y1="980.9" x2="1608.3" y2="851.6"><stop offset="0.000" stop-color="#ffffff"/><stop offset="0.067" stop-color="#ffd6be"/><stop offset="0.134" stop-color="#ffb48a"/><stop offset="0.200" stop-color="#ff965a"/><stop offset="0.267" stop-color="#ff782c"/><stop offset="0.334" stop-color="#ff5c00"/><stop offset="1.000" stop-color="#ff5c00"/></linearGradient>
<linearGradient id="w145" gradientUnits="userSpaceOnUse" x1="1104.7" y1="980.9" x2="1613.3" y2="872.8"><stop offset="0.000" stop-color="#ffffff"/><stop offset="0.070" stop-color="#ffd2be"/><stop offset="0.140" stop-color="#ffad8a"/><stop offset="0.210" stop-color="#ff8c5a"/><stop offset="0.279" stop-color="#ff6c2c"/><stop offset="0.349" stop-color="#ff4d00"/><stop offset="1.000" stop-color="#ff4d00"/></linearGradient>
<linearGradient id="w146" gradientUnits="userSpaceOnUse" x1="1104.7" y1="980.9" x2="1617.4" y2="894.2"><stop offset="0.000" stop-color="#ffffff"/><stop offset="0.073" stop-color="#ffcebe"/><stop offset="0.147" stop-color="#ffa68b"/><stop offset="0.220" stop-color="#ff825b"/><stop offset="0.293" stop-color="#ff5f2d"/><stop offset="0.367" stop-color="#ff3d02"/><stop offset="1.000" stop-color="#ff3d02"/></linearGradient>
<linearGradient id="w147" gradientUnits="userSpaceOnUse" x1="1104.7" y1="980.9" x2="1620.6" y2="915.7"><stop offset="0.000" stop-color="#ffffff"/><stop offset="0.077" stop-color="#ffcac1"/><stop offset="0.155" stop-color="#ff9f8f"/><stop offset="0.232" stop-color="#ff7861"/><stop offset="0.309" stop-color="#ff5235"/><stop offset="0.387" stop-color="#ff2e0b"/><stop offset="1.000" stop-color="#ff2e0b"/></linearGradient>
<linearGradient id="w148" gradientUnits="userSpaceOnUse" x1="1104.7" y1="980.9" x2="1622.8" y2="937.4"><stop offset="0.000" stop-color="#ffffff"/><stop offset="0.082" stop-color="#ffc6c3"/><stop offset="0.164" stop-color="#ff9894"/><stop offset="0.246" stop-color="#ff6e67"/><stop offset="0.328" stop-color="#ff453d"/><stop offset="0.410" stop-color="#ff1f15"/><stop offset="1.000" stop-color="#ff1f15"/></linearGradient>
<linearGradient id="w149" gradientUnits="userSpaceOnUse" x1="1104.7" y1="980.9" x2="1624.2" y2="959.1"><stop offset="0.000" stop-color="#ffffff"/><stop offset="0.087" stop-color="#ffc2c6"/><stop offset="0.175" stop-color="#ff9198"/><stop offset="0.262" stop-color="#ff646e"/><stop offset="0.349" stop-color="#ff3945"/><stop offset="0.437" stop-color="#ff0f1e"/><stop offset="1.000" stop-color="#ff0f1e"/></linearGradient>
</defs>
<g clip-path="url(#hs)"><path d="M1104.7 980.9L1625 968L1625 994Z" fill="url(#w0)"/><path d="M1104.7 980.9L1625 990L1624 1016Z" fill="url(#w1)"/><path d="M1104.7 980.9L1624 1011L1622 1037Z" fill="url(#w2)"/><path d="M1104.7 980.9L1622 1033L1619 1059Z" fill="url(#w3)"/><path d="M1104.7 980.9L1619 1055L1615 1080Z" fill="url(#w4)"/><path d="M1104.7 980.9L1616 1076L1610 1102Z" fill="url(#w5)"/><path d="M1104.7 980.9L1611 1098L1605 1123Z" fill="url(#w6)"/><path d="M1104.7 980.9L1606 1119L1599 1144Z" fill="url(#w7)"/><path d="M1104.7 980.9L1600 1140L1591 1164Z" fill="url(#w8)"/><path d="M1104.7 980.9L1593 1160L1583 1184Z" fill="url(#w9)"/><path d="M1104.7 980.9L1585 1180L1574 1204Z" fill="url(#w10)"/><path d="M1104.7 980.9L1576 1200L1564 1224Z" fill="url(#w11)"/><path d="M1104.7 980.9L1567 1220L1554 1243Z" fill="url(#w12)"/><path d="M1104.7 980.9L1556 1239L1543 1261Z" fill="url(#w13)"/><path d="M1104.7 980.9L1545 1258L1530 1279Z" fill="url(#w14)"/><path d="M1104.7 980.9L1533 1276L1518 1297Z" fill="url(#w15)"/><path d="M1104.7 980.9L1520 1294L1504 1314Z" fill="url(#w16)"/><path d="M1104.7 980.9L1507 1311L1490 1330Z" fill="url(#w17)"/><path d="M1104.7 980.9L1493 1327L1475 1346Z" fill="url(#w18)"/><path d="M1104.7 980.9L1478 1343L1459 1361Z" fill="url(#w19)"/><path d="M1104.7 980.9L1462 1358L1443 1376Z" fill="url(#w20)"/><path d="M1104.7 980.9L1446 1373L1426 1390Z" fill="url(#w21)"/><path d="M1104.7 980.9L1429 1387L1409 1403Z" fill="url(#w22)"/><path d="M1104.7 980.9L1412 1400L1391 1415Z" fill="url(#w23)"/><path d="M1104.7 980.9L1394 1413L1372 1427Z" fill="url(#w24)"/><path d="M1104.7 980.9L1376 1425L1353 1438Z" fill="url(#w25)"/><path d="M1104.7 980.9L1357 1436L1334 1448Z" fill="url(#w26)"/><path d="M1104.7 980.9L1338 1446L1314 1457Z" fill="url(#w27)"/><path d="M1104.7 980.9L1318 1455L1294 1465Z" fill="url(#w28)"/><path d="M1104.7 980.9L1298 1464L1274 1473Z" fill="url(#w29)"/><path d="M1104.7 980.9L1278 1471L1253 1479Z" fill="url(#w30)"/><path d="M1104.7 980.9L1257 1478L1232 1485Z" fill="url(#w31)"/><path d="M1104.7 980.9L1236 1484L1211 1490Z" fill="url(#w32)"/><path d="M1104.7 980.9L1215 1489L1189 1494Z" fill="url(#w33)"/><path d="M1104.7 980.9L1194 1493L1168 1497Z" fill="url(#w34)"/><path d="M1104.7 980.9L1172 1497L1146 1499Z" fill="url(#w35)"/><path d="M1104.7 980.9L1150 1499L1124 1501Z" fill="url(#w36)"/><path d="M1104.7 980.9L1129 1500L1102 1501Z" fill="url(#w37)"/><path d="M1104.7 980.9L1107 1501L1081 1500Z" fill="url(#w38)"/><path d="M1104.7 980.9L1085 1501L1059 1499Z" fill="url(#w39)"/><path d="M1104.7 980.9L1063 1499L1037 1497Z" fill="url(#w40)"/><path d="M1104.7 980.9L1042 1497L1016 1493Z" fill="url(#w41)"/><path d="M1104.7 980.9L1020 1494L994 1489Z" fill="url(#w42)"/><path d="M1104.7 980.9L999 1490L973 1484Z" fill="url(#w43)"/><path d="M1104.7 980.9L977 1485L952 1478Z" fill="url(#w44)"/><path d="M1104.7 980.9L956 1479L932 1471Z" fill="url(#w45)"/><path d="M1104.7 980.9L936 1473L911 1464Z" fill="url(#w46)"/><path d="M1104.7 980.9L915 1465L891 1455Z" fill="url(#w47)"/><path d="M1104.7 980.9L895 1457L872 1446Z" fill="url(#w48)"/><path d="M1104.7 980.9L875 1448L852 1436Z" fill="url(#w49)"/><path d="M1104.7 980.9L856 1438L833 1425Z" fill="url(#w50)"/><path d="M1104.7 980.9L837 1427L815 1413Z" fill="url(#w51)"/><path d="M1104.7 980.9L819 1415L797 1400Z" fill="url(#w52)"/><path d="M1104.7 980.9L801 1403L780 1387Z" fill="url(#w53)"/><path d="M1104.7 980.9L783 1390L763 1373Z" fill="url(#w54)"/><path d="M1104.7 980.9L767 1376L747 1358Z" fill="url(#w55)"/><path d="M1104.7 980.9L750 1361L732 1343Z" fill="url(#w56)"/><path d="M1104.7 980.9L735 1346L717 1327Z" fill="url(#w57)"/><path d="M1104.7 980.9L720 1330L703 1311Z" fill="url(#w58)"/><path d="M1104.7 980.9L705 1314L689 1294Z" fill="url(#w59)"/><path d="M1104.7 980.9L692 1297L676 1276Z" fill="url(#w60)"/><path d="M1104.7 980.9L679 1279L664 1258Z" fill="url(#w61)"/><path d="M1104.7 980.9L667 1261L653 1239Z" fill="url(#w62)"/><path d="M1104.7 980.9L655 1243L643 1220Z" fill="url(#w63)"/><path d="M1104.7 980.9L645 1224L633 1200Z" fill="url(#w64)"/><path d="M1104.7 980.9L635 1204L624 1180Z" fill="url(#w65)"/><path d="M1104.7 980.9L626 1184L617 1160Z" fill="url(#w66)"/><path d="M1104.7 980.9L618 1164L609 1140Z" fill="url(#w67)"/><path d="M1104.7 980.9L611 1144L603 1119Z" fill="url(#w68)"/><path d="M1104.7 980.9L604 1123L598 1098Z" fill="url(#w69)"/><path d="M1104.7 980.9L599 1102L593 1076Z" fill="url(#w70)"/><path d="M1104.7 980.9L594 1080L590 1055Z" fill="url(#w71)"/><path d="M1104.7 980.9L591 1059L587 1033Z" fill="url(#w72)"/><path d="M1104.7 980.9L588 1037L586 1011Z" fill="url(#w73)"/><path d="M1104.7 980.9L586 1016L585 990Z" fill="url(#w74)"/><path d="M1104.7 980.9L585 994L585 968Z" fill="url(#w75)"/><path d="M1104.7 980.9L585 972L586 946Z" fill="url(#w76)"/><path d="M1104.7 980.9L586 950L588 924Z" fill="url(#w77)"/><path d="M1104.7 980.9L587 929L591 903Z" fill="url(#w78)"/><path d="M1104.7 980.9L590 907L594 881Z" fill="url(#w79)"/><path d="M1104.7 980.9L593 886L599 860Z" fill="url(#w80)"/><path d="M1104.7 980.9L598 864L604 839Z" fill="url(#w81)"/><path d="M1104.7 980.9L603 843L611 818Z" fill="url(#w82)"/><path d="M1104.7 980.9L609 822L618 798Z" fill="url(#w83)"/><path d="M1104.7 980.9L617 802L626 777Z" fill="url(#w84)"/><path d="M1104.7 980.9L624 781L635 758Z" fill="url(#w85)"/><path d="M1104.7 980.9L633 761L645 738Z" fill="url(#w86)"/><path d="M1104.7 980.9L643 742L655 719Z" fill="url(#w87)"/><path d="M1104.7 980.9L653 723L667 700Z" fill="url(#w88)"/><path d="M1104.7 980.9L664 704L679 682Z" fill="url(#w89)"/><path d="M1104.7 980.9L676 686L692 665Z" fill="url(#w90)"/><path d="M1104.7 980.9L689 668L705 648Z" fill="url(#w91)"/><path d="M1104.7 980.9L703 651L720 631Z" fill="url(#w92)"/><path d="M1104.7 980.9L717 635L735 616Z" fill="url(#w93)"/><path d="M1104.7 980.9L732 619L750 600Z" fill="url(#w94)"/><path d="M1104.7 980.9L747 603L767 586Z" fill="url(#w95)"/><path d="M1104.7 980.9L763 589L783 572Z" fill="url(#w96)"/><path d="M1104.7 980.9L780 575L801 559Z" fill="url(#w97)"/><path d="M1104.7 980.9L797 562L819 547Z" fill="url(#w98)"/><path d="M1104.7 980.9L815 549L837 535Z" fill="url(#w99)"/><path d="M1104.7 980.9L833 537L856 524Z" fill="url(#w100)"/><path d="M1104.7 980.9L852 526L875 514Z" fill="url(#w101)"/><path d="M1104.7 980.9L872 516L895 505Z" fill="url(#w102)"/><path d="M1104.7 980.9L891 507L915 497Z" fill="url(#w103)"/><path d="M1104.7 980.9L911 498L936 489Z" fill="url(#w104)"/><path d="M1104.7 980.9L932 491L956 482Z" fill="url(#w105)"/><path d="M1104.7 980.9L952 484L977 477Z" fill="url(#w106)"/><path d="M1104.7 980.9L973 478L999 472Z" fill="url(#w107)"/><path d="M1104.7 980.9L994 473L1020 468Z" fill="url(#w108)"/><path d="M1104.7 980.9L1016 469L1042 465Z" fill="url(#w109)"/><path d="M1104.7 980.9L1037 465L1063 463Z" fill="url(#w110)"/><path d="M1104.7 980.9L1059 463L1085 461Z" fill="url(#w111)"/><path d="M1104.7 980.9L1081 461L1107 461Z" fill="url(#w112)"/><path d="M1104.7 980.9L1102 461L1129 461Z" fill="url(#w113)"/><path d="M1104.7 980.9L1124 461L1150 463Z" fill="url(#w114)"/><path d="M1104.7 980.9L1146 463L1172 465Z" fill="url(#w115)"/><path d="M1104.7 980.9L1168 465L1194 469Z" fill="url(#w116)"/><path d="M1104.7 980.9L1189 468L1215 473Z" fill="url(#w117)"/><path d="M1104.7 980.9L1211 472L1236 478Z" fill="url(#w118)"/><path d="M1104.7 980.9L1232 477L1257 484Z" fill="url(#w119)"/><path d="M1104.7 980.9L1253 482L1278 491Z" fill="url(#w120)"/><path d="M1104.7 980.9L1274 489L1298 498Z" fill="url(#w121)"/><path d="M1104.7 980.9L1294 497L1318 507Z" fill="url(#w122)"/><path d="M1104.7 980.9L1314 505L1338 516Z" fill="url(#w123)"/><path d="M1104.7 980.9L1334 514L1357 526Z" fill="url(#w124)"/><path d="M1104.7 980.9L1353 524L1376 537Z" fill="url(#w125)"/><path d="M1104.7 980.9L1372 535L1394 549Z" fill="url(#w126)"/><path d="M1104.7 980.9L1391 547L1412 562Z" fill="url(#w127)"/><path d="M1104.7 980.9L1409 559L1429 575Z" fill="url(#w128)"/><path d="M1104.7 980.9L1426 572L1446 589Z" fill="url(#w129)"/><path d="M1104.7 980.9L1443 586L1462 603Z" fill="url(#w130)"/><path d="M1104.7 980.9L1459 600L1478 619Z" fill="url(#w131)"/><path d="M1104.7 980.9L1475 616L1493 635Z" fill="url(#w132)"/><path d="M1104.7 980.9L1490 631L1507 651Z" fill="url(#w133)"/><path d="M1104.7 980.9L1504 648L1520 668Z" fill="url(#w134)"/><path d="M1104.7 980.9L1518 665L1533 686Z" fill="url(#w135)"/><path d="M1104.7 980.9L1530 682L1545 704Z" fill="url(#w136)"/><path d="M1104.7 980.9L1543 700L1556 723Z" fill="url(#w137)"/><path d="M1104.7 980.9L1554 719L1567 742Z" fill="url(#w138)"/><path d="M1104.7 980.9L1564 738L1576 761Z" fill="url(#w139)"/><path d="M1104.7 980.9L1574 758L1585 781Z" fill="url(#w140)"/><path d="M1104.7 980.9L1583 777L1593 802Z" fill="url(#w141)"/><path d="M1104.7 980.9L1591 798L1600 822Z" fill="url(#w142)"/><path d="M1104.7 980.9L1599 818L1606 843Z" fill="url(#w143)"/><path d="M1104.7 980.9L1605 839L1611 864Z" fill="url(#w144)"/><path d="M1104.7 980.9L1610 860L1616 886Z" fill="url(#w145)"/><path d="M1104.7 980.9L1615 881L1619 907Z" fill="url(#w146)"/><path d="M1104.7 980.9L1619 903L1622 929Z" fill="url(#w147)"/><path d="M1104.7 980.9L1622 924L1624 950Z" fill="url(#w148)"/><path d="M1104.7 980.9L1624 946L1625 972Z" fill="url(#w149)"/></g>
<path d="M1002.0 1154.3 L1001.9 1154.3 L1001.8 1154.4 L1001.6 1154.4 L1001.4 1154.4 L1001.2 1154.4 L1000.9 1154.4 L1000.5 1154.4 L1000.0 1154.3 L999.2 1153.9 L998.1 1153.3 L996.7 1152.4 L994.8 1151.2 L992.3 1149.6 L989.0 1147.5 L984.8 1144.8 L979.7 1141.1 L973.4 1135.6 L964.9 1126.1 L962.0 1122.2 L958.8 1117.7 L955.4 1112.4 L951.7 1106.5 L947.8 1099.6 L943.6 1091.8 L939.1 1082.9 L934.2 1073.0 L929.1 1061.9 L923.9 1049.6 L918.7 1036.0 L913.5 1021.0 L908.4 1004.8 L903.2 987.3 L898.2 968.8 L893.4 949.4 L889.0 929.4 L885.1 909.2 L881.7 888.9 L879.1 868.8 L877.1 849.3 L876.0 830.4 L875.8 812.4 L876.5 795.2 L878.2 779.2 L880.9 764.5 L884.7 751.3 L889.5 739.8 L895.3 730.1 L901.8 722.4 L909.1 716.8 L916.9 713.0 L925.2 711.0 L933.8 710.6 L942.6 711.4 L951.6 713.2 L960.6 715.7 L969.7 718.7 L978.7 722.1 L987.6 725.7 L996.3 729.4 L1004.8 733.3 L1013.2 737.3 L1021.4 741.5 L1029.6 745.8 L1037.7 750.2 L1045.8 754.8 L1053.9 759.6 L1061.9 764.4 L1069.9 769.3 L1077.9 774.4 L1085.9 779.5 L1093.8 784.7 L1101.7 790.0 L1109.7 795.3 L1117.6 800.7 L1125.5 806.2 L1133.5 811.7 L1141.5 817.2 L1149.4 822.8 L1175.8 841.4 L1202.0 860.1 L1227.7 878.6 L1252.7 896.6 L1276.6 913.8 L1299.2 930.0 L1319.7 944.8 L1337.5 957.6 L1353.2 968.9 L1366.3 978.2 L1376.8 985.9 L1385.3 992.0 L1392.0 996.8 L1397.5 1000.7 L1402.0 1004.0 L1405.7 1006.7 L1408.6 1008.7 L1410.9 1010.3 L1412.6 1011.6 L1413.8 1012.5 L1414.8 1013.2 L1415.5 1013.7 L1416.0 1014.1 L1416.4 1014.3 L1416.6 1014.5 L1416.8 1014.6 L1417.0 1014.8 L1417.3 1015.0Z" fill="none" stroke="#3a3aff" stroke-width="1"/>
<path d="M984.1 1124.9 L1095.3 835.9 L1347.2 980.4Z" fill="none" stroke="#000" stroke-width="1.5"/>
<g fill="#fff" stroke="#8e9296" stroke-width="1.3">
<circle cx="1107.0" cy="901.9" r="5.15"/><circle cx="1099.5" cy="908.8" r="5.15"/><circle cx="1120.8" cy="906.9" r="5.15"/><circle cx="1126.4" cy="911.9" r="5.15"/><circle cx="1125.8" cy="921.9" r="5.15"/><circle cx="1093.9" cy="921.3" r="5.15"/><circle cx="1097.6" cy="920.7" r="5.15"/><circle cx="1090.1" cy="927.5" r="5.15"/><circle cx="1108.3" cy="930.0" r="5.15"/><circle cx="1120.2" cy="930.0" r="5.15"/><circle cx="1076.4" cy="935.7" r="5.15"/><circle cx="1086.4" cy="933.8" r="5.15"/><circle cx="1065.1" cy="935.1" r="5.15"/><circle cx="1105.1" cy="937.6" r="5.15"/><circle cx="1113.9" cy="937.6" r="5.15"/><circle cx="1120.2" cy="941.3" r="5.15"/><circle cx="1062.6" cy="945.1" r="5.15"/><circle cx="1072.6" cy="946.3" r="5.15"/><circle cx="1085.1" cy="946.9" r="5.15"/><circle cx="1096.4" cy="945.1" r="5.15"/><circle cx="1103.9" cy="952.6" r="5.15"/><circle cx="1116.4" cy="953.8" r="5.15"/><circle cx="1050.1" cy="960.7" r="5.15"/><circle cx="1060.1" cy="962.6" r="5.15"/><circle cx="1070.1" cy="959.5" r="5.15"/><circle cx="1081.4" cy="959.5" r="5.15"/><circle cx="1091.4" cy="956.3" r="5.15"/><circle cx="1108.9" cy="967.6" r="5.15"/><circle cx="1061.3" cy="970.1" r="5.15"/><circle cx="1076.4" cy="966.3" r="5.15"/><circle cx="1067.6" cy="977.6" r="5.15"/><circle cx="1070.1" cy="983.9" r="5.15"/><circle cx="1120.2" cy="976.4" r="5.15"/><circle cx="1125.2" cy="975.1" r="5.15"/><circle cx="1107.6" cy="980.1" r="5.15"/><circle cx="1113.9" cy="986.4" r="5.15"/><circle cx="1100.1" cy="985.1" r="5.15"/><circle cx="1103.9" cy="993.9" r="5.15"/><circle cx="1088.9" cy="985.1" r="5.15"/><circle cx="1077.6" cy="990.1" r="5.15"/><circle cx="1083.9" cy="992.6" r="5.15"/><circle cx="1085.1" cy="1001.4" r="5.15"/><circle cx="1072.6" cy="1005.1" r="5.15"/><circle cx="1080.1" cy="1008.9" r="5.15"/><circle cx="1041.3" cy="982.6" r="5.15"/><circle cx="1045.1" cy="986.4" r="5.15"/><circle cx="1028.8" cy="991.4" r="5.15"/><circle cx="1030.1" cy="996.4" r="5.15"/><circle cx="1043.8" cy="998.9" r="5.15"/><circle cx="1040.1" cy="1005.1" r="5.15"/><circle cx="1028.8" cy="1007.6" r="5.15"/><circle cx="1060.1" cy="1012.6" r="5.15"/><circle cx="1048.8" cy="1017.7" r="5.15"/><circle cx="1036.3" cy="1023.3" r="5.15"/><circle cx="1070.1" cy="1017.7" r="5.15"/><circle cx="1085.1" cy="1017.7" r="5.15"/><circle cx="1096.4" cy="1015.2" r="5.15"/><circle cx="1075.1" cy="1025.2" r="5.15"/><circle cx="1092.6" cy="1027.7" r="5.15"/><circle cx="1065.1" cy="1032.7" r="5.15"/><circle cx="1083.9" cy="1032.7" r="5.15"/><circle cx="1126.4" cy="1007.6" r="5.15"/><circle cx="1021.3" cy="1030.8" r="5.15"/><circle cx="1023.8" cy="1042.1" r="5.15"/><circle cx="1003.8" cy="1047.7" r="5.15"/><circle cx="1008.8" cy="1050.2" r="5.15"/><circle cx="1005.0" cy="1054.0" r="5.15"/><circle cx="1016.3" cy="1056.5" r="5.15"/><circle cx="1030.1" cy="1046.4" r="5.15"/><circle cx="1041.3" cy="1051.5" r="5.15"/><circle cx="1040.1" cy="1056.5" r="5.15"/><circle cx="1052.6" cy="1052.7" r="5.15"/><circle cx="1060.1" cy="1052.7" r="5.15"/><circle cx="1066.3" cy="1055.8" r="5.15"/><circle cx="1022.5" cy="1065.2" r="5.15"/><circle cx="1031.3" cy="1067.7" r="5.15"/><circle cx="1012.5" cy="1071.5" r="5.15"/><circle cx="1035.1" cy="1071.5" r="5.15"/><circle cx="1048.8" cy="1065.2" r="5.15"/><circle cx="1045.1" cy="1077.7" r="5.15"/><circle cx="1027.5" cy="1074.0" r="5.15"/><circle cx="1118.9" cy="1049.0" r="5.15"/><circle cx="1126.4" cy="1055.2" r="5.15"/><circle cx="1102.6" cy="1055.2" r="5.15"/><circle cx="1122.6" cy="906.4" r="5.15"/><circle cx="1127.9" cy="908.3" r="5.15"/><circle cx="1129.2" cy="923.5" r="5.15"/><circle cx="1121.3" cy="928.8" r="5.15"/><circle cx="1121.3" cy="940.6" r="5.15"/><circle cx="1151.0" cy="928.8" r="5.15"/><circle cx="1180.6" cy="930.7" r="5.15"/><circle cx="1172.7" cy="947.9" r="5.15"/><circle cx="1201.7" cy="916.2" r="5.15"/><circle cx="1209.6" cy="912.3" r="5.15"/><circle cx="1216.2" cy="912.3" r="5.15"/><circle cx="1222.8" cy="909.7" r="5.15"/><circle cx="1242.6" cy="933.4" r="5.15"/><circle cx="1256.4" cy="930.7" r="5.15"/><circle cx="1249.2" cy="943.3" r="5.15"/><circle cx="1241.9" cy="946.6" r="5.15"/><circle cx="1255.8" cy="941.9" r="5.15"/><circle cx="1257.1" cy="951.8" r="5.15"/><circle cx="1230.1" cy="953.2" r="5.15"/><circle cx="1227.4" cy="964.4" r="5.15"/><circle cx="1143.1" cy="965.7" r="5.15"/><circle cx="1152.3" cy="962.4" r="5.15"/><circle cx="1153.0" cy="955.8" r="5.15"/><circle cx="1158.9" cy="960.4" r="5.15"/><circle cx="1160.9" cy="968.3" r="5.15"/><circle cx="1170.1" cy="974.9" r="5.15"/><circle cx="1174.7" cy="982.1" r="5.15"/><circle cx="1165.5" cy="983.5" r="5.15"/><circle cx="1124.6" cy="975.6" r="5.15"/><circle cx="1137.8" cy="981.5" r="5.15"/><circle cx="1133.8" cy="992.7" r="5.15"/><circle cx="1149.7" cy="993.4" r="5.15"/><circle cx="1127.2" cy="1007.9" r="5.15"/><circle cx="1166.8" cy="1007.2" r="5.15"/><circle cx="1175.4" cy="1005.2" r="5.15"/><circle cx="1174.0" cy="1010.5" r="5.15"/><circle cx="1182.0" cy="1017.1" r="5.15"/><circle cx="1193.2" cy="1019.7" r="5.15"/><circle cx="1187.2" cy="1025.0" r="5.15"/><circle cx="1168.1" cy="1032.9" r="5.15"/><circle cx="1173.4" cy="1039.5" r="5.15"/><circle cx="1127.9" cy="1055.3" r="5.15"/><circle cx="1163.5" cy="1054.0" r="5.15"/><circle cx="1159.5" cy="1064.5" r="5.15"/><circle cx="1121.3" cy="1048.7" r="5.15"/><circle cx="1187.2" cy="986.8" r="5.15"/><circle cx="1191.8" cy="985.4" r="5.15"/><circle cx="1199.1" cy="978.9" r="5.15"/><circle cx="1205.7" cy="977.5" r="5.15"/><circle cx="1213.6" cy="974.9" r="5.15"/><circle cx="1220.2" cy="980.2" r="5.15"/><circle cx="1226.8" cy="974.9" r="5.15"/><circle cx="1235.3" cy="976.9" r="5.15"/><circle cx="1233.4" cy="986.8" r="5.15"/><circle cx="1210.9" cy="986.8" r="5.15"/><circle cx="1220.2" cy="990.1" r="5.15"/><circle cx="1191.2" cy="998.0" r="5.15"/><circle cx="1203.0" cy="996.0" r="5.15"/><circle cx="1212.3" cy="994.7" r="5.15"/><circle cx="1222.8" cy="998.6" r="5.15"/><circle cx="1228.1" cy="997.3" r="5.15"/><circle cx="1232.0" cy="1002.6" r="5.15"/><circle cx="1207.0" cy="999.9" r="5.15"/><circle cx="1251.8" cy="972.3" r="5.15"/><circle cx="1258.4" cy="974.2" r="5.15"/><circle cx="1058.0" cy="950.0" r="5.15"/><circle cx="1054.0" cy="975.0" r="5.15"/><circle cx="1047.0" cy="968.0" r="5.15"/><circle cx="1064.0" cy="990.0" r="5.15"/><circle cx="1055.0" cy="1000.0" r="5.15"/><circle cx="1092.0" cy="1000.0" r="5.15"/><circle cx="1099.0" cy="965.0" r="5.15"/><circle cx="1112.0" cy="960.0" r="5.15"/><circle cx="1116.0" cy="915.0" r="5.15"/><circle cx="1100.0" cy="940.0" r="5.15"/><circle cx="1034.0" cy="1035.0" r="5.15"/><circle cx="1018.0" cy="1060.0" r="5.15"/><circle cx="1010.0" cy="1040.0" r="5.15"/><circle cx="1055.0" cy="1063.0" r="5.15"/><circle cx="1033.0" cy="1058.0" r="5.15"/><circle cx="1085.4" cy="1002.0" r="5.15"/><circle cx="1086.0" cy="1017.7" r="5.15"/><circle cx="1095.7" cy="1016.5" r="5.15"/><circle cx="1096.9" cy="1014.1" r="5.15"/><circle cx="1092.6" cy="1027.3" r="5.15"/><circle cx="1083.6" cy="1032.1" r="5.15"/><circle cx="1102.3" cy="1055.0" r="5.15"/><circle cx="1118.5" cy="1049.0" r="5.15"/><circle cx="1127.6" cy="1055.0" r="5.15"/><circle cx="1127.0" cy="1008.1" r="5.15"/><circle cx="1134.2" cy="994.2" r="5.15"/><circle cx="1149.8" cy="994.2" r="5.15"/><circle cx="1104.1" cy="996.6" r="5.15"/><circle cx="1113.7" cy="991.8" r="5.15"/><circle cx="1166.7" cy="1007.5" r="5.15"/><circle cx="1166.7" cy="1033.3" r="5.15"/><circle cx="1163.7" cy="1053.8" r="5.15"/><circle cx="1159.5" cy="1064.7" r="5.15"/><circle cx="1106.9" cy="902.4" r="5.15"/><circle cx="1108.2" cy="900.7" r="5.15"/><circle cx="1098.9" cy="908.7" r="5.15"/><circle cx="1102.9" cy="911.4" r="5.15"/><circle cx="1120.9" cy="906.7" r="5.15"/><circle cx="1128.3" cy="908.1" r="5.15"/><circle cx="1129.0" cy="912.1" r="5.15"/><circle cx="1123.3" cy="920.1" r="5.15"/><circle cx="1129.6" cy="923.4" r="5.15"/><circle cx="1092.2" cy="921.4" r="5.15"/><circle cx="1097.5" cy="920.8" r="5.15"/><circle cx="1090.8" cy="927.5" r="5.15"/><circle cx="1102.9" cy="930.1" r="5.15"/><circle cx="1107.6" cy="930.8" r="5.15"/><circle cx="1120.3" cy="930.1" r="5.15"/><circle cx="1086.8" cy="934.1" r="5.15"/><circle cx="1076.1" cy="935.5" r="5.15"/><circle cx="1068.1" cy="938.2" r="5.15"/><circle cx="1062.1" cy="936.2" r="5.15"/><circle cx="1104.9" cy="937.5" r="5.15"/><circle cx="1114.2" cy="936.8" r="5.15"/><circle cx="1119.6" cy="942.2" r="5.15"/><circle cx="1062.1" cy="944.8" r="5.15"/><circle cx="1073.4" cy="946.2" r="5.15"/><circle cx="1085.5" cy="946.9" r="5.15"/><circle cx="1096.2" cy="944.8" r="5.15"/><circle cx="1066.8" cy="948.9" r="5.15"/><circle cx="1104.9" cy="952.2" r="5.15"/><circle cx="1113.6" cy="948.9" r="5.15"/><circle cx="1116.3" cy="954.2" r="5.15"/><circle cx="1064.7" cy="952.9" r="5.15"/><circle cx="1070.8" cy="959.6" r="5.15"/><circle cx="1081.5" cy="959.6" r="5.15"/><circle cx="1088.2" cy="958.9" r="5.15"/><circle cx="1100.2" cy="956.9" r="5.15"/><circle cx="1050.7" cy="960.9" r="5.15"/><circle cx="1060.1" cy="960.9" r="5.15"/><circle cx="1076.8" cy="967.6" r="5.15"/><circle cx="1060.7" cy="970.3" r="5.15"/><circle cx="1109.6" cy="967.6" r="5.15"/><circle cx="1120.3" cy="975.6" r="5.15"/><circle cx="1124.9" cy="974.9" r="5.15"/><circle cx="1108.9" cy="979.6" r="5.15"/><circle cx="1101.5" cy="977.0" r="5.15"/><circle cx="1065.4" cy="977.0" r="5.15"/><circle cx="1070.8" cy="982.3" r="5.15"/><circle cx="1086.8" cy="983.6" r="5.15"/><circle cx="1098.9" cy="985.0" r="5.15"/><circle cx="1113.6" cy="986.3" r="5.15"/><circle cx="1137.0" cy="981.6" r="5.15"/><circle cx="1044.7" cy="985.0" r="5.15"/><circle cx="1139.0" cy="964.9" r="5.15"/><circle cx="1040.8" cy="982.0" r="5.15"/><circle cx="1045.5" cy="986.0" r="5.15"/><circle cx="1029.5" cy="992.7" r="5.15"/><circle cx="1031.5" cy="997.4" r="5.15"/><circle cx="1044.2" cy="999.4" r="5.15"/><circle cx="1040.8" cy="1004.1" r="5.15"/><circle cx="1029.5" cy="1008.1" r="5.15"/><circle cx="1042.2" cy="1009.4" r="5.15"/><circle cx="1048.9" cy="1004.7" r="5.15"/><circle cx="1059.6" cy="1012.8" r="5.15"/><circle cx="1050.2" cy="1017.5" r="5.15"/><circle cx="1043.5" cy="1020.8" r="5.15"/><circle cx="1036.8" cy="1023.5" r="5.15"/><circle cx="1060.9" cy="998.7" r="5.15"/><circle cx="1070.3" cy="984.7" r="5.15"/><circle cx="1079.0" cy="989.4" r="5.15"/><circle cx="1085.0" cy="992.7" r="5.15"/><circle cx="1072.3" cy="1005.4" r="5.15"/><circle cx="1079.0" cy="996.1" r="5.15"/><circle cx="1084.3" cy="1001.4" r="5.15"/><circle cx="1080.3" cy="1008.8" r="5.15"/><circle cx="1070.9" cy="1017.5" r="5.15"/><circle cx="1085.7" cy="1017.5" r="5.15"/><circle cx="1076.3" cy="1026.2" r="5.15"/><circle cx="1064.2" cy="1032.8" r="5.15"/><circle cx="1083.6" cy="1032.2" r="5.15"/><circle cx="1089.0" cy="1026.8" r="5.15"/><circle cx="1021.4" cy="1030.8" r="5.15"/><circle cx="1024.1" cy="1040.9" r="5.15"/><circle cx="1029.5" cy="1047.6" r="5.15"/><circle cx="1003.4" cy="1046.9" r="5.15"/><circle cx="1008.7" cy="1048.9" r="5.15"/><circle cx="1004.0" cy="1054.9" r="5.15"/><circle cx="1015.4" cy="1056.3" r="5.15"/><circle cx="1041.5" cy="1050.2" r="5.15"/><circle cx="1040.2" cy="1056.3" r="5.15"/><circle cx="1052.9" cy="1052.2" r="5.15"/><circle cx="1060.9" cy="1052.9" r="5.15"/><circle cx="1066.9" cy="1055.6" r="5.15"/><circle cx="1022.1" cy="1064.3" r="5.15"/><circle cx="1030.1" cy="1064.3" r="5.15"/><circle cx="1034.1" cy="1068.3" r="5.15"/><circle cx="1028.8" cy="1071.6" r="5.15"/><circle cx="1048.9" cy="1065.6" r="5.15"/><circle cx="1012.1" cy="1071.6" r="5.15"/><circle cx="1023.4" cy="1076.3" r="5.15"/><circle cx="1035.5" cy="1073.6" r="5.15"/><circle cx="1044.8" cy="1079.0" r="5.15"/><circle cx="1173.1" cy="948.4" r="5.15"/><circle cx="1153.4" cy="955.9" r="5.15"/><circle cx="1144.0" cy="961.5" r="5.15"/><circle cx="1143.1" cy="966.2" r="5.15"/><circle cx="1152.5" cy="962.5" r="5.15"/><circle cx="1160.0" cy="960.6" r="5.15"/><circle cx="1160.9" cy="969.0" r="5.15"/><circle cx="1171.2" cy="975.6" r="5.15"/><circle cx="1174.9" cy="982.1" r="5.15"/><circle cx="1165.6" cy="984.0" r="5.15"/><circle cx="1138.0" cy="982.1" r="5.15"/><circle cx="1133.7" cy="993.4" r="5.15"/><circle cx="1150.1" cy="994.3" r="5.15"/><circle cx="1130.9" cy="1008.4" r="5.15"/><circle cx="1167.5" cy="1008.4" r="5.15"/><circle cx="1175.9" cy="1004.6" r="5.15"/><circle cx="1174.0" cy="1010.2" r="5.15"/><circle cx="1181.5" cy="1017.7" r="5.15"/><circle cx="1193.7" cy="1020.5" r="5.15"/><circle cx="1187.1" cy="1026.1" r="5.15"/><circle cx="1167.5" cy="1033.6" r="5.15"/><circle cx="1173.5" cy="1040.2" r="5.15"/><circle cx="1163.7" cy="1054.2" r="5.15"/><circle cx="1159.0" cy="1064.5" r="5.15"/><circle cx="1130.9" cy="1055.2" r="5.15"/><circle cx="1191.8" cy="985.9" r="5.15"/><circle cx="1187.1" cy="988.7" r="5.15"/><circle cx="1199.3" cy="979.3" r="5.15"/><circle cx="1209.6" cy="977.5" r="5.15"/><circle cx="1213.3" cy="973.7" r="5.15"/><circle cx="1219.9" cy="979.3" r="5.15"/><circle cx="1226.4" cy="974.6" r="5.15"/><circle cx="1235.3" cy="976.5" r="5.15"/><circle cx="1233.9" cy="986.8" r="5.15"/><circle cx="1210.5" cy="986.8" r="5.15"/><circle cx="1220.8" cy="990.6" r="5.15"/><circle cx="1190.9" cy="998.1" r="5.15"/><circle cx="1204.0" cy="996.2" r="5.15"/><circle cx="1207.7" cy="999.9" r="5.15"/><circle cx="1215.2" cy="998.1" r="5.15"/><circle cx="1222.7" cy="999.9" r="5.15"/><circle cx="1229.3" cy="997.1" r="5.15"/><circle cx="1232.1" cy="1002.7" r="5.15"/><circle cx="1230.2" cy="953.1" r="5.15"/><circle cx="1228.3" cy="964.3" r="5.15"/><circle cx="1242.4" cy="946.6" r="5.15"/><circle cx="1250.8" cy="942.8" r="5.15"/><circle cx="1255.5" cy="942.8" r="5.15"/><circle cx="1254.5" cy="949.4" r="5.15"/><circle cx="1257.8" cy="952.6" r="5.15"/><circle cx="1251.3" cy="972.3" r="5.15"/><circle cx="1258.3" cy="974.2" r="5.15"/>
</g>
<path fill="#000" d="M1096.4 959.0L1098.7 965.1L1105.1 965.4L1100.1 969.4L1101.8 975.6L1096.4 972.1L1091.0 975.6L1092.7 969.4L1087.7 965.4L1094.1 965.1ZM1081.4 965.9L1083.7 972.0L1090.1 972.3L1085.1 976.3L1086.8 982.5L1081.4 979.0L1076.0 982.5L1077.7 976.3L1072.7 972.3L1079.1 972.0ZM1088.9 963.4L1091.2 969.5L1097.6 969.8L1092.6 973.8L1094.3 980.0L1088.9 976.5L1083.5 980.0L1085.2 973.8L1080.2 969.8L1086.6 969.5ZM1058.8 993.4L1061.1 999.5L1067.5 999.8L1062.5 1003.8L1064.2 1010.0L1058.8 1006.5L1053.4 1010.0L1055.1 1003.8L1050.1 999.8L1056.5 999.5ZM1030.1 1022.2L1032.4 1028.3L1038.8 1028.6L1033.8 1032.6L1035.5 1038.8L1030.1 1035.3L1024.7 1038.8L1026.4 1032.6L1021.4 1028.6L1027.8 1028.3ZM1022.5 1042.3L1024.8 1048.4L1031.2 1048.7L1026.2 1052.7L1027.9 1058.9L1022.5 1055.4L1017.1 1058.9L1018.8 1052.7L1013.8 1048.7L1020.2 1048.4ZM1098.9 1029.7L1101.2 1035.8L1107.6 1036.1L1102.6 1040.1L1104.3 1046.3L1098.9 1042.8L1093.5 1046.3L1095.2 1040.1L1090.2 1036.1L1096.6 1035.8ZM1096.4 1039.8L1098.7 1045.9L1105.1 1046.2L1100.1 1050.2L1101.8 1056.4L1096.4 1052.9L1091.0 1056.4L1092.7 1050.2L1087.7 1046.2L1094.1 1045.9ZM1212.3 925.5L1214.6 931.6L1221.0 931.9L1216.0 935.9L1217.7 942.1L1212.3 938.6L1206.9 942.1L1208.6 935.9L1203.6 931.9L1210.0 931.6ZM1203.7 950.5L1206.0 956.6L1212.4 956.9L1207.4 960.9L1209.1 967.1L1203.7 963.6L1198.3 967.1L1200.0 960.9L1195.0 956.9L1201.4 956.6Z"/>
<circle cx="1074.4" cy="709.4" r="5.6" fill="#fff" stroke="#9a9a9a" stroke-width="1.3"/>
<path fill="#000" d="M1074.4 736.8L1076.6 742.7L1083.0 743.0L1078.0 747.0L1079.7 753.1L1074.4 749.6L1069.1 753.1L1070.8 747.0L1065.8 743.0L1072.2 742.7Z"/>
<g font-family="Liberation Sans, sans-serif" font-size="28.2" fill="#000"><text x="1087.4" y="715.6">laser-coloring hybrid films</text><text x="1089.3" y="752.2">pristine TiAlN-TiN films</text></g>
<rect x="873.0" y="675.3" width="592.7" height="481.7" fill="none" stroke="#000" stroke-width="3.2"/>
<path d="M873.0 1157.0V1165.5M947.1 1157.0V1161.5M1021.2 1157.0V1165.5M1095.3 1157.0V1161.5M1169.3 1157.0V1165.5M1243.4 1157.0V1161.5M1317.5 1157.0V1165.5M1391.6 1157.0V1161.5M1465.7 1157.0V1165.5M873.0 1157.0H864.5M873.0 1103.5H868.5M873.0 1050.0H864.5M873.0 996.4H868.5M873.0 942.9H864.5M873.0 889.4H868.5M873.0 835.9H864.5M873.0 782.3H868.5M873.0 728.8H864.5M873.0 675.3H868.5" stroke="#000" stroke-width="3" fill="none"/>
<g font-family="Liberation Sans, sans-serif" font-size="32.5" fill="#000">
<text x="869.4" y="1201.7" text-anchor="middle">0.0</text>
<text x="855.3" y="1169.4" text-anchor="end">0.0</text>
<text x="1021.0" y="1201.7" text-anchor="middle">0.2</text>
<text x="855.3" y="1060.3" text-anchor="end">0.2</text>
<text x="1172.6" y="1201.7" text-anchor="middle">0.4</text>
<text x="855.3" y="951.2" text-anchor="end">0.4</text>
<text x="1324.2" y="1201.7" text-anchor="middle">0.6</text>
<text x="855.3" y="842.1" text-anchor="end">0.6</text>
<text x="1475.8" y="1201.7" text-anchor="middle">0.8</text>
<text x="855.3" y="733.0" text-anchor="end">0.8</text>
<text x="1173" y="1237.7" text-anchor="middle">x</text>
<text transform="translate(791.2 909.5) rotate(-90)" text-anchor="middle">y</text>
</g>
<text x="781.5" y="705.6" font-family="Liberation Sans, sans-serif" font-size="40" font-weight="bold" fill="#000">e</text>
<defs>
<filter id="blur2" x="-20%" y="-20%" width="140%" height="140%"><feGaussianBlur stdDeviation="2"/></filter>
<filter id="blur4" x="-30%" y="-30%" width="160%" height="160%"><feGaussianBlur stdDeviation="4"/></filter>
<filter id="blur8" x="-50%" y="-50%" width="200%" height="200%"><feGaussianBlur stdDeviation="8"/></filter>
<linearGradient id="pbg" x1="0" y1="0" x2="0" y2="1"><stop offset="0" stop-color="#231d18"/><stop offset="0.6" stop-color="#241e18"/><stop offset="1" stop-color="#1e1916"/></linearGradient>
<linearGradient id="wafer" x1="0" y1="0" x2="0" y2="1"><stop offset="0" stop-color="#7fb3c7"/><stop offset="0.45" stop-color="#93c5d2"/><stop offset="0.76" stop-color="#9ccad6"/><stop offset="0.80" stop-color="#80b2c0"/><stop offset="0.855" stop-color="#3a6470"/><stop offset="0.91" stop-color="#142228"/><stop offset="1" stop-color="#0c0f10"/></linearGradient>
<linearGradient id="sq" x1="0" y1="0" x2="0" y2="1"><stop offset="0" stop-color="#9c88b2"/><stop offset="1" stop-color="#b09ec6"/></linearGradient>
<linearGradient id="sq2" x1="0" y1="0" x2="0" y2="1"><stop offset="0" stop-color="#9a8098"/><stop offset="1" stop-color="#a4849c"/></linearGradient>
<linearGradient id="wafer2" x1="0" y1="0" x2="0" y2="1"><stop offset="0" stop-color="#78a6c2"/><stop offset="0.5" stop-color="#86b2ca"/><stop offset="0.74" stop-color="#8cb8cc"/><stop offset="0.80" stop-color="#6a98aa"/><stop offset="0.86" stop-color="#2e5060"/><stop offset="0.92" stop-color="#101c22"/><stop offset="1" stop-color="#0a0c0d"/></linearGradient>
<linearGradient id="sq3" x1="0" y1="0" x2="0" y2="1"><stop offset="0" stop-color="#a87c98"/><stop offset="1" stop-color="#a87894"/></linearGradient>
<linearGradient id="ring" x1="0" y1="0" x2="1" y2="0"><stop offset="0" stop-color="#3c3632"/><stop offset="0.3" stop-color="#5a534e"/><stop offset="0.6" stop-color="#4e4843"/><stop offset="1" stop-color="#2c2724"/></linearGradient>
<linearGradient id="body" x1="0" y1="0" x2="1" y2="0"><stop offset="0" stop-color="#1c1816"/><stop offset="0.25" stop-color="#35302c"/><stop offset="0.55" stop-color="#3a3430"/><stop offset="0.85" stop-color="#221e1b"/><stop offset="1" stop-color="#151210"/></linearGradient>
<linearGradient id="knob" x1="0" y1="0" x2="0" y2="1"><stop offset="0" stop-color="#6a625a"/><stop offset="0.4" stop-color="#a8a098"/><stop offset="1" stop-color="#5a524c"/></linearGradient>
</defs>
<clipPath id="cpf"><rect x="13.4" y="1272.5" width="263.5" height="246"/></clipPath>
<g clip-path="url(#cpf)">
<rect x="13.4" y="1272.5" width="263.5" height="246" fill="url(#pbg)"/>
<rect x="15.5" y="1436" width="242" height="82" fill="url(#body)"/>
<path d="M15.5 1436.0L16.5 1439.0L19.6 1442.0L24.7 1444.8L31.7 1447.5L40.5 1450.0L50.9 1452.3L62.8 1454.2L76.0 1455.9L90.2 1457.2L105.2 1458.2L120.7 1458.8L136.5 1459.0L152.3 1458.8L167.8 1458.2L182.8 1457.2L197.0 1455.9L210.2 1454.2L222.1 1452.3L232.5 1450.0L241.3 1447.5L248.3 1444.8L253.4 1442.0L256.5 1439.0L257.5 1436.0L257.5 1464.0L256.5 1467.4L253.4 1470.7L248.3 1473.9L241.3 1477.0L232.5 1479.8L222.1 1482.4L210.2 1484.6L197.0 1486.5L182.8 1488.0L167.8 1489.1L152.3 1489.8L136.5 1490.0L120.7 1489.8L105.2 1489.1L90.2 1488.0L76.0 1486.5L62.8 1484.6L50.9 1482.4L40.5 1479.8L31.7 1477.0L24.7 1473.9L19.6 1470.7L16.5 1467.4L15.5 1464.0Z" fill="url(#ring)"/>
<path d="M17.0 1467.1V1463.1M17.5 1467.7V1463.7M18.1 1468.4V1464.4M18.8 1469.1V1465.1M19.6 1469.7V1462.7M20.5 1470.4V1466.4M21.4 1471.0V1467.0M22.4 1471.7V1467.7M23.5 1472.3V1468.3M24.7 1472.9V1465.9M26.0 1473.6V1469.6M27.3 1474.2V1470.2M28.7 1474.8V1470.8M30.2 1475.4V1471.4M31.7 1476.0V1469.0M33.3 1476.6V1472.6M35.0 1477.2V1473.2M36.8 1477.7V1473.7M38.6 1478.3V1474.3M40.5 1478.8V1471.8M42.5 1479.4V1475.4M44.5 1479.9V1475.9M46.6 1480.4V1476.4M48.7 1480.9V1476.9M50.9 1481.4V1474.4M53.2 1481.9V1477.9M55.5 1482.3V1478.3M57.9 1482.8V1478.8M60.4 1483.2V1479.2M62.8 1483.6V1476.6M65.4 1484.0V1480.0M68.0 1484.4V1480.4M70.6 1484.8V1480.8M73.3 1485.2V1481.2M76.0 1485.5V1478.5M78.8 1485.8V1481.8M81.6 1486.2V1482.2M84.4 1486.5V1482.5M87.3 1486.8V1482.8M90.2 1487.0V1480.0M93.1 1487.3V1483.3M96.1 1487.5V1483.5M99.1 1487.7V1483.7M102.1 1487.9V1483.9M105.2 1488.1V1481.1M108.3 1488.3V1484.3M111.3 1488.4V1484.4M114.4 1488.6V1484.6M117.6 1488.7V1484.7M120.7 1488.8V1481.8M123.9 1488.9V1484.9M127.0 1488.9V1484.9M130.2 1489.0V1485.0M133.3 1489.0V1485.0M136.5 1489.0V1482.0M139.7 1489.0V1485.0M142.8 1489.0V1485.0M146.0 1488.9V1484.9M149.1 1488.9V1484.9M152.3 1488.8V1481.8M155.4 1488.7V1484.7M158.6 1488.6V1484.6M161.7 1488.4V1484.4M164.7 1488.3V1484.3M167.8 1488.1V1481.1M170.9 1487.9V1483.9M173.9 1487.7V1483.7M176.9 1487.5V1483.5M179.9 1487.3V1483.3M182.8 1487.0V1480.0M185.7 1486.8V1482.8M188.6 1486.5V1482.5M191.4 1486.2V1482.2M194.2 1485.8V1481.8M197.0 1485.5V1478.5M199.7 1485.2V1481.2M202.4 1484.8V1480.8M205.0 1484.4V1480.4M207.6 1484.0V1480.0M210.2 1483.6V1476.6M212.6 1483.2V1479.2M215.1 1482.8V1478.8M217.5 1482.3V1478.3M219.8 1481.9V1477.9M222.1 1481.4V1474.4M224.3 1480.9V1476.9M226.4 1480.4V1476.4M228.5 1479.9V1475.9M230.5 1479.4V1475.4M232.5 1478.8V1471.8M234.4 1478.3V1474.3M236.2 1477.7V1473.7M238.0 1477.2V1473.2M239.7 1476.6V1472.6M241.3 1476.0V1469.0M242.8 1475.4V1471.4M244.3 1474.8V1470.8M245.7 1474.2V1470.2M247.0 1473.6V1469.6M248.3 1472.9V1465.9M249.5 1472.3V1468.3M250.6 1471.7V1467.7M251.6 1471.0V1467.0M252.5 1470.4V1466.4M253.4 1469.7V1462.7M254.2 1469.1V1465.1M254.9 1468.4V1464.4M255.5 1467.7V1463.7M256.0 1467.1V1463.1" stroke="#9a928a" stroke-width="0.9" opacity="0.8"/>
<text x="23.3" y="1456.0" font-family="Liberation Sans, sans-serif" font-size="11" font-weight="bold" fill="#b4aca4" text-anchor="middle" opacity="0.85">340</text>
<text x="37.0" y="1463.9" font-family="Liberation Sans, sans-serif" font-size="11" font-weight="bold" fill="#b4aca4" text-anchor="middle" opacity="0.85">0</text>
<text x="70.6" y="1471.6" font-family="Liberation Sans, sans-serif" font-size="11" font-weight="bold" fill="#b4aca4" text-anchor="middle" opacity="0.85">20</text>
<text x="106.7" y="1475.2" font-family="Liberation Sans, sans-serif" font-size="11" font-weight="bold" fill="#b4aca4" text-anchor="middle" opacity="0.85">40</text>
<text x="156.5" y="1475.7" font-family="Liberation Sans, sans-serif" font-size="11" font-weight="bold" fill="#b4aca4" text-anchor="middle" opacity="0.85">60</text>
<text x="202.4" y="1471.6" font-family="Liberation Sans, sans-serif" font-size="11" font-weight="bold" fill="#b4aca4" text-anchor="middle" opacity="0.85">80</text>
<text x="236.0" y="1463.9" font-family="Liberation Sans, sans-serif" font-size="11" font-weight="bold" fill="#b4aca4" text-anchor="middle" opacity="0.85">100</text>
<ellipse cx="136.5" cy="1436" rx="121" ry="23" fill="#0f0c0b"/>
<ellipse cx="40" cy="1432" rx="7" ry="2.5" fill="#0c0a09"/>
<ellipse cx="60" cy="1428" rx="7" ry="2.5" fill="#0c0a09"/>
<ellipse cx="225" cy="1430" rx="7" ry="2.5" fill="#0c0a09"/>
<ellipse cx="245" cy="1434" rx="7" ry="2.5" fill="#0c0a09"/>
<ellipse cx="200" cy="1425" rx="7" ry="2.5" fill="#0c0a09"/>
<ellipse cx="169.2" cy="1362.4" rx="75.9" ry="75.9" fill="url(#wafer)" transform="rotate(0 169.2 1362.4)"/>
<path d="M126.5 1313.3L218.8 1311.5L219.8 1400.8L127.6 1402.7Z" fill="url(#sq)" stroke="#c88a9c" stroke-width="0.8" stroke-opacity="0.7"/>
<ellipse cx="169.2" cy="1434.505" rx="79.69500000000001" ry="16.698" fill="#0a0908" filter="url(#blur8)" opacity="0.9" transform="rotate(0 169.2 1362.4)"/>
<rect x="59" y="1374" width="67.4" height="74" rx="6" fill="#0a0a0a" opacity="0.5" filter="url(#blur2)"/>
<rect x="62" y="1376" width="60.400000000000006" height="68" rx="4" fill="#181412" stroke="#3c3632" stroke-width="1.5"/>
<rect x="69" y="1393.3" width="49.3" height="24.299999999999955" fill="#080706"/>
<circle cx="76.5" cy="1425.1" r="6" fill="#6a645e" stroke="#2a2522" stroke-width="1.2"/><circle cx="76.5" cy="1425.1" r="3.0" fill="#3a3430"/>
<circle cx="109.3" cy="1425.1" r="6" fill="#6a645e" stroke="#2a2522" stroke-width="1.2"/><circle cx="109.3" cy="1425.1" r="3.0" fill="#3a3430"/>
<g transform="translate(196 1500) rotate(11.3)"><rect x="-8" y="-4" width="12" height="8" fill="#2a2522"/><rect x="0" y="-8" width="40.8" height="16" fill="url(#knob)"/><ellipse cx="40.8" cy="0" rx="4.4" ry="8" fill="#c8c0b6"/></g>
<g fill="#fff"><text x="175.3" y="1441.2" font-family="Liberation Sans, sans-serif" font-size="32.8" text-anchor="middle">5 cm</text><path d="M102.7 1445.8H253.9V1449.4H102.7ZM101 1439.2H104.6V1455.1H101ZM252.2 1439.2H255.8V1455.1H252.2Z"/></g>
</g>
<text x="26.5" y="1309" font-family="Liberation Sans, sans-serif" font-size="40" font-weight="bold" fill="#fff">f</text>
<text x="275.0" y="1302.6" font-family="Liberation Sans, sans-serif" font-size="33" fill="#fff" text-anchor="end">0°</text>
<clipPath id="cpg"><rect x="312.1" y="1272.5" width="263.5" height="246"/></clipPath>
<g clip-path="url(#cpg)">
<rect x="312.1" y="1272.5" width="263.5" height="246" fill="url(#pbg)"/>
<rect x="318.4" y="1433" width="242" height="85" fill="url(#body)"/>
<path d="M318.4 1433.0L319.4 1435.9L322.5 1438.7L327.6 1441.4L334.6 1444.0L343.4 1446.4L353.8 1448.6L365.7 1450.5L378.9 1452.1L393.1 1453.3L408.1 1454.3L423.6 1454.8L439.4 1455.0L455.2 1454.8L470.7 1454.3L485.7 1453.3L499.9 1452.1L513.1 1450.5L525.0 1448.6L535.4 1446.4L544.2 1444.0L551.2 1441.4L556.3 1438.7L559.4 1435.9L560.4 1433.0L560.4 1466.0L559.4 1468.9L556.3 1471.7L551.2 1474.4L544.2 1477.0L535.4 1479.4L525.0 1481.6L513.1 1483.5L499.9 1485.1L485.7 1486.3L470.7 1487.3L455.2 1487.8L439.4 1488.0L423.6 1487.8L408.1 1487.3L393.1 1486.3L378.9 1485.1L365.7 1483.5L353.8 1481.6L343.4 1479.4L334.6 1477.0L327.6 1474.4L322.5 1471.7L319.4 1468.9L318.4 1466.0Z" fill="url(#ring)"/>
<path d="M319.9 1468.4V1464.4M320.4 1469.0V1465.0M321.0 1469.6V1465.6M321.7 1470.1V1466.1M322.5 1470.7V1463.7M323.4 1471.2V1467.2M324.3 1471.8V1467.8M325.3 1472.3V1468.3M326.4 1472.9V1468.9M327.6 1473.4V1466.4M328.9 1473.9V1469.9M330.2 1474.5V1470.5M331.6 1475.0V1471.0M333.1 1475.5V1471.5M334.6 1476.0V1469.0M336.2 1476.5V1472.5M337.9 1477.0V1473.0M339.7 1477.5V1473.5M341.5 1477.9V1473.9M343.4 1478.4V1471.4M345.4 1478.8V1474.8M347.4 1479.3V1475.3M349.5 1479.7V1475.7M351.6 1480.1V1476.1M353.8 1480.6V1473.6M356.1 1481.0V1477.0M358.4 1481.3V1477.3M360.8 1481.7V1477.7M363.3 1482.1V1478.1M365.7 1482.5V1475.5M368.3 1482.8V1478.8M370.9 1483.1V1479.1M373.5 1483.5V1479.5M376.2 1483.8V1479.8M378.9 1484.1V1477.1M381.7 1484.3V1480.3M384.5 1484.6V1480.6M387.3 1484.9V1480.9M390.2 1485.1V1481.1M393.1 1485.3V1478.3M396.0 1485.5V1481.5M399.0 1485.7V1481.7M402.0 1485.9V1481.9M405.0 1486.1V1482.1M408.1 1486.3V1479.3M411.2 1486.4V1482.4M414.2 1486.5V1482.5M417.3 1486.6V1482.6M420.5 1486.7V1482.7M423.6 1486.8V1479.8M426.8 1486.9V1482.9M429.9 1486.9V1482.9M433.1 1487.0V1483.0M436.2 1487.0V1483.0M439.4 1487.0V1480.0M442.6 1487.0V1483.0M445.7 1487.0V1483.0M448.9 1486.9V1482.9M452.0 1486.9V1482.9M455.2 1486.8V1479.8M458.3 1486.7V1482.7M461.5 1486.6V1482.6M464.6 1486.5V1482.5M467.6 1486.4V1482.4M470.7 1486.3V1479.3M473.8 1486.1V1482.1M476.8 1485.9V1481.9M479.8 1485.7V1481.7M482.8 1485.5V1481.5M485.7 1485.3V1478.3M488.6 1485.1V1481.1M491.5 1484.9V1480.9M494.3 1484.6V1480.6M497.1 1484.3V1480.3M499.9 1484.1V1477.1M502.6 1483.8V1479.8M505.3 1483.5V1479.5M507.9 1483.1V1479.1M510.5 1482.8V1478.8M513.1 1482.5V1475.5M515.5 1482.1V1478.1M518.0 1481.7V1477.7M520.4 1481.3V1477.3M522.7 1481.0V1477.0M525.0 1480.6V1473.6M527.2 1480.1V1476.1M529.3 1479.7V1475.7M531.4 1479.3V1475.3M533.4 1478.8V1474.8M535.4 1478.4V1471.4M537.3 1477.9V1473.9M539.1 1477.5V1473.5M540.9 1477.0V1473.0M542.6 1476.5V1472.5M544.2 1476.0V1469.0M545.7 1475.5V1471.5M547.2 1475.0V1471.0M548.6 1474.5V1470.5M549.9 1473.9V1469.9M551.2 1473.4V1466.4M552.4 1472.9V1468.9M553.5 1472.3V1468.3M554.5 1471.8V1467.8M555.4 1471.2V1467.2M556.3 1470.7V1463.7M557.1 1470.1V1466.1M557.8 1469.6V1465.6M558.4 1469.0V1465.0M558.9 1468.4V1464.4" stroke="#9a928a" stroke-width="0.9" opacity="0.8"/>
<text x="328.4" y="1456.6" font-family="Liberation Sans, sans-serif" font-size="11" font-weight="bold" fill="#b4aca4" text-anchor="middle" opacity="0.85">0</text>
<text x="341.9" y="1462.5" font-family="Liberation Sans, sans-serif" font-size="11" font-weight="bold" fill="#b4aca4" text-anchor="middle" opacity="0.85">20</text>
<text x="368.6" y="1468.2" font-family="Liberation Sans, sans-serif" font-size="11" font-weight="bold" fill="#b4aca4" text-anchor="middle" opacity="0.85">40</text>
<text x="409.6" y="1472.1" font-family="Liberation Sans, sans-serif" font-size="11" font-weight="bold" fill="#b4aca4" text-anchor="middle" opacity="0.85">60</text>
<text x="459.4" y="1472.5" font-family="Liberation Sans, sans-serif" font-size="11" font-weight="bold" fill="#b4aca4" text-anchor="middle" opacity="0.85">80</text>
<text x="500.3" y="1469.5" font-family="Liberation Sans, sans-serif" font-size="11" font-weight="bold" fill="#b4aca4" text-anchor="middle" opacity="0.85">100</text>
<text x="530.0" y="1464.4" font-family="Liberation Sans, sans-serif" font-size="11" font-weight="bold" fill="#b4aca4" text-anchor="middle" opacity="0.85">120</text>
<text x="548.7" y="1457.7" font-family="Liberation Sans, sans-serif" font-size="11" font-weight="bold" fill="#b4aca4" text-anchor="middle" opacity="0.85">140</text>
<ellipse cx="439.4" cy="1433" rx="121" ry="22" fill="#0f0c0b"/>
<ellipse cx="340" cy="1428" rx="7" ry="2.5" fill="#0c0a09"/>
<ellipse cx="365" cy="1424" rx="7" ry="2.5" fill="#0c0a09"/>
<ellipse cx="520" cy="1428" rx="7" ry="2.5" fill="#0c0a09"/>
<ellipse cx="545" cy="1434" rx="7" ry="2.5" fill="#0c0a09"/>
<ellipse cx="470.3" cy="1358" rx="71.6" ry="71.6" fill="url(#wafer)" transform="rotate(0 470.3 1358)"/>
<path d="M429.6 1310L517.6 1315.6L518.5 1406.4L430.9 1400.2Z" fill="url(#sq)" stroke="#c88a9c" stroke-width="0.8" stroke-opacity="0.7"/>
<ellipse cx="470.3" cy="1426.02" rx="75.17999999999999" ry="15.751999999999999" fill="#0a0908" filter="url(#blur8)" opacity="0.9" transform="rotate(0 470.3 1358)"/>
<rect x="362" y="1377.3" width="65" height="52.700000000000045" rx="6" fill="#0a0a0a" opacity="0.5" filter="url(#blur2)"/>
<rect x="365" y="1379.3" width="58" height="46.700000000000045" rx="4" fill="#181412" stroke="#3c3632" stroke-width="1.5"/>
<rect x="369.6" y="1387.7" width="46.299999999999955" height="24.299999999999955" fill="#080706"/>
<circle cx="378" cy="1418.6" r="5.5" fill="#6a645e" stroke="#2a2522" stroke-width="1.2"/><circle cx="378" cy="1418.6" r="2.75" fill="#3a3430"/>
<circle cx="408" cy="1418.6" r="5.5" fill="#6a645e" stroke="#2a2522" stroke-width="1.2"/><circle cx="408" cy="1418.6" r="2.75" fill="#3a3430"/>
<g transform="translate(502 1499) rotate(14.7)"><rect x="-8" y="-4" width="12" height="8" fill="#2a2522"/><rect x="0" y="-8" width="39.3" height="16" fill="url(#knob)"/><ellipse cx="39.3" cy="0" rx="4.4" ry="8" fill="#c8c0b6"/></g>

</g>
<text x="329" y="1309" font-family="Liberation Sans, sans-serif" font-size="40" font-weight="bold" fill="#fff">g</text>
<text x="578.4" y="1302.6" font-family="Liberation Sans, sans-serif" font-size="33" fill="#fff" text-anchor="end">20°</text>
<clipPath id="cph"><rect x="611.6" y="1272.5" width="264.0" height="246"/></clipPath>
<g clip-path="url(#cph)">
<rect x="611.6" y="1272.5" width="264.0" height="246" fill="url(#pbg)"/>
<rect x="617.9" y="1434" width="242" height="84" fill="url(#body)"/>
<path d="M617.9 1434.0L618.9 1437.0L622.0 1440.0L627.1 1442.8L634.1 1445.5L642.9 1448.0L653.3 1450.3L665.2 1452.2L678.4 1453.9L692.6 1455.2L707.6 1456.2L723.1 1456.8L738.9 1457.0L754.7 1456.8L770.2 1456.2L785.2 1455.2L799.4 1453.9L812.6 1452.2L824.5 1450.3L834.9 1448.0L843.7 1445.5L850.7 1442.8L855.8 1440.0L858.9 1437.0L859.9 1434.0L859.9 1466.0L858.9 1469.0L855.8 1472.0L850.7 1474.8L843.7 1477.5L834.9 1480.0L824.5 1482.3L812.6 1484.2L799.4 1485.9L785.2 1487.2L770.2 1488.2L754.7 1488.8L738.9 1489.0L723.1 1488.8L707.6 1488.2L692.6 1487.2L678.4 1485.9L665.2 1484.2L653.3 1482.3L642.9 1480.0L634.1 1477.5L627.1 1474.8L622.0 1472.0L618.9 1469.0L617.9 1466.0Z" fill="url(#ring)"/>
<path d="M619.4 1468.6V1464.6M619.9 1469.2V1465.2M620.5 1469.8V1465.8M621.2 1470.4V1466.4M622.0 1471.0V1464.0M622.9 1471.5V1467.5M623.8 1472.1V1468.1M624.8 1472.7V1468.7M625.9 1473.2V1469.2M627.1 1473.8V1466.8M628.4 1474.4V1470.4M629.7 1474.9V1470.9M631.1 1475.4V1471.4M632.6 1476.0V1472.0M634.1 1476.5V1469.5M635.7 1477.0V1473.0M637.4 1477.5V1473.5M639.2 1478.0V1474.0M641.0 1478.5V1474.5M642.9 1479.0V1472.0M644.9 1479.5V1475.5M646.9 1479.9V1475.9M649.0 1480.4V1476.4M651.1 1480.8V1476.8M653.3 1481.3V1474.3M655.6 1481.7V1477.7M657.9 1482.1V1478.1M660.3 1482.5V1478.5M662.8 1482.9V1478.9M665.2 1483.2V1476.2M667.8 1483.6V1479.6M670.4 1484.0V1480.0M673.0 1484.3V1480.3M675.7 1484.6V1480.6M678.4 1484.9V1477.9M681.2 1485.2V1481.2M684.0 1485.5V1481.5M686.8 1485.8V1481.8M689.7 1486.0V1482.0M692.6 1486.2V1479.2M695.5 1486.5V1482.5M698.5 1486.7V1482.7M701.5 1486.9V1482.9M704.5 1487.1V1483.1M707.6 1487.2V1480.2M710.7 1487.4V1483.4M713.7 1487.5V1483.5M716.8 1487.6V1483.6M720.0 1487.7V1483.7M723.1 1487.8V1480.8M726.3 1487.9V1483.9M729.4 1487.9V1483.9M732.6 1488.0V1484.0M735.7 1488.0V1484.0M738.9 1488.0V1481.0M742.1 1488.0V1484.0M745.2 1488.0V1484.0M748.4 1487.9V1483.9M751.5 1487.9V1483.9M754.7 1487.8V1480.8M757.8 1487.7V1483.7M761.0 1487.6V1483.6M764.1 1487.5V1483.5M767.1 1487.4V1483.4M770.2 1487.2V1480.2M773.3 1487.1V1483.1M776.3 1486.9V1482.9M779.3 1486.7V1482.7M782.3 1486.5V1482.5M785.2 1486.2V1479.2M788.1 1486.0V1482.0M791.0 1485.8V1481.8M793.8 1485.5V1481.5M796.6 1485.2V1481.2M799.4 1484.9V1477.9M802.1 1484.6V1480.6M804.8 1484.3V1480.3M807.4 1484.0V1480.0M810.0 1483.6V1479.6M812.6 1483.2V1476.2M815.0 1482.9V1478.9M817.5 1482.5V1478.5M819.9 1482.1V1478.1M822.2 1481.7V1477.7M824.5 1481.3V1474.3M826.7 1480.8V1476.8M828.8 1480.4V1476.4M830.9 1479.9V1475.9M832.9 1479.5V1475.5M834.9 1479.0V1472.0M836.8 1478.5V1474.5M838.6 1478.0V1474.0M840.4 1477.5V1473.5M842.1 1477.0V1473.0M843.7 1476.5V1469.5M845.2 1476.0V1472.0M846.7 1475.4V1471.4M848.1 1474.9V1470.9M849.4 1474.4V1470.4M850.7 1473.8V1466.8M851.9 1473.2V1469.2M853.0 1472.7V1468.7M854.0 1472.1V1468.1M854.9 1471.5V1467.5M855.8 1471.0V1464.0M856.6 1470.4V1466.4M857.3 1469.8V1465.8M857.9 1469.2V1465.2M858.4 1468.6V1464.6" stroke="#9a928a" stroke-width="0.9" opacity="0.8"/>
<text x="627.9" y="1457.4" font-family="Liberation Sans, sans-serif" font-size="11" font-weight="bold" fill="#b4aca4" text-anchor="middle" opacity="0.85">20</text>
<text x="641.4" y="1463.6" font-family="Liberation Sans, sans-serif" font-size="11" font-weight="bold" fill="#b4aca4" text-anchor="middle" opacity="0.85">40</text>
<text x="668.1" y="1469.6" font-family="Liberation Sans, sans-serif" font-size="11" font-weight="bold" fill="#b4aca4" text-anchor="middle" opacity="0.85">60</text>
<text x="709.1" y="1473.7" font-family="Liberation Sans, sans-serif" font-size="11" font-weight="bold" fill="#b4aca4" text-anchor="middle" opacity="0.85">80</text>
<text x="758.9" y="1474.1" font-family="Liberation Sans, sans-serif" font-size="11" font-weight="bold" fill="#b4aca4" text-anchor="middle" opacity="0.85">100</text>
<text x="799.8" y="1470.9" font-family="Liberation Sans, sans-serif" font-size="11" font-weight="bold" fill="#b4aca4" text-anchor="middle" opacity="0.85">120</text>
<text x="829.5" y="1465.6" font-family="Liberation Sans, sans-serif" font-size="11" font-weight="bold" fill="#b4aca4" text-anchor="middle" opacity="0.85">140</text>
<ellipse cx="738.9" cy="1434" rx="121" ry="23" fill="#0f0c0b"/>
<ellipse cx="640" cy="1428" rx="7" ry="2.5" fill="#0c0a09"/>
<ellipse cx="660" cy="1424" rx="7" ry="2.5" fill="#0c0a09"/>
<ellipse cx="820" cy="1428" rx="7" ry="2.5" fill="#0c0a09"/>
<ellipse cx="840" cy="1434" rx="7" ry="2.5" fill="#0c0a09"/>
<ellipse cx="766" cy="1358.5" rx="63" ry="71" fill="url(#wafer)" transform="rotate(8 766 1358.5)"/>
<path d="M730.5 1309.6L806.3 1320.3L807.3 1412L734.2 1399.9Z" fill="url(#sq)" stroke="#c88a9c" stroke-width="0.8" stroke-opacity="0.7"/>
<ellipse cx="766" cy="1425.95" rx="66.15" ry="15.62" fill="#0a0908" filter="url(#blur8)" opacity="0.9" transform="rotate(8 766 1358.5)"/>
<rect x="668.5" y="1377.3" width="62.200000000000045" height="50.90000000000009" rx="6" fill="#0a0a0a" opacity="0.5" filter="url(#blur2)"/>
<rect x="671.5" y="1379.3" width="55.200000000000045" height="44.90000000000009" rx="4" fill="#181412" stroke="#3c3632" stroke-width="1.5"/>
<rect x="672.4" y="1383.9" width="42.200000000000045" height="24.399999999999864" fill="#080706"/>
<circle cx="681.8" cy="1413.9" r="5.5" fill="#6a645e" stroke="#2a2522" stroke-width="1.2"/><circle cx="681.8" cy="1413.9" r="2.75" fill="#3a3430"/>
<circle cx="709" cy="1417.6" r="5.5" fill="#6a645e" stroke="#2a2522" stroke-width="1.2"/><circle cx="709" cy="1417.6" r="2.75" fill="#3a3430"/>
<g transform="translate(800 1499) rotate(14.7)"><rect x="-8" y="-4" width="12" height="8" fill="#2a2522"/><rect x="0" y="-8" width="39.3" height="16" fill="url(#knob)"/><ellipse cx="39.3" cy="0" rx="4.4" ry="8" fill="#c8c0b6"/></g>

</g>
<text x="630" y="1309" font-family="Liberation Sans, sans-serif" font-size="40" font-weight="bold" fill="#fff">h</text>
<text x="876.5" y="1302.6" font-family="Liberation Sans, sans-serif" font-size="33" fill="#fff" text-anchor="end">40°</text>
<clipPath id="cpi"><rect x="910.9" y="1272.5" width="264.1" height="246"/></clipPath>
<g clip-path="url(#cpi)">
<rect x="910.9" y="1272.5" width="264.1" height="246" fill="url(#pbg)"/>
<rect x="917.8" y="1437" width="238" height="81" fill="url(#body)"/>
<path d="M917.8 1437.0L918.8 1440.1L921.9 1443.2L926.9 1446.2L933.7 1449.0L942.4 1451.6L952.7 1454.0L964.4 1456.0L977.3 1457.8L991.3 1459.2L1006.0 1460.2L1021.3 1460.8L1036.8 1461.0L1052.3 1460.8L1067.6 1460.2L1082.3 1459.2L1096.3 1457.8L1109.2 1456.0L1120.9 1454.0L1131.2 1451.6L1139.9 1449.0L1146.7 1446.2L1151.7 1443.2L1154.8 1440.1L1155.8 1437.0L1155.8 1463.0L1154.8 1466.4L1151.7 1469.7L1146.7 1472.9L1139.9 1476.0L1131.2 1478.8L1120.9 1481.4L1109.2 1483.6L1096.3 1485.5L1082.3 1487.0L1067.6 1488.1L1052.3 1488.8L1036.8 1489.0L1021.3 1488.8L1006.0 1488.1L991.3 1487.0L977.3 1485.5L964.4 1483.6L952.7 1481.4L942.4 1478.8L933.7 1476.0L926.9 1472.9L921.9 1469.7L918.8 1466.4L917.8 1463.0Z" fill="url(#ring)"/>
<path d="M919.3 1466.1V1462.1M919.8 1466.7V1462.7M920.4 1467.4V1463.4M921.1 1468.1V1464.1M921.9 1468.7V1461.7M922.7 1469.4V1465.4M923.6 1470.0V1466.0M924.6 1470.7V1466.7M925.7 1471.3V1467.3M926.9 1471.9V1464.9M928.1 1472.6V1468.6M929.4 1473.2V1469.2M930.8 1473.8V1469.8M932.2 1474.4V1470.4M933.7 1475.0V1468.0M935.3 1475.6V1471.6M937.0 1476.2V1472.2M938.7 1476.7V1472.7M940.5 1477.3V1473.3M942.4 1477.8V1470.8M944.3 1478.4V1474.4M946.3 1478.9V1474.9M948.4 1479.4V1475.4M950.5 1479.9V1475.9M952.7 1480.4V1473.4M954.9 1480.9V1476.9M957.2 1481.3V1477.3M959.5 1481.8V1477.8M961.9 1482.2V1478.2M964.4 1482.6V1475.6M966.9 1483.0V1479.0M969.4 1483.4V1479.4M972.0 1483.8V1479.8M974.6 1484.2V1480.2M977.3 1484.5V1477.5M980.0 1484.8V1480.8M982.8 1485.2V1481.2M985.6 1485.5V1481.5M988.4 1485.8V1481.8M991.3 1486.0V1479.0M994.2 1486.3V1482.3M997.1 1486.5V1482.5M1000.0 1486.7V1482.7M1003.0 1486.9V1482.9M1006.0 1487.1V1480.1M1009.0 1487.3V1483.3M1012.1 1487.4V1483.4M1015.1 1487.6V1483.6M1018.2 1487.7V1483.7M1021.3 1487.8V1480.8M1024.4 1487.9V1483.9M1027.5 1487.9V1483.9M1030.6 1488.0V1484.0M1033.7 1488.0V1484.0M1036.8 1488.0V1481.0M1039.9 1488.0V1484.0M1043.0 1488.0V1484.0M1046.1 1487.9V1483.9M1049.2 1487.9V1483.9M1052.3 1487.8V1480.8M1055.4 1487.7V1483.7M1058.5 1487.6V1483.6M1061.5 1487.4V1483.4M1064.6 1487.3V1483.3M1067.6 1487.1V1480.1M1070.6 1486.9V1482.9M1073.6 1486.7V1482.7M1076.5 1486.5V1482.5M1079.4 1486.3V1482.3M1082.3 1486.0V1479.0M1085.2 1485.8V1481.8M1088.0 1485.5V1481.5M1090.8 1485.2V1481.2M1093.6 1484.8V1480.8M1096.3 1484.5V1477.5M1099.0 1484.2V1480.2M1101.6 1483.8V1479.8M1104.2 1483.4V1479.4M1106.7 1483.0V1479.0M1109.2 1482.6V1475.6M1111.7 1482.2V1478.2M1114.1 1481.8V1477.8M1116.4 1481.3V1477.3M1118.7 1480.9V1476.9M1120.9 1480.4V1473.4M1123.1 1479.9V1475.9M1125.2 1479.4V1475.4M1127.3 1478.9V1474.9M1129.3 1478.4V1474.4M1131.2 1477.8V1470.8M1133.1 1477.3V1473.3M1134.9 1476.7V1472.7M1136.6 1476.2V1472.2M1138.3 1475.6V1471.6M1139.9 1475.0V1468.0M1141.4 1474.4V1470.4M1142.8 1473.8V1469.8M1144.2 1473.2V1469.2M1145.5 1472.6V1468.6M1146.7 1471.9V1464.9M1147.9 1471.3V1467.3M1149.0 1470.7V1466.7M1150.0 1470.0V1466.0M1150.9 1469.4V1465.4M1151.7 1468.7V1461.7M1152.5 1468.1V1464.1M1153.2 1467.4V1463.4M1153.8 1466.7V1462.7M1154.3 1466.1V1462.1" stroke="#9a928a" stroke-width="0.9" opacity="0.8"/>
<text x="927.6" y="1458.3" font-family="Liberation Sans, sans-serif" font-size="11" font-weight="bold" fill="#b4aca4" text-anchor="middle" opacity="0.85">40</text>
<text x="940.9" y="1465.1" font-family="Liberation Sans, sans-serif" font-size="11" font-weight="bold" fill="#b4aca4" text-anchor="middle" opacity="0.85">60</text>
<text x="967.2" y="1471.5" font-family="Liberation Sans, sans-serif" font-size="11" font-weight="bold" fill="#b4aca4" text-anchor="middle" opacity="0.85">80</text>
<text x="1007.5" y="1475.9" font-family="Liberation Sans, sans-serif" font-size="11" font-weight="bold" fill="#b4aca4" text-anchor="middle" opacity="0.85">100</text>
<text x="1056.4" y="1476.4" font-family="Liberation Sans, sans-serif" font-size="11" font-weight="bold" fill="#b4aca4" text-anchor="middle" opacity="0.85">120</text>
<text x="1096.7" y="1473.0" font-family="Liberation Sans, sans-serif" font-size="11" font-weight="bold" fill="#b4aca4" text-anchor="middle" opacity="0.85">140</text>
<text x="1125.9" y="1467.2" font-family="Liberation Sans, sans-serif" font-size="11" font-weight="bold" fill="#b4aca4" text-anchor="middle" opacity="0.85">160</text>
<ellipse cx="1036.8" cy="1437" rx="119" ry="24" fill="#0f0c0b"/>
<ellipse cx="940" cy="1430" rx="7" ry="2.5" fill="#0c0a09"/>
<ellipse cx="960" cy="1426" rx="7" ry="2.5" fill="#0c0a09"/>
<ellipse cx="1120" cy="1430" rx="7" ry="2.5" fill="#0c0a09"/>
<ellipse cx="1140" cy="1434" rx="7" ry="2.5" fill="#0c0a09"/>
<ellipse cx="1051.7" cy="1362.4" rx="36.5" ry="71.5" fill="url(#wafer2)" transform="rotate(8 1051.7 1362.4)"/>
<path d="M1031.1 1310.9L1075.1 1325.9L1077 1417.7L1033 1402.7Z" fill="url(#sq2)" stroke="#c88a9c" stroke-width="0.8" stroke-opacity="0.7"/>
<ellipse cx="1051.7" cy="1430.325" rx="38.325" ry="15.73" fill="#0a0908" filter="url(#blur8)" opacity="0.9" transform="rotate(8 1051.7 1362.4)"/>
<g transform="translate(1100 1500) rotate(15.9)"><rect x="-8" y="-4" width="12" height="8" fill="#2a2522"/><rect x="0" y="-8" width="36.4" height="16" fill="url(#knob)"/><ellipse cx="36.4" cy="0" rx="4.4" ry="8" fill="#c8c0b6"/></g>
<ellipse cx="1094.8" cy="1384.9" rx="8" ry="16" fill="#0e0c0b"/><circle cx="933.7" cy="1502.9" r="6" fill="#0c0a09"/><path d="M1012 1372L1031 1374L1031 1421L1008 1423Z" fill="#0b0908"/><path d="M989.5 1376.5L1016.5 1382.5L1012 1421L984 1414Z" fill="#1e1a17"/><path d="M992.1 1379.6L1014.6 1385L1010.3 1407.5L988.4 1401Z" fill="#090807"/><circle cx="996.4" cy="1410" r="3.8" fill="#3a3430"/><circle cx="1008.5" cy="1414" r="3.8" fill="#3a3430"/>
</g>
<text x="929" y="1309" font-family="Liberation Sans, sans-serif" font-size="40" font-weight="bold" fill="#fff">i</text>
<text x="1174.3" y="1302.6" font-family="Liberation Sans, sans-serif" font-size="33" fill="#fff" text-anchor="end">60°</text>
<clipPath id="cpj"><rect x="1210.3" y="1272.5" width="262.79999999999995" height="246"/></clipPath>
<g clip-path="url(#cpj)">
<rect x="1210.3" y="1272.5" width="262.79999999999995" height="246" fill="url(#pbg)"/>
<rect x="1216" y="1430" width="236" height="88" fill="url(#body)"/>
<path d="M1216.0 1430.0L1217.0 1432.9L1220.0 1435.7L1225.0 1438.4L1231.8 1441.0L1240.4 1443.4L1250.6 1445.6L1262.2 1447.5L1275.0 1449.1L1288.8 1450.3L1303.5 1451.3L1318.6 1451.8L1334.0 1452.0L1349.4 1451.8L1364.5 1451.3L1379.2 1450.3L1393.0 1449.1L1405.8 1447.5L1417.4 1445.6L1427.6 1443.4L1436.2 1441.0L1443.0 1438.4L1448.0 1435.7L1451.0 1432.9L1452.0 1430.0L1452.0 1462.0L1451.0 1464.9L1448.0 1467.7L1443.0 1470.4L1436.2 1473.0L1427.6 1475.4L1417.4 1477.6L1405.8 1479.5L1393.0 1481.1L1379.2 1482.3L1364.5 1483.3L1349.4 1483.8L1334.0 1484.0L1318.6 1483.8L1303.5 1483.3L1288.8 1482.3L1275.0 1481.1L1262.2 1479.5L1250.6 1477.6L1240.4 1475.4L1231.8 1473.0L1225.0 1470.4L1220.0 1467.7L1217.0 1464.9L1216.0 1462.0Z" fill="url(#ring)"/>
<path d="M1217.5 1464.4V1460.4M1218.0 1465.0V1461.0M1218.6 1465.6V1461.6M1219.3 1466.1V1462.1M1220.0 1466.7V1459.7M1220.9 1467.2V1463.2M1221.8 1467.8V1463.8M1222.8 1468.3V1464.3M1223.8 1468.9V1464.9M1225.0 1469.4V1462.4M1226.2 1469.9V1465.9M1227.5 1470.5V1466.5M1228.9 1471.0V1467.0M1230.3 1471.5V1467.5M1231.8 1472.0V1465.0M1233.4 1472.5V1468.5M1235.0 1473.0V1469.0M1236.8 1473.5V1469.5M1238.5 1473.9V1469.9M1240.4 1474.4V1467.4M1242.3 1474.8V1470.8M1244.3 1475.3V1471.3M1246.3 1475.7V1471.7M1248.4 1476.1V1472.1M1250.6 1476.6V1469.6M1252.8 1477.0V1473.0M1255.0 1477.3V1473.3M1257.4 1477.7V1473.7M1259.7 1478.1V1474.1M1262.2 1478.5V1471.5M1264.6 1478.8V1474.8M1267.2 1479.1V1475.1M1269.7 1479.5V1475.5M1272.3 1479.8V1475.8M1275.0 1480.1V1473.1M1277.7 1480.3V1476.3M1280.4 1480.6V1476.6M1283.2 1480.9V1476.9M1286.0 1481.1V1477.1M1288.8 1481.3V1474.3M1291.7 1481.5V1477.5M1294.6 1481.7V1477.7M1297.5 1481.9V1477.9M1300.5 1482.1V1478.1M1303.5 1482.3V1475.3M1306.5 1482.4V1478.4M1309.5 1482.5V1478.5M1312.5 1482.6V1478.6M1315.5 1482.7V1478.7M1318.6 1482.8V1475.8M1321.7 1482.9V1478.9M1324.7 1482.9V1478.9M1327.8 1483.0V1479.0M1330.9 1483.0V1479.0M1334.0 1483.0V1476.0M1337.1 1483.0V1479.0M1340.2 1483.0V1479.0M1343.3 1482.9V1478.9M1346.3 1482.9V1478.9M1349.4 1482.8V1475.8M1352.5 1482.7V1478.7M1355.5 1482.6V1478.6M1358.5 1482.5V1478.5M1361.5 1482.4V1478.4M1364.5 1482.3V1475.3M1367.5 1482.1V1478.1M1370.5 1481.9V1477.9M1373.4 1481.7V1477.7M1376.3 1481.5V1477.5M1379.2 1481.3V1474.3M1382.0 1481.1V1477.1M1384.8 1480.9V1476.9M1387.6 1480.6V1476.6M1390.3 1480.3V1476.3M1393.0 1480.1V1473.1M1395.7 1479.8V1475.8M1398.3 1479.5V1475.5M1400.8 1479.1V1475.1M1403.4 1478.8V1474.8M1405.8 1478.5V1471.5M1408.3 1478.1V1474.1M1410.6 1477.7V1473.7M1413.0 1477.3V1473.3M1415.2 1477.0V1473.0M1417.4 1476.6V1469.6M1419.6 1476.1V1472.1M1421.7 1475.7V1471.7M1423.7 1475.3V1471.3M1425.7 1474.8V1470.8M1427.6 1474.4V1467.4M1429.5 1473.9V1469.9M1431.2 1473.5V1469.5M1433.0 1473.0V1469.0M1434.6 1472.5V1468.5M1436.2 1472.0V1465.0M1437.7 1471.5V1467.5M1439.1 1471.0V1467.0M1440.5 1470.5V1466.5M1441.8 1469.9V1465.9M1443.0 1469.4V1462.4M1444.2 1468.9V1464.9M1445.2 1468.3V1464.3M1446.2 1467.8V1463.8M1447.1 1467.2V1463.2M1448.0 1466.7V1459.7M1448.7 1466.1V1462.1M1449.4 1465.6V1461.6M1450.0 1465.0V1461.0M1450.5 1464.4V1460.4" stroke="#9a928a" stroke-width="0.9" opacity="0.8"/>
<text x="1225.7" y="1453.1" font-family="Liberation Sans, sans-serif" font-size="11" font-weight="bold" fill="#b4aca4" text-anchor="middle" opacity="0.85">40</text>
<text x="1238.9" y="1459.1" font-family="Liberation Sans, sans-serif" font-size="11" font-weight="bold" fill="#b4aca4" text-anchor="middle" opacity="0.85">60</text>
<text x="1265.0" y="1464.8" font-family="Liberation Sans, sans-serif" font-size="11" font-weight="bold" fill="#b4aca4" text-anchor="middle" opacity="0.85">80</text>
<text x="1305.0" y="1468.7" font-family="Liberation Sans, sans-serif" font-size="11" font-weight="bold" fill="#b4aca4" text-anchor="middle" opacity="0.85">100</text>
<text x="1353.5" y="1469.1" font-family="Liberation Sans, sans-serif" font-size="11" font-weight="bold" fill="#b4aca4" text-anchor="middle" opacity="0.85">120</text>
<text x="1393.4" y="1466.1" font-family="Liberation Sans, sans-serif" font-size="11" font-weight="bold" fill="#b4aca4" text-anchor="middle" opacity="0.85">140</text>
<text x="1422.3" y="1461.0" font-family="Liberation Sans, sans-serif" font-size="11" font-weight="bold" fill="#b4aca4" text-anchor="middle" opacity="0.85">160</text>
<ellipse cx="1334" cy="1430" rx="118" ry="22" fill="#0f0c0b"/>
<ellipse cx="1240" cy="1424" rx="7" ry="2.5" fill="#0c0a09"/>
<ellipse cx="1260" cy="1420" rx="7" ry="2.5" fill="#0c0a09"/>
<ellipse cx="1420" cy="1424" rx="7" ry="2.5" fill="#0c0a09"/>
<ellipse cx="1440" cy="1430" rx="7" ry="2.5" fill="#0c0a09"/>
<ellipse cx="1341.9" cy="1361" rx="19.5" ry="70.7" fill="url(#wafer2)" transform="rotate(5 1341.9 1361)"/>
<path d="M1330.2 1310.9L1353.6 1324.9L1355.5 1416.7L1331.1 1409.2Z" fill="url(#sq3)" stroke="#c88a9c" stroke-width="0.8" stroke-opacity="0.7"/>
<ellipse cx="1341.9" cy="1428.165" rx="20.475" ry="15.554" fill="#0a0908" filter="url(#blur8)" opacity="0.9" transform="rotate(5 1341.9 1361)"/>
<rect x="1293" y="1369" width="40" height="55" rx="6" fill="#0a0a0a" opacity="0.5" filter="url(#blur2)"/>
<rect x="1296" y="1371" width="33" height="49" rx="4" fill="#181412" stroke="#151210" stroke-width="1.5"/>
<g transform="translate(1395 1498) rotate(21.8)"><rect x="-8" y="-4" width="12" height="8" fill="#2a2522"/><rect x="0" y="-8" width="37.7" height="16" fill="url(#knob)"/><ellipse cx="37.7" cy="0" rx="4.4" ry="8" fill="#c8c0b6"/></g>
<rect x="1363" y="1367" width="49" height="33" rx="4" fill="#0e0c0b"/><circle cx="1245" cy="1505" r="6" fill="#0c0a09"/>
</g>
<text x="1229" y="1309" font-family="Liberation Sans, sans-serif" font-size="40" font-weight="bold" fill="#fff">j</text>
<text x="1466.9" y="1302.6" font-family="Liberation Sans, sans-serif" font-size="33" fill="#fff" text-anchor="end">80°</text>
</svg>
</body></html>
